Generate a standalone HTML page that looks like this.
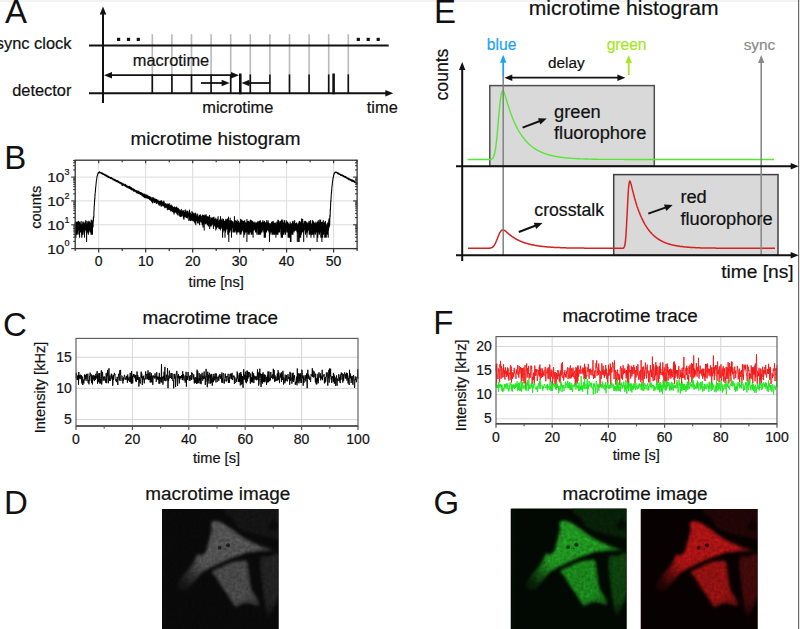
<!DOCTYPE html>
<html><head><meta charset="utf-8"><style>
html,body{margin:0;padding:0;background:#fff;}
body{width:800px;height:629px;overflow:hidden;position:relative;}
svg text{font-family:"Liberation Sans", sans-serif;}
</style></head><body>
<svg width="800" height="629" viewBox="0 0 800 629" style="position:absolute;left:0;top:0">
<defs>
<filter id="cellf" x="0" y="0" width="100%" height="100%" color-interpolation-filters="sRGB">
<feGaussianBlur in="SourceGraphic" stdDeviation="1.7" result="b"/>
<feTurbulence type="fractalNoise" baseFrequency="0.3" numOctaves="2" seed="5" result="n"/>
<feColorMatrix in="n" type="matrix" values="0.33 0.33 0.33 0 0  0.33 0.33 0.33 0 0  0.33 0.33 0.33 0 0  0 0 0 0 1" result="ng"/>
<feComposite in="b" in2="ng" operator="arithmetic" k1="1.0" k2="0.55" k3="0" k4="0"/>
</filter>
<filter id="soft"><feGaussianBlur stdDeviation="0.7"/></filter>
</defs>
<rect x="0" y="0" width="800" height="2" fill="#f2f2f2"/>
<rect x="798" y="0" width="1.2" height="629" fill="#6a6a6a"/>
<text x="4.9" y="23.3" font-size="33" text-anchor="start" fill="#111" stroke="#111" stroke-width="0.0" >A</text>
<line x1="103" y1="103" x2="103" y2="12" stroke="#111" stroke-width="2" />
<path d="M103 6.5L106.3 14.5L99.7 14.5Z" fill="#111"/>
<line x1="152.3" y1="34.2" x2="152.3" y2="93" stroke="#b9b9b9" stroke-width="1.6" />
<line x1="171.9" y1="34.2" x2="171.9" y2="93" stroke="#b9b9b9" stroke-width="1.6" />
<line x1="191.5" y1="34.2" x2="191.5" y2="93" stroke="#b9b9b9" stroke-width="1.6" />
<line x1="211.1" y1="34.2" x2="211.1" y2="93" stroke="#b9b9b9" stroke-width="1.6" />
<line x1="230.7" y1="34.2" x2="230.7" y2="93" stroke="#b9b9b9" stroke-width="1.6" />
<line x1="250.3" y1="34.2" x2="250.3" y2="93" stroke="#b9b9b9" stroke-width="1.6" />
<line x1="269.9" y1="34.2" x2="269.9" y2="93" stroke="#b9b9b9" stroke-width="1.6" />
<line x1="289.5" y1="34.2" x2="289.5" y2="93" stroke="#b9b9b9" stroke-width="1.6" />
<line x1="309.1" y1="34.2" x2="309.1" y2="93" stroke="#b9b9b9" stroke-width="1.6" />
<line x1="328.7" y1="34.2" x2="328.7" y2="93" stroke="#b9b9b9" stroke-width="1.6" />
<line x1="348.3" y1="34.2" x2="348.3" y2="93" stroke="#b9b9b9" stroke-width="1.6" />
<line x1="89" y1="45.6" x2="388.7" y2="45.6" stroke="#111" stroke-width="2" />
<rect x="117" y="37.8" width="3.2" height="3.2" fill="#111"/>
<rect x="126.9" y="37.8" width="3.2" height="3.2" fill="#111"/>
<rect x="136.7" y="37.8" width="3.2" height="3.2" fill="#111"/>
<rect x="356.7" y="37.8" width="3.2" height="3.2" fill="#111"/>
<rect x="366.6" y="37.8" width="3.2" height="3.2" fill="#111"/>
<rect x="376.6" y="37.8" width="3.2" height="3.2" fill="#111"/>
<line x1="89" y1="93.2" x2="387" y2="93.2" stroke="#111" stroke-width="2" />
<path d="M393.3 93.2L385.3 96.4L385.3 90Z" fill="#111"/>
<line x1="152.3" y1="74.4" x2="152.3" y2="93.2" stroke="#111" stroke-width="1.6" />
<line x1="171.9" y1="74.4" x2="171.9" y2="93.2" stroke="#111" stroke-width="1.6" />
<line x1="191.5" y1="74.4" x2="191.5" y2="93.2" stroke="#111" stroke-width="1.6" />
<line x1="211.1" y1="74.4" x2="211.1" y2="93.2" stroke="#111" stroke-width="1.6" />
<line x1="230.7" y1="74.4" x2="230.7" y2="93.2" stroke="#111" stroke-width="1.6" />
<line x1="250.3" y1="74.4" x2="250.3" y2="93.2" stroke="#111" stroke-width="1.6" />
<line x1="269.9" y1="74.4" x2="269.9" y2="93.2" stroke="#111" stroke-width="1.6" />
<line x1="289.5" y1="74.4" x2="289.5" y2="93.2" stroke="#111" stroke-width="1.6" />
<line x1="309.1" y1="74.4" x2="309.1" y2="93.2" stroke="#111" stroke-width="1.6" />
<line x1="328.7" y1="74.4" x2="328.7" y2="93.2" stroke="#111" stroke-width="1.6" />
<line x1="348.3" y1="74.4" x2="348.3" y2="93.2" stroke="#111" stroke-width="1.6" />
<line x1="240.3" y1="73.5" x2="240.3" y2="94.3" stroke="#111" stroke-width="2.6" />
<line x1="333.6" y1="73.5" x2="333.6" y2="94.3" stroke="#111" stroke-width="2.6" />
<line x1="110.4" y1="75.2" x2="232.6" y2="75.2" stroke="#111" stroke-width="1.8" />
<path d="M239 75.2L231 78.4L231 72Z" fill="#111"/>
<path d="M104 75.2L112 72L112 78.4Z" fill="#111"/>
<line x1="201" y1="83" x2="223.2" y2="83" stroke="#111" stroke-width="1.8" />
<path d="M229.6 83L221.6 86.2L221.6 79.8Z" fill="#111"/>
<line x1="270" y1="83" x2="247.9" y2="83" stroke="#111" stroke-width="1.8" />
<path d="M241.5 83L249.5 79.8L249.5 86.2Z" fill="#111"/>
<text x="71.4" y="48.9" font-size="16.4" text-anchor="end" fill="#111" stroke="#111" stroke-width="0.2" >sync clock</text>
<text x="71.4" y="95.6" font-size="16.4" text-anchor="end" fill="#111" stroke="#111" stroke-width="0.2" >detector</text>
<text x="171" y="66" font-size="16.4" text-anchor="middle" fill="#111" stroke="#111" stroke-width="0.2" >macrotime</text>
<text x="237.8" y="112.6" font-size="16.4" text-anchor="middle" fill="#111" stroke="#111" stroke-width="0.2" >microtime</text>
<text x="382.3" y="113.4" font-size="16.4" text-anchor="middle" fill="#111" stroke="#111" stroke-width="0.2" >time</text>
<text x="4.2" y="169.2" font-size="33" text-anchor="start" fill="#111" stroke="#111" stroke-width="0.0" >B</text>
<text x="215.5" y="144.8" font-size="18.9" text-anchor="middle" fill="#111" stroke="#111" stroke-width="0.2" >microtime histogram</text>
<line x1="98.7" y1="160.2" x2="98.7" y2="248.6" stroke="#dcdcdc" stroke-width="1" />
<line x1="145.7" y1="160.2" x2="145.7" y2="248.6" stroke="#dcdcdc" stroke-width="1" />
<line x1="192.7" y1="160.2" x2="192.7" y2="248.6" stroke="#dcdcdc" stroke-width="1" />
<line x1="239.6" y1="160.2" x2="239.6" y2="248.6" stroke="#dcdcdc" stroke-width="1" />
<line x1="286.6" y1="160.2" x2="286.6" y2="248.6" stroke="#dcdcdc" stroke-width="1" />
<line x1="333.6" y1="160.2" x2="333.6" y2="248.6" stroke="#dcdcdc" stroke-width="1" />
<line x1="75.2" y1="224.8" x2="357.1" y2="224.8" stroke="#dcdcdc" stroke-width="1" />
<line x1="75.2" y1="200.9" x2="357.1" y2="200.9" stroke="#dcdcdc" stroke-width="1" />
<line x1="75.2" y1="177.1" x2="357.1" y2="177.1" stroke="#dcdcdc" stroke-width="1" />
<path d="M75.2 230.1 75.3 222.1 75.3 237.2 75.4 228.5 75.5 234.3 75.5 225.9 75.6 228.5 75.7 224.8 75.7 228.5 75.8 222.9 75.9 230.1 75.9 237.2 76.0 223.8 76.1 230.1 76.1 228.5 76.2 228.5 76.3 222.1 76.4 223.8 76.4 224.8 76.5 227.1 76.6 228.5 76.6 234.3 76.7 230.1 76.8 225.9 76.8 227.1 76.9 223.8 77.0 228.5 77.0 228.5 77.1 227.1 77.2 230.1 77.2 231.9 77.3 223.8 77.4 230.1 77.4 222.1 77.5 225.9 77.6 222.1 77.6 228.5 77.7 231.9 77.8 225.9 77.8 234.3 77.9 227.1 78.0 228.5 78.0 225.9 78.1 222.9 78.2 227.1 78.2 222.1 78.3 230.1 78.4 224.8 78.4 230.1 78.5 221.3 78.6 222.9 78.6 224.8 78.7 222.1 78.8 223.8 78.8 227.1 78.9 225.9 79.0 227.1 79.0 224.8 79.1 230.1 79.2 234.3 79.2 234.3 79.3 224.8 79.4 228.5 79.4 223.8 79.5 227.1 79.6 225.9 79.6 237.2 79.7 225.9 79.8 231.9 79.8 222.1 79.9 228.5 80.0 231.9 80.0 230.1 80.1 228.5 80.2 228.5 80.2 228.5 80.3 225.9 80.4 227.1 80.4 225.9 80.5 230.1 80.6 231.9 80.6 225.9 80.7 231.9 80.8 231.9 80.8 230.1 80.9 223.8 81.0 225.9 81.1 231.9 81.1 223.8 81.2 221.3 81.3 228.5 81.3 228.5 81.4 230.1 81.5 228.5 81.5 225.9 81.6 231.9 81.7 237.2 81.7 234.3 81.8 234.3 81.9 231.9 81.9 237.2 82.0 227.1 82.1 228.5 82.1 228.5 82.2 227.1 82.3 224.8 82.3 230.1 82.4 225.9 82.5 228.5 82.5 234.3 82.6 223.8 82.7 225.9 82.7 231.9 82.8 222.1 82.9 231.9 82.9 230.1 83.0 224.8 83.1 231.9 83.1 234.3 83.2 228.5 83.3 227.1 83.3 222.1 83.4 227.1 83.5 230.1 83.5 228.5 83.6 225.9 83.7 227.1 83.7 223.8 83.8 228.5 83.9 227.1 83.9 225.9 84.0 223.8 84.1 227.1 84.1 228.5 84.2 224.8 84.3 231.9 84.3 230.1 84.4 223.8 84.5 223.8 84.5 237.2 84.6 228.5 84.7 228.5 84.7 225.9 84.8 231.9 84.9 223.8 84.9 225.9 85.0 222.1 85.1 227.1 85.1 225.9 85.2 225.9 85.3 223.8 85.3 228.5 85.4 230.1 85.5 225.9 85.5 222.1 85.6 228.5 85.7 228.5 85.7 220.6 85.8 224.8 85.9 225.9 86.0 228.5 86.0 227.1 86.1 225.9 86.2 230.1 86.2 224.8 86.3 227.1 86.4 228.5 86.4 225.9 86.5 227.1 86.6 241.4 86.6 227.1 86.7 225.9 86.8 234.3 86.8 234.3 86.9 225.9 87.0 221.3 87.0 224.8 87.1 230.1 87.2 224.8 87.2 230.1 87.3 222.1 87.4 230.1 87.4 228.5 87.5 227.1 87.6 224.8 87.6 230.1 87.7 231.9 87.8 224.8 87.8 230.1 87.9 230.1 88.0 227.1 88.0 227.1 88.1 228.5 88.2 224.8 88.2 228.5 88.3 223.8 88.4 234.3 88.4 234.3 88.5 222.1 88.6 227.1 88.6 231.9 88.7 225.9 88.8 225.9 88.8 221.3 88.9 230.1 89.0 221.3 89.0 225.9 89.1 225.9 89.2 227.1 89.2 228.5 89.3 223.8 89.4 222.9 89.4 222.9 89.5 223.8 89.6 224.8 89.6 224.8 89.7 230.1 89.8 222.1 89.8 230.1 89.9 228.5 90.0 231.9 90.0 224.8 90.1 224.8 90.2 231.9 90.2 231.9 90.3 228.5 90.4 231.9 90.4 230.1 90.5 230.1 90.6 225.9 90.6 230.1 90.7 223.8 90.8 230.1 90.9 224.8 90.9 222.9 91.0 234.3 91.1 227.1 91.1 225.9 91.2 219.9 91.3 224.8 91.3 223.8 91.4 224.8 91.5 231.9 91.5 234.3 91.6 222.9 91.7 224.8 91.7 230.1 91.8 220.6 91.9 231.9 91.9 227.1 92.0 227.1 92.1 234.3 92.1 225.9 92.2 224.8 92.3 230.1 92.3 225.9 92.4 221.3 92.5 234.3 92.5 222.9 92.6 227.1 92.7 225.9 92.7 223.8 92.8 227.1 92.9 225.9 92.9 224.8 93.0 222.1 93.1 227.1 93.1 222.9 93.2 222.9 93.3 218.1 93.3 217.6 93.4 221.3 93.5 219.9 93.5 218.7 93.6 216.6 93.7 217.6 93.7 216.6 93.8 217.6 93.9 215.3 93.9 211.2 94.0 211.5 94.1 209.7 94.1 207.7 94.2 206.4 94.3 206.2 94.3 205.9 94.4 203.6 94.5 204.9 94.5 202.5 94.6 200.4 94.7 199.1 94.7 198.8 94.8 198.6 94.9 198.9 94.9 196.3 95.0 194.6 95.1 195.6 95.1 193.5 95.2 193.2 95.3 192.2 95.3 190.9 95.4 190.3 95.5 191.2 95.6 188.1 95.6 187.5 95.7 187.5 95.8 187.2 95.8 186.7 95.9 185.6 96.0 185.1 96.0 184.1 96.1 183.6 96.2 183.0 96.2 182.7 96.3 181.1 96.4 181.0 96.4 180.5 96.5 179.8 96.6 180.0 96.6 179.8 96.7 179.3 96.8 178.3 96.8 177.9 96.9 178.3 97.0 176.7 97.0 176.5 97.1 176.3 97.2 176.3 97.2 175.9 97.3 175.6 97.4 175.5 97.4 174.9 97.5 175.5 97.6 174.7 97.6 174.2 97.7 174.4 97.8 173.5 97.8 173.8 97.9 173.5 98.0 173.7 98.0 173.1 98.1 173.2 98.2 173.5 98.2 172.9 98.3 173.3 98.4 173.0 98.4 172.8 98.5 172.3 98.6 172.7 98.6 172.2 98.7 172.5 98.8 172.5 98.8 172.6 98.9 172.5 99.0 172.4 99.0 172.7 99.1 172.2 99.2 172.3 99.2 172.2 99.3 172.8 99.4 171.7 99.4 171.7 99.5 172.3 99.6 171.8 99.6 172.5 99.7 172.3 99.8 172.0 99.8 173.0 99.9 172.3 100.0 172.4 100.0 172.3 100.1 172.6 100.2 172.5 100.2 172.6 100.3 172.5 100.4 172.6 100.5 172.6 100.5 172.7 100.6 172.6 100.7 172.8 100.7 172.8 100.8 172.6 100.9 172.7 100.9 172.9 101.0 172.9 101.1 172.6 101.1 173.2 101.2 172.9 101.3 173.1 101.3 173.4 101.4 173.5 101.5 173.4 101.5 173.3 101.6 173.6 101.7 173.0 101.7 173.0 101.8 173.1 101.9 173.1 101.9 173.6 102.0 173.6 102.1 173.6 102.1 173.1 102.2 173.5 102.3 173.2 102.3 173.6 102.4 173.4 102.5 173.5 102.5 173.3 102.6 173.7 102.7 174.3 102.7 173.6 102.8 173.9 102.9 173.4 102.9 173.5 103.0 174.0 103.1 174.2 103.1 174.3 103.2 174.6 103.3 173.5 103.3 173.9 103.4 174.4 103.5 174.0 103.5 173.8 103.6 174.4 103.7 174.1 103.7 174.4 103.8 174.3 103.9 174.3 103.9 174.2 104.0 174.4 104.1 174.4 104.1 174.8 104.2 174.1 104.3 174.5 104.3 174.3 104.4 174.8 104.5 174.7 104.5 175.2 104.6 174.6 104.7 175.2 104.7 174.7 104.8 174.9 104.9 174.4 104.9 174.6 105.0 175.3 105.1 174.3 105.2 175.0 105.2 175.1 105.3 175.3 105.4 175.6 105.4 175.2 105.5 175.1 105.6 175.4 105.6 175.3 105.7 175.0 105.8 175.4 105.8 175.8 105.9 175.9 106.0 175.3 106.0 175.8 106.1 175.5 106.2 175.3 106.2 175.5 106.3 175.5 106.4 175.1 106.4 176.1 106.5 175.4 106.6 175.6 106.6 176.1 106.7 176.4 106.8 176.1 106.8 176.0 106.9 175.6 107.0 176.7 107.0 175.9 107.1 176.3 107.2 176.1 107.2 176.0 107.3 177.0 107.4 176.3 107.4 176.9 107.5 176.5 107.6 176.0 107.6 175.9 107.7 176.5 107.8 177.0 107.8 176.4 107.9 176.1 108.0 177.2 108.0 176.3 108.1 176.7 108.2 177.1 108.2 176.5 108.3 176.5 108.4 177.1 108.4 177.5 108.5 176.8 108.6 177.1 108.6 176.3 108.7 176.8 108.8 176.8 108.8 177.1 108.9 177.6 109.0 176.7 109.0 177.4 109.1 176.9 109.2 177.2 109.2 177.1 109.3 177.3 109.4 177.0 109.4 177.0 109.5 177.1 109.6 177.6 109.6 177.5 109.7 177.4 109.8 177.2 109.8 177.1 109.9 177.1 110.0 178.0 110.1 178.1 110.1 178.0 110.2 177.5 110.3 178.6 110.3 177.9 110.4 177.9 110.5 177.7 110.5 177.6 110.6 178.0 110.7 177.8 110.7 178.0 110.8 178.3 110.9 177.8 110.9 177.4 111.0 177.5 111.1 177.9 111.1 178.0 111.2 178.8 111.3 178.5 111.3 178.4 111.4 178.1 111.5 178.7 111.5 177.9 111.6 177.6 111.7 178.5 111.7 178.5 111.8 178.6 111.9 178.8 111.9 178.6 112.0 178.6 112.1 178.3 112.1 178.8 112.2 178.9 112.3 178.5 112.3 178.9 112.4 178.8 112.5 178.8 112.5 178.9 112.6 179.2 112.7 178.2 112.7 179.1 112.8 179.0 112.9 179.6 112.9 179.5 113.0 178.8 113.1 179.2 113.1 179.4 113.2 178.8 113.3 179.3 113.3 178.7 113.4 179.4 113.5 179.5 113.5 179.7 113.6 179.2 113.7 179.5 113.7 179.4 113.8 179.7 113.9 180.2 113.9 179.7 114.0 179.4 114.1 179.4 114.1 179.7 114.2 180.0 114.3 179.3 114.3 180.4 114.4 179.8 114.5 180.1 114.5 179.6 114.6 179.4 114.7 180.3 114.7 180.0 114.8 180.0 114.9 180.0 115.0 180.0 115.0 180.8 115.1 180.4 115.2 180.1 115.2 180.4 115.3 180.6 115.4 179.8 115.4 180.5 115.5 180.6 115.6 179.9 115.6 180.8 115.7 180.8 115.8 180.0 115.8 180.1 115.9 181.0 116.0 180.3 116.0 181.1 116.1 181.2 116.2 180.8 116.2 181.7 116.3 181.4 116.4 181.0 116.4 180.5 116.5 181.1 116.6 181.2 116.6 180.6 116.7 180.6 116.8 180.9 116.8 181.4 116.9 180.5 117.0 180.6 117.0 180.8 117.1 180.9 117.2 181.1 117.2 181.8 117.3 181.0 117.4 181.3 117.4 181.3 117.5 181.2 117.6 181.4 117.6 181.7 117.7 181.9 117.8 180.6 117.8 181.5 117.9 181.5 118.0 182.2 118.0 181.7 118.1 181.5 118.2 181.0 118.2 181.4 118.3 182.7 118.4 181.8 118.4 182.0 118.5 182.4 118.6 182.3 118.6 181.6 118.7 181.7 118.8 182.2 118.8 181.7 118.9 181.6 119.0 182.5 119.0 182.3 119.1 181.7 119.2 182.5 119.2 182.2 119.3 182.5 119.4 182.2 119.4 182.8 119.5 182.8 119.6 182.4 119.7 182.2 119.7 183.2 119.8 182.7 119.9 182.9 119.9 182.3 120.0 182.9 120.1 182.2 120.1 183.2 120.2 183.0 120.3 182.9 120.3 183.2 120.4 183.1 120.5 182.5 120.5 182.7 120.6 182.8 120.7 183.7 120.7 182.2 120.8 183.0 120.9 183.7 120.9 182.8 121.0 183.9 121.1 183.2 121.1 182.6 121.2 183.8 121.3 183.8 121.3 183.7 121.4 183.3 121.5 183.0 121.5 183.3 121.6 184.3 121.7 182.9 121.7 183.6 121.8 183.4 121.9 183.9 121.9 183.9 122.0 183.4 122.1 184.0 122.1 185.6 122.2 184.0 122.3 183.3 122.3 184.0 122.4 184.8 122.5 184.0 122.5 183.5 122.6 183.6 122.7 184.1 122.7 184.0 122.8 184.7 122.9 183.8 122.9 185.2 123.0 184.1 123.1 184.0 123.1 184.0 123.2 184.8 123.3 184.6 123.3 184.2 123.4 184.3 123.5 184.6 123.5 184.7 123.6 183.9 123.7 184.4 123.7 183.8 123.8 184.6 123.9 184.9 123.9 185.0 124.0 184.1 124.1 184.6 124.1 185.4 124.2 185.0 124.3 184.6 124.3 184.9 124.4 185.3 124.5 185.0 124.6 185.5 124.6 185.6 124.7 185.1 124.8 185.5 124.8 185.9 124.9 184.9 125.0 185.3 125.0 186.1 125.1 185.7 125.2 185.7 125.2 185.6 125.3 184.9 125.4 185.7 125.4 185.7 125.5 185.1 125.6 184.2 125.6 185.5 125.7 186.2 125.8 184.8 125.8 185.0 125.9 186.1 126.0 185.3 126.0 186.3 126.1 186.5 126.2 185.8 126.2 186.7 126.3 186.2 126.4 186.3 126.4 185.7 126.5 186.4 126.6 186.5 126.6 187.1 126.7 186.4 126.8 185.7 126.8 186.4 126.9 185.8 127.0 186.7 127.0 186.0 127.1 186.9 127.2 186.3 127.2 185.8 127.3 186.6 127.4 186.4 127.4 186.3 127.5 186.4 127.6 187.1 127.6 186.6 127.7 187.5 127.8 187.0 127.8 187.7 127.9 186.4 128.0 187.2 128.0 186.9 128.1 187.1 128.2 187.2 128.2 186.6 128.3 186.4 128.4 187.7 128.4 187.0 128.5 187.1 128.6 186.7 128.6 187.4 128.7 187.7 128.8 186.8 128.8 187.3 128.9 187.3 129.0 186.7 129.0 187.5 129.1 187.2 129.2 186.2 129.2 188.4 129.3 187.0 129.4 187.5 129.5 188.6 129.5 188.0 129.6 188.5 129.7 188.5 129.7 187.7 129.8 187.6 129.9 187.8 129.9 186.6 130.0 188.2 130.1 187.8 130.1 188.1 130.2 188.1 130.3 188.2 130.3 188.5 130.4 188.2 130.5 187.9 130.5 188.0 130.6 187.2 130.7 187.8 130.7 188.5 130.8 187.6 130.9 188.4 130.9 189.4 131.0 189.3 131.1 188.8 131.1 188.6 131.2 188.6 131.3 189.5 131.3 187.4 131.4 187.5 131.5 188.5 131.5 189.7 131.6 188.9 131.7 189.2 131.7 189.2 131.8 189.2 131.9 188.9 131.9 189.1 132.0 189.9 132.1 189.2 132.1 188.7 132.2 189.3 132.3 189.2 132.3 189.2 132.4 188.9 132.5 188.9 132.5 189.3 132.6 189.9 132.7 189.2 132.7 189.8 132.8 189.4 132.9 189.5 132.9 188.2 133.0 190.0 133.1 189.7 133.1 189.6 133.2 188.7 133.3 189.0 133.3 188.9 133.4 190.2 133.5 189.4 133.5 191.1 133.6 190.4 133.7 190.0 133.7 190.5 133.8 190.1 133.9 190.0 133.9 189.5 134.0 190.3 134.1 190.4 134.2 190.4 134.2 190.2 134.3 189.4 134.4 191.2 134.4 190.7 134.5 190.3 134.6 191.1 134.6 190.5 134.7 190.4 134.8 190.8 134.8 190.5 134.9 189.8 135.0 191.1 135.0 190.0 135.1 190.5 135.2 190.4 135.2 191.2 135.3 190.3 135.4 191.5 135.4 191.3 135.5 190.7 135.6 191.6 135.6 190.8 135.7 191.8 135.8 191.2 135.8 191.5 135.9 191.7 136.0 191.8 136.0 191.0 136.1 190.4 136.2 191.1 136.2 190.4 136.3 192.5 136.4 192.0 136.4 192.3 136.5 190.9 136.6 191.2 136.6 191.9 136.7 192.7 136.8 192.6 136.8 191.4 136.9 191.3 137.0 191.3 137.0 192.0 137.1 191.7 137.2 193.2 137.2 193.3 137.3 192.6 137.4 191.4 137.4 190.9 137.5 191.7 137.6 192.1 137.6 192.4 137.7 192.7 137.8 192.6 137.8 191.8 137.9 192.6 138.0 191.8 138.0 191.1 138.1 192.5 138.2 192.8 138.2 190.9 138.3 192.5 138.4 193.5 138.4 191.8 138.5 192.8 138.6 191.8 138.6 193.1 138.7 193.5 138.8 191.8 138.8 192.5 138.9 192.0 139.0 191.2 139.1 193.7 139.1 192.5 139.2 192.9 139.3 193.2 139.3 193.6 139.4 193.3 139.5 193.6 139.5 192.5 139.6 192.8 139.7 193.2 139.7 192.2 139.8 192.9 139.9 193.4 139.9 193.4 140.0 192.7 140.1 192.6 140.1 194.0 140.2 193.4 140.3 193.8 140.3 192.4 140.4 194.4 140.5 192.7 140.5 193.3 140.6 193.2 140.7 192.5 140.7 194.2 140.8 193.9 140.9 192.9 140.9 193.4 141.0 194.5 141.1 192.5 141.1 193.8 141.2 193.6 141.3 194.5 141.3 193.6 141.4 192.7 141.5 194.9 141.5 193.9 141.6 194.0 141.7 194.4 141.7 192.9 141.8 193.9 141.9 194.7 141.9 194.2 142.0 193.4 142.1 194.8 142.1 194.9 142.2 195.2 142.3 194.0 142.3 196.1 142.4 193.8 142.5 194.5 142.5 194.9 142.6 193.9 142.7 194.5 142.7 195.1 142.8 193.4 142.9 195.6 142.9 194.7 143.0 195.1 143.1 193.9 143.1 195.1 143.2 195.6 143.3 194.7 143.3 194.1 143.4 194.7 143.5 196.7 143.5 195.0 143.6 194.9 143.7 194.5 143.8 194.6 143.8 196.0 143.9 195.6 144.0 194.7 144.0 194.9 144.1 195.2 144.2 193.9 144.2 195.6 144.3 196.1 144.4 195.3 144.4 197.0 144.5 195.1 144.6 197.5 144.6 195.9 144.7 195.0 144.8 194.4 144.8 195.9 144.9 196.1 145.0 196.4 145.0 196.3 145.1 195.3 145.2 197.8 145.2 196.5 145.3 196.5 145.4 196.7 145.4 194.9 145.5 195.8 145.6 197.5 145.6 195.0 145.7 195.5 145.8 195.1 145.8 196.1 145.9 195.3 146.0 196.4 146.0 195.9 146.1 196.1 146.2 195.6 146.2 196.4 146.3 196.5 146.4 194.7 146.4 194.7 146.5 197.9 146.6 197.0 146.6 196.7 146.7 196.1 146.8 197.8 146.8 196.5 146.9 195.5 147.0 196.6 147.0 196.8 147.1 197.0 147.2 195.5 147.2 195.1 147.3 196.8 147.4 197.1 147.4 198.0 147.5 197.5 147.6 195.9 147.6 196.7 147.7 197.0 147.8 197.0 147.8 197.6 147.9 197.5 148.0 197.8 148.0 198.4 148.1 197.5 148.2 196.0 148.2 196.4 148.3 197.5 148.4 196.1 148.4 196.8 148.5 196.9 148.6 197.5 148.7 198.5 148.7 196.5 148.8 197.6 148.9 198.7 148.9 197.7 149.0 196.6 149.1 198.1 149.1 197.2 149.2 197.2 149.3 199.0 149.3 198.4 149.4 196.6 149.5 196.5 149.5 199.5 149.6 197.1 149.7 197.0 149.7 197.1 149.8 198.6 149.9 197.4 149.9 197.7 150.0 199.8 150.1 197.0 150.1 197.0 150.2 198.1 150.3 198.5 150.3 199.0 150.4 198.7 150.5 200.2 150.5 197.6 150.6 199.8 150.7 199.4 150.7 197.0 150.8 197.8 150.9 197.5 150.9 199.1 151.0 199.9 151.1 197.7 151.1 198.9 151.2 197.5 151.3 198.3 151.3 198.4 151.4 199.4 151.5 200.2 151.5 200.2 151.6 201.4 151.7 198.1 151.7 199.6 151.8 198.7 151.9 198.9 151.9 198.8 152.0 201.1 152.1 199.1 152.1 200.2 152.2 199.5 152.3 201.8 152.3 200.0 152.4 203.0 152.5 202.5 152.5 199.0 152.6 198.1 152.7 200.1 152.7 197.5 152.8 199.3 152.9 200.1 152.9 201.3 153.0 200.6 153.1 198.0 153.1 200.2 153.2 199.5 153.3 200.6 153.3 200.1 153.4 200.1 153.5 198.5 153.6 197.7 153.6 200.5 153.7 200.5 153.8 201.0 153.8 200.6 153.9 200.1 154.0 202.6 154.0 198.0 154.1 202.1 154.2 200.8 154.2 199.9 154.3 201.3 154.4 200.4 154.4 202.4 154.5 200.1 154.6 200.9 154.6 201.4 154.7 202.5 154.8 200.0 154.8 200.1 154.9 199.1 155.0 200.7 155.0 201.9 155.1 201.0 155.2 199.0 155.2 200.5 155.3 200.5 155.4 202.0 155.4 200.0 155.5 199.5 155.6 201.5 155.6 201.6 155.7 201.1 155.8 201.9 155.8 200.3 155.9 201.6 156.0 199.3 156.0 200.7 156.1 201.5 156.2 201.8 156.2 202.9 156.3 201.6 156.4 201.1 156.4 201.7 156.5 200.7 156.6 201.4 156.6 199.6 156.7 203.6 156.8 201.6 156.8 200.6 156.9 200.3 157.0 201.3 157.0 201.9 157.1 201.1 157.2 200.9 157.2 200.9 157.3 201.5 157.4 200.8 157.4 201.4 157.5 200.4 157.6 201.0 157.6 201.5 157.7 200.6 157.8 202.0 157.8 202.5 157.9 202.6 158.0 199.9 158.0 200.8 158.1 200.6 158.2 203.0 158.3 204.1 158.3 201.5 158.4 200.9 158.5 203.9 158.5 203.2 158.6 202.5 158.7 201.8 158.7 203.1 158.8 202.0 158.9 201.5 158.9 203.1 159.0 201.7 159.1 203.4 159.1 203.4 159.2 205.4 159.3 203.1 159.3 203.8 159.4 201.5 159.5 203.0 159.5 203.6 159.6 203.1 159.7 202.0 159.7 201.6 159.8 203.6 159.9 202.9 159.9 203.9 160.0 203.1 160.1 204.2 160.1 200.8 160.2 202.4 160.3 203.4 160.3 204.3 160.4 203.4 160.5 204.1 160.5 203.0 160.6 203.5 160.7 202.1 160.7 203.9 160.8 201.6 160.9 205.9 160.9 203.8 161.0 204.1 161.1 204.6 161.1 204.3 161.2 203.8 161.3 203.5 161.3 206.1 161.4 200.5 161.5 204.2 161.5 204.1 161.6 204.3 161.7 205.9 161.7 205.4 161.8 205.1 161.9 202.6 161.9 205.6 162.0 204.9 162.1 201.7 162.1 202.7 162.2 203.8 162.3 204.6 162.3 202.4 162.4 203.4 162.5 204.9 162.5 203.6 162.6 203.4 162.7 204.6 162.7 202.1 162.8 203.9 162.9 202.9 162.9 204.1 163.0 203.5 163.1 203.6 163.2 202.3 163.2 206.1 163.3 204.1 163.4 205.6 163.4 205.7 163.5 204.1 163.6 203.9 163.6 205.4 163.7 205.1 163.8 201.1 163.8 203.1 163.9 205.4 164.0 205.4 164.0 205.2 164.1 205.1 164.2 204.6 164.2 201.9 164.3 203.6 164.4 204.6 164.4 205.4 164.5 205.4 164.6 207.3 164.6 207.3 164.7 205.7 164.8 207.7 164.8 203.9 164.9 206.6 165.0 206.2 165.0 205.4 165.1 206.2 165.2 206.2 165.2 204.9 165.3 204.8 165.4 206.4 165.4 204.6 165.5 205.4 165.6 203.5 165.6 203.6 165.7 207.3 165.8 206.6 165.8 206.1 165.9 206.6 166.0 206.4 166.0 206.6 166.1 207.1 166.2 205.2 166.2 205.1 166.3 206.6 166.4 207.1 166.4 206.2 166.5 207.3 166.6 205.2 166.6 204.9 166.7 205.2 166.8 205.6 166.8 205.6 166.9 206.8 167.0 203.9 167.0 207.9 167.1 205.7 167.2 208.3 167.2 205.2 167.3 206.8 167.4 204.6 167.4 209.7 167.5 205.4 167.6 206.2 167.6 208.3 167.7 206.1 167.8 207.5 167.8 208.1 167.9 204.1 168.0 206.9 168.1 205.7 168.1 207.3 168.2 204.6 168.3 207.1 168.3 205.6 168.4 206.9 168.5 207.9 168.5 206.9 168.6 209.4 168.7 208.5 168.7 206.6 168.8 205.9 168.9 208.3 168.9 206.2 169.0 206.9 169.1 209.2 169.1 207.5 169.2 203.5 169.3 207.9 169.3 207.1 169.4 206.9 169.5 206.8 169.5 207.1 169.6 207.1 169.7 206.9 169.7 207.1 169.8 209.7 169.9 207.1 169.9 208.1 170.0 205.4 170.1 205.9 170.1 207.5 170.2 206.4 170.3 209.7 170.3 207.7 170.4 207.5 170.5 206.6 170.5 208.5 170.6 206.8 170.7 207.3 170.7 211.0 170.8 206.2 170.9 207.3 170.9 209.0 171.0 209.2 171.1 209.0 171.1 204.8 171.2 208.5 171.3 207.7 171.3 210.4 171.4 209.9 171.5 207.9 171.5 206.8 171.6 208.3 171.7 206.2 171.7 206.6 171.8 207.7 171.9 208.3 171.9 211.0 172.0 209.4 172.1 207.3 172.1 209.0 172.2 206.1 172.3 207.9 172.3 210.4 172.4 207.1 172.5 209.4 172.5 211.2 172.6 209.4 172.7 208.3 172.8 210.7 172.8 209.2 172.9 206.9 173.0 211.8 173.0 210.2 173.1 209.9 173.2 210.4 173.2 211.0 173.3 211.0 173.4 211.0 173.4 209.2 173.5 207.9 173.6 207.7 173.6 208.1 173.7 208.1 173.8 209.0 173.8 213.1 173.9 210.2 174.0 210.2 174.0 212.4 174.1 214.1 174.2 210.4 174.2 207.3 174.3 207.9 174.4 210.7 174.4 212.7 174.5 206.9 174.6 208.3 174.6 212.4 174.7 211.5 174.8 211.0 174.8 208.8 174.9 208.5 175.0 209.7 175.0 211.5 175.1 211.0 175.2 210.2 175.2 207.7 175.3 212.1 175.4 207.5 175.4 211.5 175.5 208.3 175.6 209.0 175.6 210.7 175.7 209.4 175.8 208.8 175.8 212.1 175.9 208.5 176.0 210.2 176.0 209.7 176.1 212.1 176.2 210.7 176.2 209.2 176.3 212.1 176.4 211.2 176.4 211.5 176.5 208.8 176.6 206.9 176.6 208.8 176.7 209.2 176.8 213.8 176.8 209.7 176.9 209.9 177.0 209.0 177.0 210.2 177.1 209.4 177.2 210.2 177.2 208.3 177.3 212.4 177.4 210.4 177.4 209.4 177.5 213.4 177.6 209.4 177.7 214.5 177.7 209.9 177.8 214.9 177.9 208.1 177.9 212.7 178.0 210.2 178.1 212.4 178.1 211.5 178.2 212.4 178.3 209.9 178.3 210.7 178.4 209.9 178.5 209.2 178.5 212.1 178.6 208.8 178.7 211.8 178.7 210.7 178.8 209.7 178.9 211.5 178.9 211.5 179.0 211.5 179.1 215.3 179.1 214.9 179.2 209.9 179.3 209.7 179.3 210.2 179.4 211.8 179.5 213.1 179.5 212.1 179.6 211.5 179.7 211.0 179.7 211.5 179.8 213.4 179.9 213.4 179.9 216.2 180.0 212.4 180.1 211.5 180.1 211.5 180.2 214.5 180.3 213.8 180.3 210.4 180.4 214.5 180.5 211.5 180.5 212.1 180.6 210.7 180.7 213.8 180.7 214.5 180.8 215.3 180.9 216.6 180.9 212.4 181.0 213.1 181.1 213.4 181.1 214.9 181.2 212.1 181.3 214.9 181.3 209.2 181.4 215.3 181.5 216.2 181.5 211.2 181.6 212.7 181.7 211.5 181.7 211.0 181.8 214.9 181.9 213.4 181.9 212.4 182.0 213.1 182.1 212.4 182.1 211.2 182.2 215.3 182.3 210.7 182.3 215.3 182.4 212.7 182.5 213.1 182.6 214.1 182.6 214.9 182.7 211.5 182.8 212.7 182.8 212.1 182.9 213.1 183.0 212.7 183.0 212.7 183.1 211.0 183.2 214.1 183.2 217.1 183.3 212.4 183.4 217.1 183.4 212.4 183.5 217.6 183.6 214.5 183.6 218.7 183.7 215.3 183.8 216.2 183.8 214.1 183.9 212.7 184.0 213.8 184.0 219.3 184.1 210.2 184.2 213.1 184.2 215.3 184.3 212.7 184.4 214.9 184.4 212.1 184.5 216.6 184.6 216.2 184.6 212.4 184.7 213.4 184.8 216.6 184.8 215.3 184.9 215.3 185.0 215.3 185.0 216.2 185.1 214.5 185.2 215.7 185.2 213.4 185.3 214.9 185.4 212.7 185.4 215.7 185.5 214.5 185.6 214.9 185.6 211.8 185.7 209.7 185.8 216.6 185.8 215.3 185.9 213.4 186.0 217.6 186.0 213.8 186.1 213.8 186.2 215.7 186.2 213.8 186.3 215.3 186.4 216.2 186.4 214.9 186.5 212.4 186.6 215.3 186.6 214.1 186.7 217.6 186.8 216.2 186.8 214.5 186.9 215.3 187.0 215.3 187.0 211.2 187.1 211.8 187.2 213.4 187.3 215.3 187.3 215.3 187.4 215.7 187.5 218.1 187.5 218.1 187.6 215.3 187.7 214.1 187.7 213.8 187.8 215.3 187.9 211.0 187.9 215.7 188.0 213.4 188.1 212.7 188.1 214.5 188.2 215.3 188.3 215.3 188.3 213.4 188.4 213.1 188.5 215.3 188.5 215.3 188.6 215.3 188.7 216.6 188.7 214.1 188.8 220.6 188.9 213.4 188.9 214.1 189.0 214.5 189.1 214.1 189.1 213.1 189.2 215.3 189.3 212.1 189.3 219.9 189.4 214.9 189.5 216.2 189.5 209.9 189.6 214.9 189.7 215.3 189.7 212.4 189.8 214.1 189.9 214.1 189.9 216.2 190.0 216.6 190.1 213.1 190.1 217.6 190.2 218.7 190.3 218.1 190.3 215.3 190.4 220.6 190.5 213.1 190.5 214.5 190.6 217.6 190.7 214.9 190.7 214.5 190.8 216.6 190.9 216.2 190.9 220.6 191.0 217.1 191.1 216.2 191.1 214.5 191.2 215.3 191.3 218.1 191.3 215.7 191.4 214.9 191.5 215.7 191.5 214.5 191.6 215.7 191.7 217.1 191.7 219.9 191.8 215.7 191.9 211.5 191.9 217.6 192.0 217.6 192.1 211.8 192.2 215.3 192.2 216.2 192.3 215.3 192.4 219.9 192.4 216.6 192.5 215.3 192.6 214.9 192.6 218.7 192.7 220.6 192.8 215.3 192.8 218.1 192.9 217.6 193.0 212.7 193.0 216.6 193.1 214.9 193.2 214.1 193.2 217.1 193.3 219.3 193.4 219.3 193.4 217.1 193.5 215.3 193.6 216.6 193.6 217.1 193.7 217.1 193.8 221.3 193.8 220.6 193.9 219.9 194.0 215.7 194.0 218.1 194.1 219.3 194.2 213.4 194.2 216.6 194.3 219.3 194.4 215.3 194.4 215.7 194.5 218.1 194.6 218.1 194.6 216.2 194.7 221.3 194.8 222.9 194.8 217.6 194.9 221.3 195.0 217.1 195.0 216.2 195.1 216.2 195.2 219.9 195.2 219.3 195.3 218.1 195.4 213.1 195.4 219.3 195.5 214.5 195.6 216.2 195.6 222.1 195.7 214.1 195.8 224.8 195.8 222.9 195.9 215.7 196.0 216.2 196.0 218.7 196.1 220.6 196.2 218.7 196.2 216.2 196.3 217.1 196.4 217.1 196.4 218.1 196.5 217.6 196.6 217.1 196.6 220.6 196.7 217.6 196.8 216.6 196.9 219.3 196.9 217.1 197.0 219.9 197.1 213.8 197.1 220.6 197.2 214.9 197.3 215.3 197.3 218.7 197.4 221.3 197.5 218.7 197.5 218.1 197.6 222.9 197.7 218.1 197.7 217.1 197.8 217.6 197.9 214.9 197.9 220.6 198.0 218.1 198.1 217.1 198.1 216.2 198.2 219.3 198.3 219.9 198.3 217.6 198.4 216.6 198.5 218.1 198.5 217.1 198.6 217.6 198.7 218.1 198.7 218.1 198.8 222.9 198.9 222.9 198.9 221.3 199.0 219.9 199.1 221.3 199.1 217.6 199.2 219.9 199.3 217.6 199.3 219.9 199.4 220.6 199.5 215.3 199.5 219.3 199.6 224.8 199.7 219.9 199.7 215.7 199.8 216.2 199.9 217.6 199.9 218.7 200.0 216.6 200.1 220.6 200.1 217.6 200.2 214.5 200.3 221.3 200.3 218.7 200.4 217.6 200.5 219.3 200.5 219.9 200.6 220.6 200.7 219.9 200.7 219.9 200.8 218.1 200.9 219.9 200.9 215.7 201.0 218.7 201.1 222.1 201.1 220.6 201.2 217.1 201.3 220.6 201.3 218.1 201.4 217.1 201.5 218.7 201.5 217.6 201.6 218.7 201.7 217.6 201.8 218.7 201.8 218.1 201.9 216.6 202.0 222.1 202.0 223.8 202.1 220.6 202.2 224.8 202.2 217.6 202.3 218.7 202.4 219.3 202.4 222.1 202.5 214.9 202.6 218.1 202.6 221.3 202.7 217.1 202.8 218.7 202.8 221.3 202.9 219.9 203.0 218.7 203.0 227.1 203.1 216.2 203.2 222.9 203.2 219.9 203.3 219.9 203.4 223.8 203.4 215.3 203.5 222.9 203.6 223.8 203.6 222.1 203.7 222.1 203.8 222.1 203.8 218.1 203.9 220.6 204.0 221.3 204.0 221.3 204.1 223.8 204.2 221.3 204.2 230.1 204.3 217.1 204.4 222.9 204.4 217.6 204.5 215.7 204.6 219.9 204.6 219.9 204.7 220.6 204.8 219.3 204.8 214.9 204.9 219.9 205.0 219.3 205.0 217.6 205.1 219.3 205.2 218.1 205.2 219.9 205.3 215.7 205.4 223.8 205.4 221.3 205.5 219.9 205.6 220.6 205.6 218.1 205.7 222.9 205.8 218.1 205.8 222.1 205.9 223.8 206.0 218.7 206.0 219.9 206.1 214.5 206.2 221.3 206.2 222.1 206.3 222.9 206.4 219.3 206.4 222.9 206.5 222.9 206.6 222.1 206.7 217.1 206.7 216.2 206.8 219.9 206.9 219.3 206.9 219.9 207.0 221.3 207.1 217.1 207.1 219.9 207.2 218.1 207.3 218.1 207.3 224.8 207.4 223.8 207.5 219.3 207.5 218.7 207.6 222.9 207.7 220.6 207.7 220.6 207.8 221.3 207.9 222.9 207.9 219.3 208.0 216.2 208.1 223.8 208.1 218.7 208.2 222.1 208.3 222.1 208.3 225.9 208.4 217.1 208.5 221.3 208.5 225.9 208.6 221.3 208.7 222.9 208.7 219.9 208.8 220.6 208.9 220.6 208.9 217.6 209.0 222.9 209.1 221.3 209.1 221.3 209.2 223.8 209.3 222.1 209.3 223.8 209.4 222.1 209.5 223.8 209.5 220.6 209.6 215.3 209.7 219.9 209.7 228.5 209.8 222.1 209.9 222.1 209.9 219.9 210.0 223.8 210.1 219.9 210.1 221.3 210.2 223.8 210.3 221.3 210.3 219.9 210.4 219.9 210.5 220.6 210.5 221.3 210.6 219.9 210.7 221.3 210.7 225.9 210.8 219.3 210.9 217.6 210.9 224.8 211.0 218.7 211.1 218.7 211.1 222.1 211.2 225.9 211.3 225.9 211.4 221.3 211.4 218.1 211.5 220.6 211.6 224.8 211.6 221.3 211.7 220.6 211.8 222.1 211.8 223.8 211.9 224.8 212.0 221.3 212.0 218.7 212.1 224.8 212.2 220.6 212.2 221.3 212.3 222.9 212.4 221.3 212.4 220.6 212.5 218.1 212.6 222.1 212.6 222.9 212.7 221.3 212.8 221.3 212.8 223.8 212.9 217.6 213.0 222.1 213.0 222.9 213.1 220.6 213.2 219.3 213.2 219.9 213.3 222.1 213.4 218.7 213.4 228.5 213.5 219.3 213.6 218.7 213.6 223.8 213.7 223.8 213.8 223.8 213.8 222.1 213.9 219.3 214.0 222.9 214.0 217.1 214.1 223.8 214.2 222.9 214.2 224.8 214.3 223.8 214.4 222.9 214.4 222.1 214.5 222.9 214.6 224.8 214.6 221.3 214.7 225.9 214.8 219.3 214.8 222.9 214.9 221.3 215.0 223.8 215.0 219.9 215.1 224.8 215.2 222.1 215.2 219.9 215.3 221.3 215.4 220.6 215.4 221.3 215.5 227.1 215.6 220.6 215.6 221.3 215.7 224.8 215.8 230.1 215.8 218.1 215.9 220.6 216.0 221.3 216.0 223.8 216.1 220.6 216.2 222.9 216.3 222.9 216.3 223.8 216.4 220.6 216.5 224.8 216.5 228.5 216.6 222.1 216.7 225.9 216.7 219.9 216.8 222.9 216.9 222.1 216.9 222.1 217.0 220.6 217.1 221.3 217.1 227.1 217.2 225.9 217.3 219.3 217.3 221.3 217.4 222.1 217.5 222.9 217.5 227.1 217.6 220.6 217.7 218.7 217.7 221.3 217.8 222.1 217.9 224.8 217.9 220.6 218.0 222.1 218.1 216.6 218.1 225.9 218.2 222.1 218.3 221.3 218.3 222.1 218.4 222.1 218.5 223.8 218.5 224.8 218.6 227.1 218.7 221.3 218.7 222.1 218.8 224.8 218.9 221.3 218.9 223.8 219.0 228.5 219.1 221.3 219.1 228.5 219.2 221.3 219.3 228.5 219.3 222.1 219.4 225.9 219.5 224.8 219.5 224.8 219.6 221.3 219.7 219.9 219.7 222.1 219.8 225.9 219.9 225.9 219.9 224.8 220.0 228.5 220.1 222.1 220.1 222.1 220.2 227.1 220.3 230.1 220.3 223.8 220.4 222.9 220.5 216.6 220.5 225.9 220.6 227.1 220.7 225.9 220.7 228.5 220.8 227.1 220.9 225.9 220.9 223.8 221.0 219.9 221.1 228.5 221.2 223.8 221.2 224.8 221.3 222.1 221.4 224.8 221.4 220.6 221.5 224.8 221.6 223.8 221.6 219.9 221.7 221.3 221.8 221.3 221.8 220.6 221.9 227.1 222.0 220.6 222.0 219.3 222.1 219.3 222.2 218.7 222.2 222.1 222.3 222.1 222.4 227.1 222.4 227.1 222.5 222.1 222.6 237.2 222.6 223.8 222.7 227.1 222.8 221.3 222.8 225.9 222.9 231.9 223.0 222.9 223.0 225.9 223.1 231.9 223.2 222.9 223.2 222.1 223.3 222.9 223.4 228.5 223.4 230.1 223.5 219.3 223.6 223.8 223.6 223.8 223.7 222.1 223.8 223.8 223.8 221.3 223.9 225.9 224.0 222.1 224.0 221.3 224.1 222.9 224.2 221.3 224.2 230.1 224.3 228.5 224.4 230.1 224.4 223.8 224.5 221.3 224.6 225.9 224.6 227.1 224.7 228.5 224.8 225.9 224.8 222.1 224.9 222.1 225.0 237.2 225.0 223.8 225.1 222.9 225.2 223.8 225.2 230.1 225.3 222.1 225.4 223.8 225.4 227.1 225.5 227.1 225.6 231.9 225.6 223.8 225.7 219.3 225.8 227.1 225.9 222.1 225.9 228.5 226.0 230.1 226.1 230.1 226.1 225.9 226.2 222.1 226.3 221.3 226.3 222.9 226.4 224.8 226.5 223.8 226.5 219.9 226.6 225.9 226.7 228.5 226.7 223.8 226.8 222.1 226.9 224.8 226.9 227.1 227.0 222.1 227.1 224.8 227.1 225.9 227.2 225.9 227.3 218.7 227.3 224.8 227.4 224.8 227.5 228.5 227.5 225.9 227.6 222.9 227.7 225.9 227.7 228.5 227.8 234.3 227.9 221.3 227.9 231.9 228.0 222.9 228.1 228.5 228.1 219.3 228.2 231.9 228.3 227.1 228.3 222.9 228.4 227.1 228.5 217.1 228.5 227.1 228.6 228.5 228.7 219.9 228.7 221.3 228.8 241.4 228.9 222.9 228.9 228.5 229.0 228.5 229.1 221.3 229.1 224.8 229.2 222.1 229.3 222.9 229.3 227.1 229.4 222.1 229.5 222.9 229.5 221.3 229.6 228.5 229.7 231.9 229.7 227.1 229.8 222.1 229.9 225.9 229.9 223.8 230.0 222.9 230.1 219.9 230.1 227.1 230.2 218.1 230.3 230.1 230.3 222.9 230.4 224.8 230.5 223.8 230.5 222.1 230.6 223.8 230.7 223.8 230.8 230.1 230.8 223.8 230.9 225.9 231.0 228.5 231.0 227.1 231.1 227.1 231.2 220.6 231.2 223.8 231.3 224.8 231.4 224.8 231.4 231.9 231.5 237.2 231.6 223.8 231.6 222.9 231.7 227.1 231.8 224.8 231.8 221.3 231.9 222.9 232.0 222.1 232.0 223.8 232.1 225.9 232.2 225.9 232.2 221.3 232.3 227.1 232.4 222.1 232.4 225.9 232.5 223.8 232.6 227.1 232.6 227.1 232.7 227.1 232.8 228.5 232.8 222.9 232.9 222.9 233.0 231.9 233.0 222.1 233.1 222.9 233.2 222.1 233.2 227.1 233.3 228.5 233.4 228.5 233.4 230.1 233.5 223.8 233.6 225.9 233.6 227.1 233.7 225.9 233.8 231.9 233.8 230.1 233.9 227.1 234.0 224.8 234.0 224.8 234.1 224.8 234.2 225.9 234.2 228.5 234.3 223.8 234.4 231.9 234.4 216.6 234.5 228.5 234.6 230.1 234.6 224.8 234.7 222.1 234.8 221.3 234.8 227.1 234.9 223.8 235.0 227.1 235.0 222.1 235.1 230.1 235.2 220.6 235.2 220.6 235.3 230.1 235.4 225.9 235.4 222.9 235.5 222.9 235.6 223.8 235.7 230.1 235.7 222.9 235.8 225.9 235.9 231.9 235.9 221.3 236.0 228.5 236.1 224.8 236.1 228.5 236.2 223.8 236.3 225.9 236.3 228.5 236.4 222.1 236.5 222.9 236.5 224.8 236.6 223.8 236.7 221.3 236.7 224.8 236.8 234.3 236.9 223.8 236.9 225.9 237.0 225.9 237.1 222.9 237.1 225.9 237.2 219.9 237.3 230.1 237.3 222.9 237.4 230.1 237.5 227.1 237.5 230.1 237.6 224.8 237.7 224.8 237.7 231.9 237.8 224.8 237.9 225.9 237.9 228.5 238.0 224.8 238.1 222.1 238.1 228.5 238.2 224.8 238.3 224.8 238.3 228.5 238.4 230.1 238.5 228.5 238.5 221.3 238.6 225.9 238.7 221.3 238.7 223.8 238.8 227.1 238.9 231.9 238.9 228.5 239.0 225.9 239.1 222.9 239.1 225.9 239.2 225.9 239.3 228.5 239.3 224.8 239.4 224.8 239.5 228.5 239.5 228.5 239.6 231.9 239.7 224.8 239.7 227.1 239.8 228.5 239.9 222.9 239.9 227.1 240.0 234.3 240.1 225.9 240.1 224.8 240.2 228.5 240.3 223.8 240.4 228.5 240.4 224.8 240.5 225.9 240.6 219.3 240.6 223.8 240.7 223.8 240.8 220.6 240.8 228.5 240.9 230.1 241.0 234.3 241.0 224.8 241.1 224.8 241.2 224.8 241.2 223.8 241.3 230.1 241.4 228.5 241.4 228.5 241.5 227.1 241.6 222.9 241.6 231.9 241.7 228.5 241.8 228.5 241.8 220.6 241.9 219.9 242.0 227.1 242.0 227.1 242.1 224.8 242.2 225.9 242.2 221.3 242.3 222.9 242.4 230.1 242.4 223.8 242.5 230.1 242.6 230.1 242.6 222.9 242.7 221.3 242.8 230.1 242.8 222.1 242.9 223.8 243.0 225.9 243.0 221.3 243.1 222.9 243.2 224.8 243.2 227.1 243.3 225.9 243.4 224.8 243.4 231.9 243.5 222.9 243.6 223.8 243.6 224.8 243.7 225.9 243.8 222.9 243.8 237.2 243.9 221.3 244.0 222.1 244.0 227.1 244.1 224.8 244.2 224.8 244.2 225.9 244.3 227.1 244.4 227.1 244.4 228.5 244.5 227.1 244.6 227.1 244.6 223.8 244.7 230.1 244.8 234.3 244.8 220.6 244.9 225.9 245.0 227.1 245.0 223.8 245.1 231.9 245.2 230.1 245.3 223.8 245.3 228.5 245.4 225.9 245.5 227.1 245.5 227.1 245.6 222.9 245.7 231.9 245.7 227.1 245.8 225.9 245.9 231.9 245.9 230.1 246.0 222.9 246.1 223.8 246.1 225.9 246.2 224.8 246.3 227.1 246.3 225.9 246.4 224.8 246.5 227.1 246.5 230.1 246.6 230.1 246.7 230.1 246.7 225.9 246.8 225.9 246.9 219.3 246.9 241.4 247.0 222.1 247.1 230.1 247.1 223.8 247.2 228.5 247.3 225.9 247.3 223.8 247.4 227.1 247.5 224.8 247.5 227.1 247.6 230.1 247.7 225.9 247.7 221.3 247.8 228.5 247.9 230.1 247.9 223.8 248.0 231.9 248.1 224.8 248.1 222.9 248.2 234.3 248.3 223.8 248.3 227.1 248.4 223.8 248.5 227.1 248.5 222.9 248.6 227.1 248.7 222.1 248.7 221.3 248.8 228.5 248.9 231.9 248.9 224.8 249.0 222.1 249.1 231.9 249.1 228.5 249.2 225.9 249.3 227.1 249.3 234.3 249.4 222.9 249.5 224.8 249.5 227.1 249.6 222.9 249.7 224.8 249.7 225.9 249.8 228.5 249.9 225.9 250.0 227.1 250.0 230.1 250.1 231.9 250.2 220.6 250.2 220.6 250.3 227.1 250.4 224.8 250.4 219.9 250.5 228.5 250.6 222.1 250.6 223.8 250.7 231.9 250.8 225.9 250.8 223.8 250.9 228.5 251.0 227.1 251.0 228.5 251.1 222.9 251.2 231.9 251.2 234.3 251.3 220.6 251.4 224.8 251.4 227.1 251.5 225.9 251.6 225.9 251.6 234.3 251.7 228.5 251.8 227.1 251.8 230.1 251.9 234.3 252.0 222.9 252.0 222.9 252.1 221.3 252.2 228.5 252.2 227.1 252.3 223.8 252.4 221.3 252.4 225.9 252.5 231.9 252.6 222.1 252.6 227.1 252.7 225.9 252.8 222.1 252.8 224.8 252.9 231.9 253.0 227.1 253.0 228.5 253.1 237.2 253.2 227.1 253.2 222.1 253.3 224.8 253.4 228.5 253.4 227.1 253.5 227.1 253.6 228.5 253.6 230.1 253.7 228.5 253.8 225.9 253.8 222.9 253.9 223.8 254.0 223.8 254.0 224.8 254.1 230.1 254.2 225.9 254.2 227.1 254.3 225.9 254.4 227.1 254.4 228.5 254.5 225.9 254.6 223.8 254.6 227.1 254.7 227.1 254.8 224.8 254.9 222.1 254.9 224.8 255.0 227.1 255.1 227.1 255.1 223.8 255.2 224.8 255.3 230.1 255.3 228.5 255.4 228.5 255.5 230.1 255.5 231.9 255.6 224.8 255.7 223.8 255.7 230.1 255.8 228.5 255.9 228.5 255.9 225.9 256.0 224.8 256.1 222.9 256.1 227.1 256.2 231.9 256.3 222.9 256.3 224.8 256.4 230.1 256.5 227.1 256.5 231.9 256.6 223.8 256.7 228.5 256.7 223.8 256.8 230.1 256.9 225.9 256.9 234.3 257.0 223.8 257.1 228.5 257.1 227.1 257.2 222.9 257.3 228.5 257.3 222.9 257.4 227.1 257.5 225.9 257.5 227.1 257.6 224.8 257.7 225.9 257.7 225.9 257.8 225.9 257.9 225.9 257.9 221.3 258.0 227.1 258.1 224.8 258.1 228.5 258.2 234.3 258.3 228.5 258.3 225.9 258.4 224.8 258.5 231.9 258.5 231.9 258.6 234.3 258.7 222.9 258.7 224.8 258.8 224.8 258.9 225.9 258.9 227.1 259.0 223.8 259.1 227.1 259.1 224.8 259.2 221.3 259.3 228.5 259.3 228.5 259.4 234.3 259.5 234.3 259.5 223.8 259.6 234.3 259.7 228.5 259.8 227.1 259.8 228.5 259.9 228.5 260.0 231.9 260.0 225.9 260.1 225.9 260.2 227.1 260.2 220.6 260.3 227.1 260.4 231.9 260.4 228.5 260.5 222.9 260.6 227.1 260.6 227.1 260.7 234.3 260.8 228.5 260.8 222.1 260.9 224.8 261.0 224.8 261.0 228.5 261.1 223.8 261.2 228.5 261.2 227.1 261.3 225.9 261.4 222.9 261.4 224.8 261.5 231.9 261.6 223.8 261.6 223.8 261.7 230.1 261.8 224.8 261.8 224.8 261.9 227.1 262.0 231.9 262.0 225.9 262.1 230.1 262.2 225.9 262.2 228.5 262.3 222.1 262.4 227.1 262.4 222.9 262.5 228.5 262.6 230.1 262.6 227.1 262.7 222.9 262.8 223.8 262.8 228.5 262.9 220.6 263.0 222.9 263.0 222.9 263.1 228.5 263.2 228.5 263.2 223.8 263.3 227.1 263.4 225.9 263.4 224.8 263.5 224.8 263.6 228.5 263.6 227.1 263.7 231.9 263.8 227.1 263.8 224.8 263.9 222.9 264.0 222.1 264.0 230.1 264.1 223.8 264.2 231.9 264.2 237.2 264.3 223.8 264.4 221.3 264.5 234.3 264.5 227.1 264.6 231.9 264.7 230.1 264.7 222.1 264.8 228.5 264.9 231.9 264.9 237.2 265.0 228.5 265.1 230.1 265.1 225.9 265.2 228.5 265.3 227.1 265.3 225.9 265.4 237.2 265.5 224.8 265.5 230.1 265.6 228.5 265.7 222.9 265.7 227.1 265.8 223.8 265.9 223.8 265.9 228.5 266.0 222.9 266.1 224.8 266.1 228.5 266.2 222.9 266.3 231.9 266.3 228.5 266.4 230.1 266.5 227.1 266.5 230.1 266.6 231.9 266.7 220.6 266.7 230.1 266.8 223.8 266.9 224.8 266.9 227.1 267.0 224.8 267.1 227.1 267.1 228.5 267.2 228.5 267.3 228.5 267.3 224.8 267.4 225.9 267.5 227.1 267.5 222.9 267.6 225.9 267.7 224.8 267.7 230.1 267.8 225.9 267.9 225.9 267.9 223.8 268.0 224.8 268.1 220.6 268.1 223.8 268.2 228.5 268.3 227.1 268.3 228.5 268.4 230.1 268.5 224.8 268.5 227.1 268.6 228.5 268.7 223.8 268.7 222.9 268.8 228.5 268.9 231.9 268.9 224.8 269.0 224.8 269.1 223.8 269.1 223.8 269.2 225.9 269.3 225.9 269.4 228.5 269.4 223.8 269.5 241.4 269.6 224.8 269.6 223.8 269.7 231.9 269.8 225.9 269.8 227.1 269.9 227.1 270.0 230.1 270.0 228.5 270.1 234.3 270.2 227.1 270.2 223.8 270.3 224.8 270.4 230.1 270.4 230.1 270.5 223.8 270.6 224.8 270.6 231.9 270.7 224.8 270.8 231.9 270.8 227.1 270.9 227.1 271.0 227.1 271.0 225.9 271.1 227.1 271.2 231.9 271.2 230.1 271.3 225.9 271.4 223.8 271.4 227.1 271.5 228.5 271.6 222.1 271.6 223.8 271.7 228.5 271.8 231.9 271.8 223.8 271.9 230.1 272.0 234.3 272.0 225.9 272.1 227.1 272.2 222.9 272.2 222.1 272.3 227.1 272.4 223.8 272.4 224.8 272.5 231.9 272.6 234.3 272.6 228.5 272.7 225.9 272.8 225.9 272.8 228.5 272.9 223.8 273.0 225.9 273.0 221.3 273.1 224.8 273.2 221.3 273.2 222.1 273.3 234.3 273.4 234.3 273.4 225.9 273.5 227.1 273.6 231.9 273.6 225.9 273.7 224.8 273.8 228.5 273.8 222.9 273.9 230.1 274.0 227.1 274.0 234.3 274.1 227.1 274.2 225.9 274.3 223.8 274.3 223.8 274.4 225.9 274.5 223.8 274.5 222.9 274.6 234.3 274.7 225.9 274.7 223.8 274.8 224.8 274.9 227.1 274.9 228.5 275.0 230.1 275.1 228.5 275.1 224.8 275.2 227.1 275.3 230.1 275.3 231.9 275.4 225.9 275.5 230.1 275.5 222.9 275.6 225.9 275.7 224.8 275.7 234.3 275.8 227.1 275.9 230.1 275.9 237.2 276.0 224.8 276.1 228.5 276.1 225.9 276.2 231.9 276.3 228.5 276.3 224.8 276.4 225.9 276.5 230.1 276.5 234.3 276.6 227.1 276.7 228.5 276.7 223.8 276.8 222.1 276.9 222.1 276.9 224.8 277.0 222.1 277.1 225.9 277.1 227.1 277.2 223.8 277.3 227.1 277.3 234.3 277.4 223.8 277.5 225.9 277.5 225.9 277.6 227.1 277.7 224.8 277.7 230.1 277.8 223.8 277.9 223.8 277.9 219.9 278.0 234.3 278.1 222.9 278.1 222.9 278.2 225.9 278.3 225.9 278.3 230.1 278.4 227.1 278.5 220.6 278.5 224.8 278.6 223.8 278.7 228.5 278.7 225.9 278.8 230.1 278.9 228.5 279.0 231.9 279.0 228.5 279.1 228.5 279.2 223.8 279.2 224.8 279.3 230.1 279.4 227.1 279.4 227.1 279.5 222.9 279.6 227.1 279.6 231.9 279.7 224.8 279.8 227.1 279.8 222.1 279.9 221.3 280.0 221.3 280.0 222.1 280.1 224.8 280.2 227.1 280.2 224.8 280.3 225.9 280.4 222.9 280.4 228.5 280.5 224.8 280.6 221.3 280.6 227.1 280.7 224.8 280.8 228.5 280.8 227.1 280.9 234.3 281.0 228.5 281.0 227.1 281.1 222.1 281.2 237.2 281.2 222.9 281.3 227.1 281.4 230.1 281.4 231.9 281.5 230.1 281.6 219.9 281.6 227.1 281.7 237.2 281.8 230.1 281.8 227.1 281.9 224.8 282.0 221.3 282.0 222.9 282.1 223.8 282.2 227.1 282.2 228.5 282.3 237.2 282.4 224.8 282.4 224.8 282.5 237.2 282.6 228.5 282.6 227.1 282.7 231.9 282.8 219.9 282.8 223.8 282.9 225.9 283.0 223.8 283.0 230.1 283.1 228.5 283.2 224.8 283.2 230.1 283.3 227.1 283.4 234.3 283.4 234.3 283.5 230.1 283.6 234.3 283.6 225.9 283.7 231.9 283.8 223.8 283.9 225.9 283.9 222.9 284.0 231.9 284.1 228.5 284.1 222.1 284.2 230.1 284.3 225.9 284.3 222.9 284.4 228.5 284.5 228.5 284.5 220.6 284.6 223.8 284.7 231.9 284.7 227.1 284.8 227.1 284.9 231.9 284.9 230.1 285.0 228.5 285.1 227.1 285.1 234.3 285.2 227.1 285.3 227.1 285.3 227.1 285.4 223.8 285.5 228.5 285.5 228.5 285.6 234.3 285.7 225.9 285.7 230.1 285.8 228.5 285.9 222.9 285.9 228.5 286.0 230.1 286.1 230.1 286.1 228.5 286.2 220.6 286.3 227.1 286.3 224.8 286.4 222.1 286.5 222.9 286.5 228.5 286.6 228.5 286.7 227.1 286.7 223.8 286.8 228.5 286.9 231.9 286.9 227.1 287.0 230.1 287.1 231.9 287.1 222.1 287.2 228.5 287.3 225.9 287.3 230.1 287.4 224.8 287.5 228.5 287.5 228.5 287.6 222.9 287.7 223.8 287.7 222.1 287.8 231.9 287.9 231.9 287.9 227.1 288.0 228.5 288.1 227.1 288.1 237.2 288.2 231.9 288.3 223.8 288.3 231.9 288.4 225.9 288.5 225.9 288.5 224.8 288.6 223.8 288.7 230.1 288.8 227.1 288.8 227.1 288.9 230.1 289.0 225.9 289.0 234.3 289.1 237.2 289.2 231.9 289.2 224.8 289.3 227.1 289.4 225.9 289.4 227.1 289.5 231.9 289.6 227.1 289.6 231.9 289.7 230.1 289.8 227.1 289.8 224.8 289.9 227.1 290.0 237.2 290.0 224.8 290.1 222.1 290.2 223.8 290.2 223.8 290.3 230.1 290.4 227.1 290.4 241.4 290.5 227.1 290.6 230.1 290.6 231.9 290.7 230.1 290.8 234.3 290.8 228.5 290.9 227.1 291.0 241.4 291.0 228.5 291.1 227.1 291.2 228.5 291.2 223.8 291.3 223.8 291.4 231.9 291.4 228.5 291.5 227.1 291.6 225.9 291.6 224.8 291.7 224.8 291.8 224.8 291.8 230.1 291.9 223.8 292.0 231.9 292.0 225.9 292.1 234.3 292.2 227.1 292.2 228.5 292.3 228.5 292.4 225.9 292.4 225.9 292.5 225.9 292.6 222.1 292.6 227.1 292.7 221.3 292.8 228.5 292.8 225.9 292.9 227.1 293.0 234.3 293.0 231.9 293.1 228.5 293.2 228.5 293.2 221.3 293.3 225.9 293.4 228.5 293.5 223.8 293.5 227.1 293.6 228.5 293.7 223.8 293.7 228.5 293.8 227.1 293.9 228.5 293.9 224.8 294.0 225.9 294.1 223.8 294.1 230.1 294.2 231.9 294.3 224.8 294.3 227.1 294.4 222.9 294.5 230.1 294.5 225.9 294.6 230.1 294.7 220.6 294.7 225.9 294.8 230.1 294.9 225.9 294.9 225.9 295.0 225.9 295.1 230.1 295.1 225.9 295.2 223.8 295.3 223.8 295.3 225.9 295.4 230.1 295.5 230.1 295.5 223.8 295.6 230.1 295.7 227.1 295.7 230.1 295.8 230.1 295.9 224.8 295.9 223.8 296.0 225.9 296.1 227.1 296.1 225.9 296.2 230.1 296.3 227.1 296.3 227.1 296.4 224.8 296.5 224.8 296.5 225.9 296.6 222.9 296.7 225.9 296.7 228.5 296.8 230.1 296.9 231.9 296.9 222.9 297.0 225.9 297.1 227.1 297.1 231.9 297.2 224.8 297.3 230.1 297.3 241.4 297.4 230.1 297.5 225.9 297.5 227.1 297.6 224.8 297.7 231.9 297.7 227.1 297.8 230.1 297.9 227.1 297.9 224.8 298.0 230.1 298.1 228.5 298.1 225.9 298.2 230.1 298.3 225.9 298.4 224.8 298.4 223.8 298.5 225.9 298.6 227.1 298.6 241.4 298.7 224.8 298.8 227.1 298.8 227.1 298.9 227.1 299.0 224.8 299.0 222.1 299.1 230.1 299.2 230.1 299.2 241.4 299.3 227.1 299.4 221.3 299.4 234.3 299.5 228.5 299.6 223.8 299.6 224.8 299.7 237.2 299.8 234.3 299.8 225.9 299.9 231.9 300.0 223.8 300.0 224.8 300.1 222.1 300.2 223.8 300.2 228.5 300.3 230.1 300.4 237.2 300.4 234.3 300.5 224.8 300.6 234.3 300.6 225.9 300.7 237.2 300.8 225.9 300.8 234.3 300.9 228.5 301.0 227.1 301.0 225.9 301.1 228.5 301.2 231.9 301.2 224.8 301.3 221.3 301.4 234.3 301.4 224.8 301.5 227.1 301.6 230.1 301.6 218.7 301.7 224.8 301.8 222.9 301.8 231.9 301.9 230.1 302.0 224.8 302.0 223.8 302.1 228.5 302.2 231.9 302.2 228.5 302.3 225.9 302.4 223.8 302.4 230.1 302.5 225.9 302.6 228.5 302.6 230.1 302.7 219.3 302.8 223.8 302.8 230.1 302.9 227.1 303.0 224.8 303.1 230.1 303.1 227.1 303.2 225.9 303.3 231.9 303.3 223.8 303.4 228.5 303.5 227.1 303.5 227.1 303.6 225.9 303.7 241.4 303.7 234.3 303.8 227.1 303.9 223.8 303.9 230.1 304.0 224.8 304.1 230.1 304.1 222.9 304.2 227.1 304.3 221.3 304.3 228.5 304.4 224.8 304.5 224.8 304.5 228.5 304.6 225.9 304.7 223.8 304.7 228.5 304.8 225.9 304.9 224.8 304.9 223.8 305.0 228.5 305.1 230.1 305.1 225.9 305.2 224.8 305.3 224.8 305.3 231.9 305.4 221.3 305.5 234.3 305.5 231.9 305.6 224.8 305.7 228.5 305.7 231.9 305.8 225.9 305.9 230.1 305.9 228.5 306.0 223.8 306.1 227.1 306.1 231.9 306.2 225.9 306.3 222.1 306.3 230.1 306.4 231.9 306.5 228.5 306.5 222.9 306.6 225.9 306.7 225.9 306.7 230.1 306.8 227.1 306.9 224.8 306.9 237.2 307.0 227.1 307.1 228.5 307.1 234.3 307.2 227.1 307.3 230.1 307.3 223.8 307.4 224.8 307.5 228.5 307.5 231.9 307.6 224.8 307.7 225.9 307.7 228.5 307.8 222.9 307.9 227.1 308.0 222.9 308.0 228.5 308.1 230.1 308.2 222.9 308.2 228.5 308.3 230.1 308.4 225.9 308.4 225.9 308.5 227.1 308.6 225.9 308.6 228.5 308.7 227.1 308.8 225.9 308.8 224.8 308.9 223.8 309.0 228.5 309.0 221.3 309.1 223.8 309.2 234.3 309.2 227.1 309.3 221.3 309.4 223.8 309.4 225.9 309.5 225.9 309.6 230.1 309.6 230.1 309.7 225.9 309.8 227.1 309.8 227.1 309.9 224.8 310.0 230.1 310.0 234.3 310.1 224.8 310.2 222.9 310.2 230.1 310.3 230.1 310.4 225.9 310.4 231.9 310.5 225.9 310.6 220.6 310.6 223.8 310.7 223.8 310.8 234.3 310.8 224.8 310.9 231.9 311.0 237.2 311.0 224.8 311.1 228.5 311.2 225.9 311.2 227.1 311.3 223.8 311.4 234.3 311.4 228.5 311.5 228.5 311.6 227.1 311.6 234.3 311.7 227.1 311.8 227.1 311.8 227.1 311.9 224.8 312.0 234.3 312.0 224.8 312.1 231.9 312.2 230.1 312.2 231.9 312.3 223.8 312.4 223.8 312.4 220.6 312.5 231.9 312.6 234.3 312.6 225.9 312.7 227.1 312.8 227.1 312.9 227.1 312.9 230.1 313.0 224.8 313.1 224.8 313.1 223.8 313.2 221.3 313.3 222.1 313.3 228.5 313.4 234.3 313.5 222.1 313.5 225.9 313.6 222.9 313.7 234.3 313.7 228.5 313.8 228.5 313.9 227.1 313.9 237.2 314.0 227.1 314.1 228.5 314.1 224.8 314.2 231.9 314.3 225.9 314.3 227.1 314.4 225.9 314.5 227.1 314.5 224.8 314.6 222.9 314.7 228.5 314.7 223.8 314.8 227.1 314.9 225.9 314.9 230.1 315.0 227.1 315.1 225.9 315.1 227.1 315.2 234.3 315.3 227.1 315.3 230.1 315.4 234.3 315.5 231.9 315.5 228.5 315.6 227.1 315.7 230.1 315.7 230.1 315.8 222.9 315.9 227.1 315.9 222.1 316.0 224.8 316.1 228.5 316.1 224.8 316.2 231.9 316.3 223.8 316.3 227.1 316.4 225.9 316.5 228.5 316.5 230.1 316.6 227.1 316.7 224.8 316.7 223.8 316.8 223.8 316.9 231.9 316.9 225.9 317.0 227.1 317.1 241.4 317.1 227.1 317.2 224.8 317.3 224.8 317.3 222.1 317.4 227.1 317.5 230.1 317.6 222.1 317.6 231.9 317.7 228.5 317.8 223.8 317.8 237.2 317.9 231.9 318.0 225.9 318.0 222.1 318.1 225.9 318.2 222.9 318.2 225.9 318.3 220.6 318.4 230.1 318.4 224.8 318.5 223.8 318.6 222.1 318.6 227.1 318.7 224.8 318.8 231.9 318.8 228.5 318.9 230.1 319.0 230.1 319.0 231.9 319.1 224.8 319.2 234.3 319.2 230.1 319.3 222.9 319.4 228.5 319.4 234.3 319.5 227.1 319.6 227.1 319.6 224.8 319.7 223.8 319.8 219.9 319.8 224.8 319.9 227.1 320.0 227.1 320.0 222.9 320.1 230.1 320.2 231.9 320.2 231.9 320.3 225.9 320.4 225.9 320.4 231.9 320.5 224.8 320.6 219.9 320.6 225.9 320.7 230.1 320.8 222.1 320.8 237.2 320.9 228.5 321.0 224.8 321.0 225.9 321.1 223.8 321.2 224.8 321.2 227.1 321.3 224.8 321.4 234.3 321.4 222.9 321.5 234.3 321.6 228.5 321.6 231.9 321.7 230.1 321.8 224.8 321.8 222.9 321.9 241.4 322.0 224.8 322.0 228.5 322.1 222.1 322.2 224.8 322.2 222.9 322.3 222.9 322.4 230.1 322.5 231.9 322.5 227.1 322.6 225.9 322.7 237.2 322.7 223.8 322.8 224.8 322.9 225.9 322.9 222.1 323.0 228.5 323.1 231.9 323.1 223.8 323.2 228.5 323.3 227.1 323.3 220.6 323.4 228.5 323.5 234.3 323.5 224.8 323.6 225.9 323.7 228.5 323.7 225.9 323.8 225.9 323.9 225.9 323.9 223.8 324.0 228.5 324.1 223.8 324.1 228.5 324.2 225.9 324.3 223.8 324.3 228.5 324.4 222.9 324.5 224.8 324.5 223.8 324.6 234.3 324.7 230.1 324.7 237.2 324.8 224.8 324.9 231.9 324.9 222.1 325.0 228.5 325.1 228.5 325.1 222.9 325.2 237.2 325.3 225.9 325.3 224.8 325.4 221.3 325.5 231.9 325.5 230.1 325.6 225.9 325.7 224.8 325.7 222.9 325.8 230.1 325.9 234.3 325.9 230.1 326.0 230.1 326.1 228.5 326.1 231.9 326.2 225.9 326.3 237.2 326.3 227.1 326.4 224.8 326.5 224.8 326.5 225.9 326.6 225.9 326.7 231.9 326.7 225.9 326.8 231.9 326.9 230.1 326.9 228.5 327.0 227.1 327.1 225.9 327.1 225.9 327.2 234.3 327.3 227.1 327.4 230.1 327.4 230.1 327.5 228.5 327.6 222.9 327.6 230.1 327.7 223.8 327.8 230.1 327.8 230.1 327.9 231.9 328.0 231.9 328.0 228.5 328.1 231.9 328.2 224.8 328.2 237.2 328.3 223.8 328.4 230.1 328.4 225.9 328.5 230.1 328.6 228.5 328.6 225.9 328.7 220.6 328.8 224.8 328.8 224.8 328.9 222.9 329.0 223.8 329.0 218.7 329.1 222.1 329.2 227.1 329.2 221.3 329.3 223.8 329.4 225.9 329.4 223.8 329.5 225.9 329.6 224.8 329.6 222.9 329.7 224.8 329.8 215.7 329.8 219.3 329.9 215.3 330.0 214.5 330.0 217.1 330.1 216.6 330.2 213.8 330.2 212.7 330.3 209.0 330.4 208.5 330.4 210.4 330.5 207.3 330.6 206.9 330.6 205.4 330.7 203.4 330.8 201.4 330.8 201.0 330.9 200.0 331.0 201.5 331.0 199.1 331.1 197.4 331.2 196.6 331.2 195.0 331.3 194.4 331.4 193.5 331.4 192.6 331.5 193.5 331.6 190.9 331.6 190.1 331.7 190.8 331.8 189.3 331.8 188.8 331.9 187.2 332.0 186.5 332.1 186.1 332.1 185.1 332.2 184.5 332.3 184.5 332.3 183.9 332.4 182.6 332.5 181.7 332.5 181.3 332.6 181.5 332.7 180.4 332.7 180.4 332.8 180.2 332.9 179.5 332.9 178.1 333.0 178.7 333.1 178.4 333.1 177.8 333.2 177.6 333.3 176.9 333.3 177.3 333.4 177.2 333.5 176.0 333.5 175.6 333.6 175.2 333.7 175.5 333.7 175.1 333.8 174.8 333.9 174.7 333.9 174.4 334.0 174.1 334.1 173.5 334.1 173.9 334.2 173.5 334.3 173.8 334.3 172.9 334.4 173.2 334.5 173.0 334.5 173.6 334.6 172.8 334.7 172.8 334.7 172.7 334.8 172.4 334.9 172.7 334.9 172.6 335.0 172.5 335.1 172.1 335.1 172.5 335.2 172.1 335.3 172.3 335.3 172.4 335.4 172.6 335.5 172.3 335.5 172.2 335.6 172.4 335.7 172.1 335.7 172.5 335.8 172.1 335.9 172.4 335.9 171.9 336.0 172.1 336.1 172.5 336.1 172.4 336.2 172.2 336.3 172.8 336.3 172.3 336.4 172.8 336.5 172.7 336.5 172.7 336.6 172.2 336.7 172.2 336.7 172.8 336.8 172.5 336.9 172.4 337.0 172.6 337.0 172.5 337.1 172.6 337.2 172.8 337.2 172.9 337.3 173.0 337.4 173.0 337.4 173.3 337.5 173.1 337.6 172.7 337.6 172.7 337.7 173.0 337.8 173.3 337.8 173.7 337.9 172.9 338.0 173.0 338.0 173.5 338.1 172.9 338.2 173.3 338.2 173.2 338.3 173.9 338.4 173.7 338.4 173.5 338.5 173.0 338.6 173.3 338.6 173.4 338.7 173.4 338.8 174.1 338.8 173.8 338.9 173.5 339.0 174.0 339.0 173.7 339.1 173.4 339.2 173.8 339.2 173.7 339.3 173.7 339.4 174.3 339.4 174.5 339.5 173.8 339.6 173.9 339.6 173.8 339.7 174.2 339.8 174.2 339.8 174.3 339.9 174.0 340.0 174.2 340.0 174.1 340.1 174.8 340.2 174.4 340.2 174.6 340.3 174.2 340.4 174.2 340.4 174.5 340.5 174.5 340.6 174.5 340.6 175.2 340.7 175.4 340.8 175.1 340.8 174.7 340.9 174.5 341.0 175.0 341.0 174.6 341.1 174.9 341.2 175.3 341.2 175.5 341.3 175.3 341.4 174.8 341.4 175.1 341.5 174.9 341.6 175.5 341.7 175.3 341.7 175.2 341.8 175.0 341.9 175.0 341.9 175.1 342.0 175.5 342.1 175.4 342.1 175.1 342.2 175.2 342.3 175.0 342.3 175.4 342.4 175.8 342.5 175.2 342.5 175.7 342.6 175.2 342.7 175.9 342.7 175.5 342.8 176.2 342.9 175.3 342.9 176.0 343.0 175.8 343.1 175.8 343.1 175.9 343.2 176.2 343.3 175.6 343.3 176.5 343.4 176.0 343.5 176.3 343.5 176.5 343.6 176.4 343.7 175.9 343.7 176.0 343.8 176.0 343.9 176.8 343.9 175.9 344.0 176.7 344.1 176.0 344.1 176.3 344.2 176.7 344.3 176.8 344.3 176.5 344.4 176.5 344.5 176.9 344.5 177.0 344.6 177.1 344.7 177.2 344.7 176.8 344.8 176.7 344.9 176.5 344.9 176.8 345.0 176.9 345.1 176.5 345.1 177.6 345.2 177.0 345.3 176.8 345.3 176.8 345.4 176.5 345.5 177.2 345.5 177.1 345.6 176.8 345.7 177.1 345.7 177.0 345.8 176.9 345.9 177.3 345.9 177.6 346.0 177.6 346.1 176.8 346.1 177.2 346.2 177.2 346.3 177.9 346.3 177.6 346.4 177.8 346.5 177.3 346.6 178.3 346.6 178.0 346.7 177.7 346.8 177.8 346.8 177.8 346.9 177.7 347.0 178.0 347.0 177.7 347.1 178.0 347.2 178.6 347.2 178.7 347.3 178.2 347.4 178.3 347.4 178.2 347.5 178.7 347.6 178.0 347.6 178.5 347.7 178.8 347.8 178.3 347.8 178.3 347.9 178.6 348.0 178.0 348.0 178.8 348.1 178.3 348.2 178.7 348.2 178.4 348.3 179.1 348.4 178.8 348.4 178.7 348.5 179.3 348.6 179.0 348.6 178.7 348.7 178.9 348.8 178.6 348.8 179.6 348.9 178.5 349.0 179.4 349.0 179.3 349.1 178.9 349.2 179.7 349.2 179.2 349.3 179.4 349.4 179.2 349.4 179.5 349.5 179.4 349.6 179.0 349.6 179.0 349.7 179.8 349.8 179.2 349.8 179.2 349.9 179.7 350.0 179.5 350.0 179.2 350.1 180.2 350.2 179.7 350.2 179.7 350.3 179.4 350.4 179.2 350.4 179.3 350.5 180.0 350.6 179.7 350.6 179.8 350.7 179.7 350.8 180.1 350.8 180.3 350.9 180.3 351.0 180.2 351.0 180.2 351.1 180.6 351.2 180.3 351.2 179.6 351.3 179.5 351.4 179.9 351.5 180.3 351.5 180.5 351.6 180.3 351.7 180.2 351.7 181.2 351.8 180.7 351.9 180.2 351.9 180.7 352.0 180.7 352.1 180.7 352.1 180.4 352.2 180.4 352.3 180.8 352.3 180.8 352.4 181.2 352.5 179.7 352.5 180.4 352.6 181.4 352.7 180.7 352.7 180.5 352.8 180.8 352.9 181.4 352.9 181.6 353.0 181.2 353.1 180.8 353.1 181.1 353.2 181.0 353.3 181.6 353.3 181.2 353.4 180.9 353.5 181.2 353.5 181.3 353.6 180.6 353.7 181.0 353.7 181.4 353.8 181.1 353.9 181.4 353.9 181.8 354.0 181.8 354.1 181.6 354.1 181.7 354.2 181.8 354.3 181.7 354.3 181.6 354.4 182.0 354.5 181.6 354.5 181.7 354.6 181.1 354.7 182.4 354.7 182.2 354.8 182.0 354.9 181.9 354.9 182.0 355.0 182.2 355.1 182.7 355.1 182.3 355.2 181.9 355.3 182.4 355.3 182.9 355.4 182.6 355.5 182.7 355.5 182.7 355.6 182.1 355.7 182.6 355.7 182.5 355.8 182.4 355.9 182.4 355.9 182.1 356.0 183.0 356.1 182.4 356.2 182.7 356.2 182.6 356.3 182.4 356.4 182.3 356.4 183.1 356.5 183.3 356.6 183.2 356.6 183.2 356.7 182.5 356.8 182.8 356.8 183.3 356.9 184.2 357.0 183.6 357.0 183.0 357.1 183.6" fill="none" stroke="#000" stroke-width="1.05" stroke-linejoin="round"/>
<rect x="75.2" y="160.2" width="281.9" height="88.4" fill="none" stroke="#333" stroke-width="1.3"/>
<line x1="75.2" y1="248.6" x2="75.2" y2="251.1" stroke="#333" stroke-width="1.2" />
<line x1="75.2" y1="160.2" x2="75.2" y2="162.2" stroke="#333" stroke-width="1.2" />
<line x1="98.7" y1="248.6" x2="98.7" y2="252.6" stroke="#333" stroke-width="1.2" />
<line x1="98.7" y1="160.2" x2="98.7" y2="163.2" stroke="#333" stroke-width="1.2" />
<line x1="122.2" y1="248.6" x2="122.2" y2="251.1" stroke="#333" stroke-width="1.2" />
<line x1="122.2" y1="160.2" x2="122.2" y2="162.2" stroke="#333" stroke-width="1.2" />
<line x1="145.7" y1="248.6" x2="145.7" y2="252.6" stroke="#333" stroke-width="1.2" />
<line x1="145.7" y1="160.2" x2="145.7" y2="163.2" stroke="#333" stroke-width="1.2" />
<line x1="169.2" y1="248.6" x2="169.2" y2="251.1" stroke="#333" stroke-width="1.2" />
<line x1="169.2" y1="160.2" x2="169.2" y2="162.2" stroke="#333" stroke-width="1.2" />
<line x1="192.7" y1="248.6" x2="192.7" y2="252.6" stroke="#333" stroke-width="1.2" />
<line x1="192.7" y1="160.2" x2="192.7" y2="163.2" stroke="#333" stroke-width="1.2" />
<line x1="216.2" y1="248.6" x2="216.2" y2="251.1" stroke="#333" stroke-width="1.2" />
<line x1="216.2" y1="160.2" x2="216.2" y2="162.2" stroke="#333" stroke-width="1.2" />
<line x1="239.6" y1="248.6" x2="239.6" y2="252.6" stroke="#333" stroke-width="1.2" />
<line x1="239.6" y1="160.2" x2="239.6" y2="163.2" stroke="#333" stroke-width="1.2" />
<line x1="263.1" y1="248.6" x2="263.1" y2="251.1" stroke="#333" stroke-width="1.2" />
<line x1="263.1" y1="160.2" x2="263.1" y2="162.2" stroke="#333" stroke-width="1.2" />
<line x1="286.6" y1="248.6" x2="286.6" y2="252.6" stroke="#333" stroke-width="1.2" />
<line x1="286.6" y1="160.2" x2="286.6" y2="163.2" stroke="#333" stroke-width="1.2" />
<line x1="310.1" y1="248.6" x2="310.1" y2="251.1" stroke="#333" stroke-width="1.2" />
<line x1="310.1" y1="160.2" x2="310.1" y2="162.2" stroke="#333" stroke-width="1.2" />
<line x1="333.6" y1="248.6" x2="333.6" y2="252.6" stroke="#333" stroke-width="1.2" />
<line x1="333.6" y1="160.2" x2="333.6" y2="163.2" stroke="#333" stroke-width="1.2" />
<line x1="357.1" y1="248.6" x2="357.1" y2="251.1" stroke="#333" stroke-width="1.2" />
<line x1="357.1" y1="160.2" x2="357.1" y2="162.2" stroke="#333" stroke-width="1.2" />
<line x1="75.2" y1="248.6" x2="71.2" y2="248.6" stroke="#333" stroke-width="1.1" />
<line x1="357.1" y1="248.6" x2="353.1" y2="248.6" stroke="#333" stroke-width="1.1" />
<line x1="75.2" y1="241.4" x2="73.2" y2="241.4" stroke="#333" stroke-width="1.1" />
<line x1="357.1" y1="241.4" x2="355.1" y2="241.4" stroke="#333" stroke-width="1.1" />
<line x1="75.2" y1="237.2" x2="73.2" y2="237.2" stroke="#333" stroke-width="1.1" />
<line x1="357.1" y1="237.2" x2="355.1" y2="237.2" stroke="#333" stroke-width="1.1" />
<line x1="75.2" y1="234.3" x2="73.2" y2="234.3" stroke="#333" stroke-width="1.1" />
<line x1="357.1" y1="234.3" x2="355.1" y2="234.3" stroke="#333" stroke-width="1.1" />
<line x1="75.2" y1="231.9" x2="73.2" y2="231.9" stroke="#333" stroke-width="1.1" />
<line x1="357.1" y1="231.9" x2="355.1" y2="231.9" stroke="#333" stroke-width="1.1" />
<line x1="75.2" y1="230.1" x2="73.2" y2="230.1" stroke="#333" stroke-width="1.1" />
<line x1="357.1" y1="230.1" x2="355.1" y2="230.1" stroke="#333" stroke-width="1.1" />
<line x1="75.2" y1="228.5" x2="73.2" y2="228.5" stroke="#333" stroke-width="1.1" />
<line x1="357.1" y1="228.5" x2="355.1" y2="228.5" stroke="#333" stroke-width="1.1" />
<line x1="75.2" y1="227.1" x2="73.2" y2="227.1" stroke="#333" stroke-width="1.1" />
<line x1="357.1" y1="227.1" x2="355.1" y2="227.1" stroke="#333" stroke-width="1.1" />
<line x1="75.2" y1="225.9" x2="73.2" y2="225.9" stroke="#333" stroke-width="1.1" />
<line x1="357.1" y1="225.9" x2="355.1" y2="225.9" stroke="#333" stroke-width="1.1" />
<line x1="75.2" y1="224.8" x2="71.2" y2="224.8" stroke="#333" stroke-width="1.1" />
<line x1="357.1" y1="224.8" x2="353.1" y2="224.8" stroke="#333" stroke-width="1.1" />
<line x1="75.2" y1="217.6" x2="73.2" y2="217.6" stroke="#333" stroke-width="1.1" />
<line x1="357.1" y1="217.6" x2="355.1" y2="217.6" stroke="#333" stroke-width="1.1" />
<line x1="75.2" y1="213.4" x2="73.2" y2="213.4" stroke="#333" stroke-width="1.1" />
<line x1="357.1" y1="213.4" x2="355.1" y2="213.4" stroke="#333" stroke-width="1.1" />
<line x1="75.2" y1="210.4" x2="73.2" y2="210.4" stroke="#333" stroke-width="1.1" />
<line x1="357.1" y1="210.4" x2="355.1" y2="210.4" stroke="#333" stroke-width="1.1" />
<line x1="75.2" y1="208.1" x2="73.2" y2="208.1" stroke="#333" stroke-width="1.1" />
<line x1="357.1" y1="208.1" x2="355.1" y2="208.1" stroke="#333" stroke-width="1.1" />
<line x1="75.2" y1="206.2" x2="73.2" y2="206.2" stroke="#333" stroke-width="1.1" />
<line x1="357.1" y1="206.2" x2="355.1" y2="206.2" stroke="#333" stroke-width="1.1" />
<line x1="75.2" y1="204.6" x2="73.2" y2="204.6" stroke="#333" stroke-width="1.1" />
<line x1="357.1" y1="204.6" x2="355.1" y2="204.6" stroke="#333" stroke-width="1.1" />
<line x1="75.2" y1="203.2" x2="73.2" y2="203.2" stroke="#333" stroke-width="1.1" />
<line x1="357.1" y1="203.2" x2="355.1" y2="203.2" stroke="#333" stroke-width="1.1" />
<line x1="75.2" y1="202" x2="73.2" y2="202" stroke="#333" stroke-width="1.1" />
<line x1="357.1" y1="202" x2="355.1" y2="202" stroke="#333" stroke-width="1.1" />
<line x1="75.2" y1="200.9" x2="71.2" y2="200.9" stroke="#333" stroke-width="1.1" />
<line x1="357.1" y1="200.9" x2="353.1" y2="200.9" stroke="#333" stroke-width="1.1" />
<line x1="75.2" y1="193.8" x2="73.2" y2="193.8" stroke="#333" stroke-width="1.1" />
<line x1="357.1" y1="193.8" x2="355.1" y2="193.8" stroke="#333" stroke-width="1.1" />
<line x1="75.2" y1="189.6" x2="73.2" y2="189.6" stroke="#333" stroke-width="1.1" />
<line x1="357.1" y1="189.6" x2="355.1" y2="189.6" stroke="#333" stroke-width="1.1" />
<line x1="75.2" y1="186.6" x2="73.2" y2="186.6" stroke="#333" stroke-width="1.1" />
<line x1="357.1" y1="186.6" x2="355.1" y2="186.6" stroke="#333" stroke-width="1.1" />
<line x1="75.2" y1="184.3" x2="73.2" y2="184.3" stroke="#333" stroke-width="1.1" />
<line x1="357.1" y1="184.3" x2="355.1" y2="184.3" stroke="#333" stroke-width="1.1" />
<line x1="75.2" y1="182.4" x2="73.2" y2="182.4" stroke="#333" stroke-width="1.1" />
<line x1="357.1" y1="182.4" x2="355.1" y2="182.4" stroke="#333" stroke-width="1.1" />
<line x1="75.2" y1="180.8" x2="73.2" y2="180.8" stroke="#333" stroke-width="1.1" />
<line x1="357.1" y1="180.8" x2="355.1" y2="180.8" stroke="#333" stroke-width="1.1" />
<line x1="75.2" y1="179.4" x2="73.2" y2="179.4" stroke="#333" stroke-width="1.1" />
<line x1="357.1" y1="179.4" x2="355.1" y2="179.4" stroke="#333" stroke-width="1.1" />
<line x1="75.2" y1="178.2" x2="73.2" y2="178.2" stroke="#333" stroke-width="1.1" />
<line x1="357.1" y1="178.2" x2="355.1" y2="178.2" stroke="#333" stroke-width="1.1" />
<line x1="75.2" y1="177.1" x2="71.2" y2="177.1" stroke="#333" stroke-width="1.1" />
<line x1="357.1" y1="177.1" x2="353.1" y2="177.1" stroke="#333" stroke-width="1.1" />
<line x1="75.2" y1="169.9" x2="73.2" y2="169.9" stroke="#333" stroke-width="1.1" />
<line x1="357.1" y1="169.9" x2="355.1" y2="169.9" stroke="#333" stroke-width="1.1" />
<line x1="75.2" y1="165.7" x2="73.2" y2="165.7" stroke="#333" stroke-width="1.1" />
<line x1="357.1" y1="165.7" x2="355.1" y2="165.7" stroke="#333" stroke-width="1.1" />
<line x1="75.2" y1="162.8" x2="73.2" y2="162.8" stroke="#333" stroke-width="1.1" />
<line x1="357.1" y1="162.8" x2="355.1" y2="162.8" stroke="#333" stroke-width="1.1" />
<line x1="75.2" y1="160.5" x2="73.2" y2="160.5" stroke="#333" stroke-width="1.1" />
<line x1="357.1" y1="160.5" x2="355.1" y2="160.5" stroke="#333" stroke-width="1.1" />
<text x="47.2" y="253.6" font-size="13.5" text-anchor="start" fill="#111" stroke="#111" stroke-width="0.2" textLength="17.2" lengthAdjust="spacingAndGlyphs">10</text>
<text x="64.6" y="246.3" font-size="9" text-anchor="start" fill="#111" stroke="#111" stroke-width="0.2" >0</text>
<text x="47.2" y="229.8" font-size="13.5" text-anchor="start" fill="#111" stroke="#111" stroke-width="0.2" textLength="17.2" lengthAdjust="spacingAndGlyphs">10</text>
<text x="64.6" y="222.5" font-size="9" text-anchor="start" fill="#111" stroke="#111" stroke-width="0.2" >1</text>
<text x="47.2" y="205.9" font-size="13.5" text-anchor="start" fill="#111" stroke="#111" stroke-width="0.2" textLength="17.2" lengthAdjust="spacingAndGlyphs">10</text>
<text x="64.6" y="198.6" font-size="9" text-anchor="start" fill="#111" stroke="#111" stroke-width="0.2" >2</text>
<text x="47.2" y="182.1" font-size="13.5" text-anchor="start" fill="#111" stroke="#111" stroke-width="0.2" textLength="17.2" lengthAdjust="spacingAndGlyphs">10</text>
<text x="64.6" y="174.8" font-size="9" text-anchor="start" fill="#111" stroke="#111" stroke-width="0.2" >3</text>
<text x="98.7" y="266.3" font-size="14" text-anchor="middle" fill="#111" stroke="#111" stroke-width="0.2" >0</text>
<text x="145.7" y="266.3" font-size="14" text-anchor="middle" fill="#111" stroke="#111" stroke-width="0.2" >10</text>
<text x="192.7" y="266.3" font-size="14" text-anchor="middle" fill="#111" stroke="#111" stroke-width="0.2" >20</text>
<text x="239.6" y="266.3" font-size="14" text-anchor="middle" fill="#111" stroke="#111" stroke-width="0.2" >30</text>
<text x="286.6" y="266.3" font-size="14" text-anchor="middle" fill="#111" stroke="#111" stroke-width="0.2" >40</text>
<text x="333.6" y="266.3" font-size="14" text-anchor="middle" fill="#111" stroke="#111" stroke-width="0.2" >50</text>
<text x="216.2" y="287" font-size="14.6" text-anchor="middle" fill="#111" stroke="#111" stroke-width="0.2" >time [ns]</text>
<text x="40.6" y="207.3" font-size="14.6" text-anchor="middle" fill="#111" stroke="#111" stroke-width="0.2" transform="rotate(-90 40.6 207.3)">counts</text>
<text x="3.1" y="336.3" font-size="33" text-anchor="start" fill="#111" stroke="#111" stroke-width="0.0" >C</text>
<text x="210.3" y="324" font-size="18.9" text-anchor="middle" fill="#111" stroke="#111" stroke-width="0.2" >macrotime trace</text>
<line x1="132.4" y1="338.4" x2="132.4" y2="426" stroke="#d6d6d6" stroke-width="1" />
<line x1="188.8" y1="338.4" x2="188.8" y2="426" stroke="#d6d6d6" stroke-width="1" />
<line x1="245.2" y1="338.4" x2="245.2" y2="426" stroke="#d6d6d6" stroke-width="1" />
<line x1="301.6" y1="338.4" x2="301.6" y2="426" stroke="#d6d6d6" stroke-width="1" />
<line x1="76" y1="419.6" x2="358" y2="419.6" stroke="#d6d6d6" stroke-width="1" />
<line x1="76" y1="388.4" x2="358" y2="388.4" stroke="#d6d6d6" stroke-width="1" />
<line x1="76" y1="357.3" x2="358" y2="357.3" stroke="#d6d6d6" stroke-width="1" />
<path d="M76.0 377.7 76.3 372.7 76.6 373.3 76.8 379.7 77.1 378.9 77.4 379.8 77.7 375.7 78.0 378.0 78.3 375.0 78.5 384.7 78.8 372.0 79.1 378.2 79.4 375.3 79.7 378.3 80.0 379.2 80.2 376.1 80.5 374.7 80.8 378.6 81.1 378.4 81.4 375.3 81.6 381.1 81.9 383.5 82.2 376.4 82.5 380.3 82.8 385.0 83.1 380.9 83.3 379.6 83.6 382.3 83.9 383.4 84.2 377.7 84.5 374.5 84.8 378.7 85.0 380.6 85.3 376.4 85.6 375.1 85.9 379.0 86.2 375.8 86.4 373.9 86.7 378.6 87.0 380.9 87.3 376.5 87.6 376.9 87.9 373.7 88.1 382.6 88.4 380.3 88.7 381.0 89.0 384.3 89.3 377.4 89.5 375.9 89.8 380.6 90.1 372.6 90.4 374.8 90.7 375.5 91.0 376.3 91.2 374.3 91.5 382.8 91.8 375.5 92.1 375.6 92.4 384.4 92.7 376.5 92.9 378.8 93.2 374.9 93.5 379.5 93.8 377.9 94.1 376.5 94.3 381.1 94.6 375.6 94.9 378.2 95.2 376.0 95.5 379.8 95.8 373.8 96.0 375.6 96.3 378.5 96.6 375.5 96.9 373.1 97.2 371.1 97.5 383.7 97.7 374.5 98.0 376.1 98.3 378.2 98.6 381.6 98.9 373.1 99.1 382.5 99.4 375.7 99.7 373.0 100.0 383.8 100.3 379.0 100.6 382.7 100.8 376.9 101.1 372.2 101.4 370.3 101.7 384.5 102.0 380.0 102.3 375.2 102.5 371.9 102.8 376.3 103.1 380.6 103.4 376.7 103.7 377.9 103.9 378.6 104.2 380.6 104.5 376.4 104.8 376.7 105.1 378.2 105.4 378.7 105.6 382.6 105.9 379.6 106.2 373.3 106.5 378.5 106.8 383.2 107.1 372.8 107.3 375.8 107.6 369.9 107.9 377.6 108.2 379.6 108.5 383.2 108.7 372.9 109.0 368.2 109.3 380.9 109.6 380.2 109.9 375.6 110.2 380.9 110.4 378.8 110.7 379.1 111.0 377.1 111.3 373.7 111.6 377.7 111.8 374.4 112.1 379.4 112.4 376.6 112.7 385.8 113.0 383.2 113.3 374.9 113.5 380.0 113.8 375.7 114.1 375.8 114.4 372.9 114.7 374.8 115.0 374.0 115.2 378.2 115.5 380.4 115.8 380.6 116.1 379.7 116.4 382.1 116.6 379.9 116.9 378.2 117.2 376.9 117.5 379.1 117.8 385.0 118.1 378.1 118.3 377.0 118.6 373.8 118.9 375.7 119.2 380.2 119.5 380.5 119.8 370.3 120.0 375.0 120.3 371.0 120.6 369.9 120.9 380.9 121.2 376.4 121.4 376.1 121.7 375.7 122.0 375.8 122.3 377.1 122.6 377.2 122.9 383.4 123.1 378.4 123.4 380.6 123.7 377.4 124.0 379.6 124.3 375.5 124.6 374.8 124.8 376.7 125.1 376.6 125.4 377.5 125.7 379.5 126.0 378.4 126.2 379.7 126.5 376.4 126.8 377.8 127.1 375.7 127.4 382.8 127.7 374.5 127.9 380.7 128.2 380.6 128.5 378.6 128.8 379.9 129.1 376.7 129.4 380.0 129.6 381.8 129.9 381.0 130.2 372.9 130.5 377.7 130.8 382.2 131.0 377.8 131.3 383.6 131.6 371.1 131.9 383.5 132.2 376.0 132.5 375.8 132.7 383.2 133.0 376.7 133.3 374.1 133.6 376.1 133.9 376.9 134.2 374.3 134.4 377.2 134.7 376.6 135.0 378.3 135.3 375.5 135.6 381.3 135.8 374.9 136.1 379.7 136.4 381.9 136.7 376.5 137.0 371.5 137.3 374.2 137.5 379.8 137.8 375.2 138.1 379.5 138.4 378.3 138.7 377.5 138.9 386.5 139.2 377.1 139.5 381.7 139.8 380.4 140.1 383.3 140.4 383.5 140.6 381.4 140.9 374.7 141.2 371.6 141.5 377.9 141.8 373.7 142.1 378.8 142.3 385.0 142.6 377.3 142.9 376.2 143.2 379.4 143.5 376.7 143.7 375.7 144.0 381.1 144.3 383.3 144.6 378.7 144.9 378.6 145.2 379.1 145.4 374.1 145.7 371.4 146.0 379.4 146.3 375.2 146.6 374.3 146.9 375.2 147.1 373.9 147.4 379.3 147.7 375.1 148.0 370.3 148.3 374.8 148.5 380.1 148.8 375.6 149.1 373.1 149.4 376.4 149.7 379.9 150.0 372.1 150.2 382.5 150.5 375.9 150.8 377.9 151.1 382.3 151.4 373.3 151.7 376.5 151.9 382.2 152.2 375.6 152.5 379.4 152.8 384.9 153.1 380.4 153.3 376.8 153.6 375.5 153.9 377.2 154.2 377.7 154.5 376.1 154.8 378.6 155.0 373.4 155.3 377.3 155.6 376.7 155.9 375.8 156.2 381.8 156.5 380.5 156.7 372.1 157.0 376.6 157.3 378.9 157.6 376.6 157.9 379.6 158.1 376.8 158.4 380.3 158.7 376.8 159.0 383.7 159.3 372.9 159.6 379.7 159.8 383.7 160.1 378.7 160.4 379.2 160.7 377.3 161.0 382.1 161.2 376.3 161.5 364.3 161.8 382.6 162.1 376.6 162.4 379.0 162.7 377.1 162.9 384.6 163.2 382.1 163.5 376.1 163.8 378.0 164.1 371.7 164.4 380.5 164.6 377.2 164.9 366.9 165.2 380.7 165.5 381.2 165.8 378.0 166.0 378.0 166.3 374.7 166.6 377.3 166.9 380.7 167.2 377.0 167.5 368.0 167.7 373.1 168.0 388.2 168.3 378.4 168.6 381.1 168.9 375.5 169.2 378.5 169.4 370.6 169.7 374.3 170.0 374.5 170.3 377.1 170.6 378.0 170.8 376.6 171.1 373.0 171.4 375.8 171.7 379.1 172.0 373.1 172.3 377.1 172.5 378.1 172.8 380.8 173.1 379.9 173.4 380.2 173.7 388.3 174.0 374.0 174.2 375.7 174.5 378.6 174.8 373.9 175.1 376.2 175.4 376.4 175.6 387.1 175.9 378.7 176.2 375.8 176.5 371.8 176.8 370.9 177.1 372.5 177.3 382.2 177.6 386.0 177.9 375.7 178.2 377.7 178.5 374.2 178.8 378.3 179.0 377.0 179.3 383.4 179.6 376.2 179.9 379.5 180.2 376.5 180.4 376.1 180.7 378.3 181.0 376.6 181.3 377.9 181.6 375.0 181.9 376.0 182.1 379.9 182.4 380.0 182.7 371.3 183.0 378.2 183.3 374.1 183.5 376.4 183.8 379.9 184.1 380.6 184.4 377.4 184.7 376.9 185.0 375.5 185.2 382.6 185.5 380.1 185.8 378.2 186.1 371.8 186.4 386.7 186.7 376.2 186.9 379.8 187.2 376.2 187.5 379.7 187.8 376.5 188.1 372.0 188.3 376.5 188.6 376.2 188.9 376.4 189.2 380.6 189.5 375.8 189.8 378.6 190.0 380.9 190.3 378.0 190.6 378.7 190.9 375.0 191.2 378.0 191.5 379.8 191.7 372.4 192.0 374.1 192.3 373.1 192.6 375.6 192.9 378.2 193.1 379.4 193.4 378.9 193.7 374.3 194.0 377.4 194.3 383.4 194.6 378.0 194.8 383.1 195.1 377.2 195.4 382.3 195.7 382.6 196.0 377.4 196.3 378.1 196.5 384.0 196.8 375.0 197.1 369.7 197.4 383.4 197.7 371.0 197.9 380.4 198.2 379.7 198.5 378.5 198.8 383.2 199.1 373.0 199.4 376.0 199.6 380.6 199.9 378.9 200.2 383.5 200.5 379.1 200.8 374.3 201.1 384.2 201.3 379.5 201.6 377.3 201.9 373.9 202.2 372.8 202.5 379.5 202.7 380.6 203.0 376.1 203.3 379.2 203.6 379.0 203.9 373.8 204.2 371.5 204.4 376.8 204.7 378.5 205.0 375.7 205.3 384.9 205.6 377.9 205.8 381.8 206.1 368.9 206.4 375.1 206.7 377.3 207.0 378.6 207.3 387.2 207.5 375.2 207.8 371.7 208.1 380.6 208.4 375.3 208.7 375.1 209.0 383.6 209.2 374.3 209.5 372.8 209.8 377.0 210.1 378.1 210.4 374.9 210.6 383.6 210.9 377.5 211.2 373.9 211.5 382.5 211.8 374.1 212.1 379.4 212.3 385.6 212.6 378.2 212.9 381.5 213.2 376.6 213.5 382.2 213.8 373.9 214.0 380.6 214.3 376.5 214.6 380.0 214.9 379.0 215.2 373.4 215.4 377.0 215.7 379.3 216.0 382.5 216.3 373.5 216.6 375.1 216.9 379.0 217.1 376.9 217.4 381.7 217.7 381.6 218.0 380.9 218.3 376.5 218.6 376.7 218.8 380.6 219.1 375.1 219.4 374.9 219.7 377.2 220.0 373.9 220.2 378.9 220.5 378.3 220.8 376.1 221.1 378.0 221.4 374.9 221.7 382.5 221.9 372.5 222.2 380.7 222.5 378.4 222.8 383.0 223.1 375.6 223.4 373.1 223.6 373.8 223.9 374.7 224.2 383.6 224.5 380.8 224.8 379.6 225.0 381.3 225.3 373.6 225.6 377.1 225.9 377.9 226.2 376.0 226.5 381.4 226.7 381.2 227.0 381.1 227.3 376.0 227.6 376.6 227.9 375.7 228.2 373.8 228.4 382.9 228.7 379.9 229.0 377.3 229.3 382.9 229.6 379.8 229.8 374.0 230.1 373.7 230.4 373.8 230.7 377.7 231.0 378.6 231.3 373.8 231.5 379.2 231.8 376.6 232.1 372.9 232.4 379.2 232.7 380.1 232.9 377.9 233.2 375.6 233.5 376.0 233.8 377.2 234.1 375.7 234.4 383.8 234.6 381.0 234.9 377.2 235.2 381.3 235.5 382.8 235.8 382.3 236.1 381.3 236.3 378.5 236.6 381.7 236.9 377.0 237.2 371.5 237.5 378.4 237.7 373.1 238.0 376.8 238.3 382.0 238.6 378.8 238.9 381.5 239.2 375.0 239.4 382.1 239.7 372.9 240.0 375.7 240.3 385.4 240.6 374.9 240.9 372.0 241.1 380.8 241.4 374.1 241.7 384.6 242.0 376.9 242.3 384.0 242.5 376.0 242.8 384.5 243.1 387.7 243.4 376.3 243.7 369.3 244.0 380.1 244.2 374.7 244.5 377.4 244.8 379.0 245.1 375.5 245.4 371.7 245.7 382.4 245.9 375.7 246.2 376.5 246.5 383.2 246.8 371.8 247.1 370.5 247.3 381.4 247.6 371.3 247.9 377.6 248.2 378.4 248.5 372.2 248.8 377.0 249.0 376.6 249.3 372.2 249.6 373.0 249.9 374.5 250.2 383.1 250.5 383.7 250.7 373.6 251.0 381.3 251.3 377.3 251.6 381.8 251.9 378.5 252.1 382.6 252.4 371.7 252.7 381.6 253.0 378.3 253.3 378.5 253.6 373.3 253.8 383.1 254.1 378.0 254.4 378.6 254.7 375.8 255.0 376.1 255.2 379.6 255.5 376.9 255.8 379.2 256.1 376.1 256.4 378.2 256.7 380.3 256.9 377.9 257.2 376.5 257.5 369.4 257.8 379.7 258.1 376.7 258.4 372.4 258.6 385.6 258.9 384.3 259.2 382.3 259.5 378.3 259.8 368.7 260.0 376.4 260.3 373.3 260.6 378.7 260.9 387.0 261.2 386.5 261.5 374.0 261.7 377.1 262.0 382.7 262.3 373.7 262.6 383.6 262.9 373.6 263.2 372.4 263.4 380.7 263.7 382.0 264.0 374.7 264.3 381.9 264.6 374.6 264.8 382.3 265.1 374.8 265.4 377.5 265.7 379.4 266.0 381.2 266.3 376.9 266.5 384.9 266.8 378.9 267.1 379.3 267.4 375.3 267.7 382.5 268.0 371.4 268.2 379.0 268.5 382.1 268.8 372.6 269.1 371.6 269.4 378.5 269.6 381.2 269.9 377.8 270.2 380.4 270.5 379.0 270.8 372.0 271.1 376.4 271.3 377.3 271.6 376.5 271.9 378.0 272.2 374.7 272.5 374.5 272.8 379.2 273.0 377.4 273.3 368.8 273.6 376.3 273.9 378.5 274.2 370.2 274.4 377.8 274.7 381.9 275.0 375.3 275.3 381.2 275.6 379.7 275.9 376.6 276.1 378.3 276.4 380.7 276.7 379.9 277.0 380.0 277.3 373.5 277.5 380.5 277.8 380.0 278.1 370.2 278.4 379.9 278.7 372.3 279.0 372.9 279.2 378.4 279.5 383.1 279.8 376.1 280.1 375.3 280.4 374.2 280.7 377.6 280.9 373.3 281.2 372.6 281.5 381.8 281.8 372.5 282.1 377.2 282.3 379.9 282.6 379.0 282.9 370.8 283.2 374.2 283.5 384.5 283.8 377.5 284.0 378.4 284.3 378.5 284.6 379.7 284.9 383.3 285.2 374.6 285.5 381.3 285.7 379.2 286.0 380.1 286.3 380.5 286.6 375.1 286.9 376.4 287.1 380.3 287.4 381.4 287.7 379.6 288.0 374.2 288.3 377.4 288.6 377.0 288.8 379.1 289.1 378.8 289.4 377.0 289.7 384.7 290.0 371.8 290.3 380.8 290.5 380.0 290.8 372.8 291.1 377.0 291.4 377.7 291.7 380.0 291.9 383.7 292.2 377.1 292.5 373.4 292.8 381.2 293.1 372.7 293.4 382.0 293.6 380.6 293.9 375.9 294.2 377.8 294.5 375.2 294.8 380.6 295.1 381.7 295.3 384.8 295.6 382.3 295.9 381.9 296.2 383.2 296.5 376.7 296.7 380.3 297.0 385.3 297.3 368.5 297.6 380.9 297.9 382.5 298.2 373.2 298.4 373.5 298.7 382.1 299.0 383.3 299.3 381.6 299.6 373.6 299.8 379.0 300.1 380.9 300.4 377.9 300.7 373.3 301.0 383.0 301.3 379.3 301.5 383.0 301.8 369.7 302.1 371.0 302.4 374.3 302.7 378.3 303.0 375.4 303.2 385.7 303.5 376.8 303.8 382.8 304.1 382.8 304.4 380.5 304.6 379.1 304.9 375.7 305.2 375.2 305.5 376.8 305.8 381.4 306.1 375.3 306.3 378.3 306.6 373.4 306.9 381.3 307.2 388.2 307.5 379.6 307.8 369.8 308.0 376.1 308.3 378.6 308.6 374.5 308.9 375.9 309.2 376.1 309.4 379.7 309.7 377.5 310.0 377.1 310.3 380.2 310.6 382.0 310.9 377.3 311.1 374.2 311.4 375.4 311.7 376.0 312.0 375.9 312.3 368.2 312.6 376.9 312.8 373.9 313.1 370.5 313.4 377.6 313.7 376.8 314.0 373.9 314.2 371.5 314.5 376.7 314.8 376.5 315.1 377.5 315.4 382.3 315.7 373.7 315.9 378.8 316.2 384.3 316.5 378.4 316.8 384.3 317.1 381.6 317.4 377.8 317.6 381.3 317.9 373.8 318.2 383.3 318.5 376.8 318.8 375.7 319.0 372.3 319.3 374.4 319.6 376.9 319.9 377.5 320.2 378.0 320.5 373.5 320.7 380.3 321.0 375.8 321.3 378.1 321.6 376.9 321.9 378.8 322.2 369.8 322.4 380.2 322.7 376.8 323.0 376.8 323.3 375.5 323.6 376.1 323.8 376.2 324.1 374.1 324.4 383.4 324.7 377.7 325.0 382.4 325.3 376.9 325.5 382.2 325.8 381.4 326.1 378.0 326.4 372.6 326.7 375.6 326.9 376.7 327.2 372.5 327.5 381.3 327.8 385.6 328.1 379.4 328.4 378.8 328.6 373.2 328.9 369.8 329.2 382.7 329.5 368.5 329.8 371.9 330.1 374.6 330.3 376.4 330.6 368.7 330.9 377.5 331.2 379.5 331.5 377.3 331.7 382.9 332.0 376.0 332.3 378.2 332.6 376.5 332.9 376.4 333.2 381.7 333.4 372.9 333.7 381.6 334.0 374.5 334.3 383.7 334.6 376.4 334.9 380.8 335.1 377.6 335.4 380.2 335.7 385.9 336.0 381.9 336.3 377.5 336.5 375.4 336.8 383.3 337.1 385.7 337.4 381.0 337.7 378.6 338.0 380.1 338.2 380.8 338.5 374.6 338.8 374.2 339.1 375.0 339.4 381.3 339.7 377.5 339.9 378.5 340.2 383.1 340.5 374.5 340.8 377.4 341.1 379.6 341.3 372.5 341.6 374.9 341.9 374.6 342.2 373.3 342.5 375.1 342.8 382.5 343.0 379.2 343.3 374.0 343.6 380.6 343.9 377.6 344.2 376.3 344.5 372.4 344.7 372.9 345.0 374.4 345.3 378.5 345.6 374.4 345.9 375.8 346.1 378.4 346.4 372.7 346.7 375.9 347.0 380.6 347.3 373.0 347.6 378.7 347.8 375.6 348.1 383.5 348.4 377.9 348.7 381.3 349.0 381.4 349.2 384.9 349.5 369.8 349.8 378.3 350.1 376.9 350.4 373.6 350.7 378.2 350.9 375.9 351.2 382.9 351.5 377.1 351.8 379.3 352.1 375.9 352.4 377.1 352.6 383.0 352.9 384.7 353.2 381.6 353.5 375.0 353.8 376.2 354.0 376.3 354.3 385.3 354.6 387.9 354.9 380.1 355.2 379.0 355.5 380.1 355.7 376.5 356.0 378.4 356.3 382.2 356.6 381.1 356.9 377.3 357.2 377.5 357.4 378.1 357.7 369.3 358.0 378.8" fill="none" stroke="#000" stroke-width="0.9"/>
<rect x="76.0" y="338.4" width="282" height="87.6" fill="none" stroke="#555" stroke-width="1.1"/>
<line x1="76" y1="426" x2="358" y2="426" stroke="#444" stroke-width="1.5" />
<line x1="76" y1="426" x2="76" y2="430" stroke="#555" stroke-width="1.2" />
<line x1="104.2" y1="426" x2="104.2" y2="428.5" stroke="#555" stroke-width="1.2" />
<line x1="132.4" y1="426" x2="132.4" y2="430" stroke="#555" stroke-width="1.2" />
<line x1="160.6" y1="426" x2="160.6" y2="428.5" stroke="#555" stroke-width="1.2" />
<line x1="188.8" y1="426" x2="188.8" y2="430" stroke="#555" stroke-width="1.2" />
<line x1="217" y1="426" x2="217" y2="428.5" stroke="#555" stroke-width="1.2" />
<line x1="245.2" y1="426" x2="245.2" y2="430" stroke="#555" stroke-width="1.2" />
<line x1="273.4" y1="426" x2="273.4" y2="428.5" stroke="#555" stroke-width="1.2" />
<line x1="301.6" y1="426" x2="301.6" y2="430" stroke="#555" stroke-width="1.2" />
<line x1="329.8" y1="426" x2="329.8" y2="428.5" stroke="#555" stroke-width="1.2" />
<line x1="358" y1="426" x2="358" y2="430" stroke="#555" stroke-width="1.2" />
<text x="71.8" y="361.5" font-size="14" text-anchor="end" fill="#111" stroke="#111" stroke-width="0.2" >15</text>
<text x="71.8" y="392.6" font-size="14" text-anchor="end" fill="#111" stroke="#111" stroke-width="0.2" >10</text>
<text x="71.8" y="424.2" font-size="14" text-anchor="end" fill="#111" stroke="#111" stroke-width="0.2" >5</text>
<text x="76" y="444.1" font-size="14" text-anchor="middle" fill="#111" stroke="#111" stroke-width="0.2" >0</text>
<text x="132.4" y="444.1" font-size="14" text-anchor="middle" fill="#111" stroke="#111" stroke-width="0.2" >20</text>
<text x="188.8" y="444.1" font-size="14" text-anchor="middle" fill="#111" stroke="#111" stroke-width="0.2" >40</text>
<text x="245.2" y="444.1" font-size="14" text-anchor="middle" fill="#111" stroke="#111" stroke-width="0.2" >60</text>
<text x="301.6" y="444.1" font-size="14" text-anchor="middle" fill="#111" stroke="#111" stroke-width="0.2" >80</text>
<text x="358" y="444.1" font-size="14" text-anchor="middle" fill="#111" stroke="#111" stroke-width="0.2" >100</text>
<text x="216.5" y="462.5" font-size="14.6" text-anchor="middle" fill="#111" stroke="#111" stroke-width="0.2" >time [s]</text>
<text x="44.7" y="387.5" font-size="14.6" text-anchor="middle" fill="#111" stroke="#111" stroke-width="0.2" transform="rotate(-90 44.7 387.5)">Intensity [kHz]</text>
<text x="3.9" y="514.1" font-size="33" text-anchor="start" fill="#111" stroke="#111" stroke-width="0.0" >D</text>
<text x="217.8" y="500" font-size="18.9" text-anchor="middle" fill="#111" stroke="#111" stroke-width="0.2" >macrotime image</text>
<svg x="162" y="509" width="116.5" height="120" viewBox="0 0 116 119.5">
<defs><radialGradient id="gud" gradientUnits="userSpaceOnUse" cx="64" cy="38" r="56"><stop offset="0" stop-color="#4e4e4e"/><stop offset="0.5" stop-color="#4e4e4e"/><stop offset="1" stop-color="#4e4e4e" stop-opacity="0.15"/></radialGradient><radialGradient id="gld" gradientUnits="userSpaceOnUse" cx="70" cy="66" r="40"><stop offset="0" stop-color="#444444"/><stop offset="0.6" stop-color="#444444"/><stop offset="1" stop-color="#444444" stop-opacity="0.55"/></radialGradient><linearGradient id="grd" gradientUnits="userSpaceOnUse" x1="0" y1="55" x2="0" y2="112"><stop offset="0" stop-color="#202020"/><stop offset="0.6" stop-color="#202020"/><stop offset="1" stop-color="#202020" stop-opacity="0.2"/></linearGradient></defs>
<rect width="120" height="130" fill="#090909"/>
<g filter="url(#cellf)">
<rect width="120" height="130" fill="#090909"/>
<path d="M64.1 -1.0C72.4 -3.0 106.5 -6.2 116.0 -1.0C125.5 4.2 118.4 22.7 117.0 28.0C115.6 33.3 112.5 28.8 108.3 28.3C104.1 27.8 99.3 27.0 93.6 25.3C87.9 23.6 81.1 21.9 76.9 19.1C72.7 16.3 72.3 13.6 70.0 10.0C67.7 6.4 55.8 1.0 64.1 -1.0Z" fill="#131313"/>
<circle cx="111" cy="16.5" r="5" fill="#090909" opacity="0.8"/>
<path d="M98.6 49.0C100.0 44.8 103.9 48.0 107.0 47.5C110.1 47.0 114.4 40.5 116.0 46.4C117.6 52.2 116.5 71.5 116.0 80.0C115.5 88.5 115.4 88.2 113.3 93.8C111.2 99.4 105.9 110.2 104.1 111.3C102.3 112.4 103.6 104.2 103.2 100.0C102.8 95.8 102.4 93.3 101.7 88.0C101.0 82.7 100.0 77.6 99.4 70.6C98.8 63.6 97.2 53.2 98.6 49.0Z" fill="url(#grd)"/>
<path d="M50.0 62.5C51.0 60.7 56.0 59.5 59.4 57.8C62.8 56.1 65.4 54.4 69.0 53.3C72.6 52.2 76.5 51.6 79.3 51.5C82.1 51.4 83.2 50.1 84.5 52.5C85.8 54.9 85.8 60.0 86.6 65.0C87.4 70.0 87.5 75.7 89.0 80.0C90.5 84.3 93.7 86.0 95.0 89.0C96.3 92.0 96.9 95.5 96.0 96.5C95.1 97.5 92.2 95.0 90.0 94.5C87.8 94.0 86.5 93.2 84.0 93.5C81.5 93.8 78.0 95.3 76.0 96.0C74.0 96.7 74.6 98.9 73.0 97.5C71.4 96.1 69.5 91.8 67.0 88.0C64.5 84.2 61.3 80.1 59.0 76.5C56.7 72.9 55.6 70.5 54.0 68.0C52.4 65.5 49.0 64.3 50.0 62.5Z" fill="url(#gld)"/>
<path d="M51.0 12.3C52.1 11.8 53.5 12.0 55.0 12.3C56.5 12.6 56.7 12.2 59.4 13.7C62.1 15.2 65.9 17.6 69.9 20.4C73.9 23.2 77.5 26.4 81.8 29.0C86.1 31.6 88.8 32.9 93.6 34.9C98.4 36.9 104.7 39.0 108.3 40.3C111.9 41.6 115.2 41.6 113.5 42.0C111.8 42.4 103.9 42.0 98.6 42.3C93.3 42.6 87.3 43.1 83.8 43.8C80.3 44.5 82.0 45.0 79.3 46.0C76.6 47.0 73.3 47.8 69.0 49.5C64.7 51.2 59.1 53.9 55.5 55.5C51.9 57.1 51.0 57.5 49.0 58.5C47.0 59.5 46.4 59.6 44.3 61.0C42.2 62.4 39.7 63.8 37.3 66.0C34.9 68.2 33.2 70.4 31.0 73.0C28.8 75.6 27.3 79.2 25.0 80.5C22.7 81.8 19.7 81.5 18.0 80.5C16.3 79.5 15.0 77.6 15.5 75.0C16.0 72.4 18.9 68.8 21.0 66.0C23.1 63.2 25.0 61.8 26.9 59.4C28.8 57.0 30.2 55.4 31.7 52.8C33.2 50.2 34.3 46.1 35.5 45.0C36.7 43.9 37.0 46.8 38.4 46.5C39.8 46.2 42.0 44.9 43.2 43.3C44.4 41.7 44.3 40.4 45.1 37.6C45.9 34.8 47.1 31.2 47.9 28.0C48.7 24.8 49.3 22.3 49.5 20.0C49.7 17.7 48.5 16.4 48.8 15.0C49.1 13.6 49.9 12.8 51.0 12.3Z" fill="url(#gud)"/>
<circle cx="95" cy="108" r="11" fill="#090909"/>
<rect x="1" y="0" width="1" height="130" fill="#202020" opacity="0.5"/>
<path d="M113 42.6 C103 42.6 90 43.2 84 44.2 C75 46.5 62 52 50 58 C45 60 41 63 38 65" fill="none" stroke="#090909" stroke-width="1.4" opacity="0.7"/>
</g>
<g filter="url(#soft)"><circle cx="57.5" cy="38.5" r="1.9" fill="#090909" opacity="0.65"/><circle cx="65.8" cy="36.1" r="2.1" fill="#090909" opacity="0.65"/><circle cx="63.2" cy="40" r="1" fill="#090909" opacity="0.4"/></g>
</svg>
<text x="433.9" y="23" font-size="33" text-anchor="start" fill="#111" stroke="#111" stroke-width="0.0" >E</text>
<text x="623.7" y="15.2" font-size="21.1" text-anchor="middle" fill="#111" stroke="#111" stroke-width="0.2" >microtime histogram</text>
<text x="448.1" y="74.5" font-size="17.6" text-anchor="middle" fill="#111" stroke="#111" stroke-width="0.2" transform="rotate(-90 448.1 74.5)">counts</text>
<rect x="489.8" y="85.6" width="164.5" height="80.6" fill="#d9d9d9" stroke="#505050" stroke-width="1.5"/>
<rect x="613.7" y="174.6" width="164.3" height="80.7" fill="#d9d9d9" stroke="#404040" stroke-width="1.5"/>
<path d="M467.5 159.5 467.8 159.5 468.0 159.5 468.3 159.5 468.5 159.5 468.8 159.5 469.0 159.5 469.3 159.5 469.5 159.5 469.8 159.5 470.1 159.5 470.3 159.5 470.6 159.5 470.8 159.5 471.1 159.5 471.3 159.5 471.6 159.5 471.8 159.5 472.1 159.5 472.4 159.5 472.6 159.5 472.9 159.5 473.1 159.5 473.4 159.5 473.6 159.5 473.9 159.5 474.1 159.5 474.4 159.5 474.7 159.5 474.9 159.5 475.2 159.5 475.4 159.5 475.7 159.5 475.9 159.5 476.2 159.5 476.4 159.5 476.7 159.5 477.0 159.5 477.2 159.5 477.5 159.5 477.7 159.5 478.0 159.5 478.2 159.5 478.5 159.5 478.7 159.5 479.0 159.5 479.3 159.5 479.5 159.5 479.8 159.5 480.0 159.5 480.3 159.5 480.5 159.5 480.8 159.5 481.0 159.5 481.3 159.5 481.6 159.5 481.8 159.5 482.1 159.5 482.3 159.5 482.6 159.5 482.8 159.5 483.1 159.5 483.3 159.5 483.6 159.5 483.9 159.5 484.1 159.5 484.4 159.5 484.6 159.5 484.9 159.5 485.1 159.5 485.4 159.5 485.6 159.5 485.9 159.5 486.2 159.5 486.4 159.5 486.7 159.5 486.9 159.5 487.2 159.5 487.4 159.5 487.7 159.5 488.0 159.5 488.2 159.5 488.5 159.5 488.7 159.5 489.0 159.5 489.2 159.5 489.5 159.5 489.7 159.5 490.0 159.4 490.3 159.4 490.5 159.4 490.8 159.4 491.0 159.3 491.3 159.2 491.5 159.1 491.8 159.0 492.0 158.9 492.3 158.7 492.6 158.5 492.8 158.2 493.1 157.8 493.3 157.4 493.6 156.9 493.8 156.3 494.1 155.6 494.3 154.7 494.6 153.7 494.9 152.6 495.1 151.3 495.4 149.8 495.6 148.1 495.9 146.3 496.1 144.3 496.4 142.1 496.6 139.8 496.9 137.2 497.2 134.6 497.4 131.8 497.7 128.9 497.9 126.0 498.2 123.0 498.4 120.0 498.7 117.0 498.9 114.1 499.2 111.2 499.5 108.5 499.7 105.9 500.0 103.5 500.2 101.3 500.5 99.2 500.7 97.4 501.0 95.9 501.2 94.5 501.5 93.4 501.8 92.5 502.0 91.8 502.3 91.3 502.5 91.0 502.8 90.9 503.0 91.0 503.3 91.1 503.5 91.5 503.8 91.9 504.1 92.4 504.3 93.0 504.6 93.7 504.8 94.5 505.1 95.2 505.3 96.0 505.6 96.9 505.8 97.7 506.1 98.6 506.4 99.4 506.6 100.3 506.9 101.2 507.1 102.0 507.4 102.9 507.6 103.7 507.9 104.6 508.1 105.4 508.4 106.2 508.7 107.0 508.9 107.8 509.2 108.6 509.4 109.4 509.7 110.2 509.9 110.9 510.2 111.7 510.4 112.4 510.7 113.1 511.0 113.8 511.2 114.5 511.5 115.2 511.7 115.9 512.0 116.5 512.2 117.2 512.5 117.8 512.7 118.5 513.0 119.1 513.3 119.7 513.5 120.3 513.8 120.9 514.0 121.5 514.3 122.1 514.5 122.7 514.8 123.2 515.0 123.8 515.3 124.3 515.6 124.9 515.8 125.4 516.1 125.9 516.3 126.4 516.6 126.9 516.8 127.4 517.1 127.9 517.3 128.4 517.6 128.9 517.9 129.3 518.1 129.8 518.4 130.2 518.6 130.7 518.9 131.1 519.1 131.6 519.4 132.0 519.6 132.4 519.9 132.8 520.2 133.2 520.4 133.6 520.7 134.0 520.9 134.4 521.2 134.8 521.4 135.2 521.7 135.5 521.9 135.9 522.2 136.3 522.5 136.6 522.7 137.0 523.0 137.3 523.2 137.7 523.5 138.0 523.7 138.3 524.0 138.6 524.2 139.0 524.5 139.3 524.8 139.6 525.0 139.9 525.3 140.2 525.5 140.5 525.8 140.8 526.0 141.1 526.3 141.3 526.6 141.6 526.8 141.9 527.1 142.2 527.3 142.4 527.6 142.7 527.8 142.9 528.1 143.2 528.3 143.4 528.6 143.7 528.9 143.9 529.1 144.2 529.4 144.4 529.6 144.6 529.9 144.9 530.1 145.1 530.4 145.3 530.6 145.5 530.9 145.7 531.2 145.9 531.4 146.1 531.7 146.3 531.9 146.5 532.2 146.7 532.4 146.9 532.7 147.1 532.9 147.3 533.2 147.5 533.5 147.7 533.7 147.9 534.0 148.0 534.2 148.2 534.5 148.4 534.7 148.6 535.0 148.7 535.2 148.9 535.5 149.1 535.8 149.2 536.0 149.4 536.3 149.5 536.5 149.7 536.8 149.8 537.0 150.0 537.3 150.1 537.5 150.3 537.8 150.4 538.1 150.5 538.3 150.7 538.6 150.8 538.8 150.9 539.1 151.1 539.3 151.2 539.6 151.3 539.8 151.5 540.1 151.6 540.4 151.7 540.6 151.8 540.9 151.9 541.1 152.1 541.4 152.2 541.6 152.3 541.9 152.4 542.1 152.5 542.4 152.6 542.7 152.7 542.9 152.8 543.2 152.9 543.4 153.0 543.7 153.1 543.9 153.2 544.2 153.3 544.4 153.4 544.7 153.5 545.0 153.6 545.2 153.7 545.5 153.8 545.7 153.9 546.0 153.9 546.2 154.0 546.5 154.1 546.7 154.2 547.0 154.3 547.3 154.3 547.5 154.4 547.8 154.5 548.0 154.6 548.3 154.7 548.5 154.7 548.8 154.8 549.0 154.9 549.3 154.9 549.6 155.0 549.8 155.1 550.1 155.2 550.3 155.2 550.6 155.3 550.8 155.3 551.1 155.4 551.3 155.5 551.6 155.5 551.9 155.6 552.1 155.7 552.4 155.7 552.6 155.8 552.9 155.8 553.1 155.9 553.4 155.9 553.6 156.0 553.9 156.0 554.2 156.1 554.4 156.2 554.7 156.2 554.9 156.3 555.2 156.3 555.4 156.4 555.7 156.4 555.9 156.4 556.2 156.5 556.5 156.5 556.7 156.6 557.0 156.6 557.2 156.7 557.5 156.7 557.7 156.8 558.0 156.8 558.2 156.8 558.5 156.9 558.8 156.9 559.0 157.0 559.3 157.0 559.5 157.0 559.8 157.1 560.0 157.1 560.3 157.1 560.5 157.2 560.8 157.2 561.1 157.3 561.3 157.3 561.6 157.3 561.8 157.4 562.1 157.4 562.3 157.4 562.6 157.5 562.8 157.5 563.1 157.5 563.4 157.5 563.6 157.6 563.9 157.6 564.1 157.6 564.4 157.7 564.6 157.7 564.9 157.7 565.2 157.7 565.4 157.8 565.7 157.8 565.9 157.8 566.2 157.8 566.4 157.9 566.7 157.9 566.9 157.9 567.2 157.9 567.5 158.0 567.7 158.0 568.0 158.0 568.2 158.0 568.5 158.1 568.7 158.1 569.0 158.1 569.2 158.1 569.5 158.1 569.8 158.2 570.0 158.2 570.3 158.2 570.5 158.2 570.8 158.2 571.0 158.3 571.3 158.3 571.5 158.3 571.8 158.3 572.1 158.3 572.3 158.4 572.6 158.4 572.8 158.4 573.1 158.4 573.3 158.4 573.6 158.4 573.8 158.5 574.1 158.5 574.4 158.5 574.6 158.5 574.9 158.5 575.1 158.5 575.4 158.6 575.6 158.6 575.9 158.6 576.1 158.6 576.4 158.6 576.7 158.6 576.9 158.6 577.2 158.6 577.4 158.7 577.7 158.7 577.9 158.7 578.2 158.7 578.4 158.7 578.7 158.7 579.0 158.7 579.2 158.7 579.5 158.8 579.7 158.8 580.0 158.8 580.2 158.8 580.5 158.8 580.7 158.8 581.0 158.8 581.3 158.8 581.5 158.8 581.8 158.9 582.0 158.9 582.3 158.9 582.5 158.9 582.8 158.9 583.0 158.9 583.3 158.9 583.6 158.9 583.8 158.9 584.1 158.9 584.3 158.9 584.6 159.0 584.8 159.0 585.1 159.0 585.3 159.0 585.6 159.0 585.9 159.0 586.1 159.0 586.4 159.0 586.6 159.0 586.9 159.0 587.1 159.0 587.4 159.0 587.6 159.0 587.9 159.1 588.2 159.1 588.4 159.1 588.7 159.1 588.9 159.1 589.2 159.1 589.4 159.1 589.7 159.1 589.9 159.1 590.2 159.1 590.5 159.1 590.7 159.1 591.0 159.1 591.2 159.1 591.5 159.1 591.7 159.1 592.0 159.2 592.2 159.2 592.5 159.2 592.8 159.2 593.0 159.2 593.3 159.2 593.5 159.2 593.8 159.2 594.0 159.2 594.3 159.2 594.5 159.2 594.8 159.2 595.1 159.2 595.3 159.2 595.6 159.2 595.8 159.2 596.1 159.2 596.3 159.2 596.6 159.2 596.8 159.2 597.1 159.2 597.4 159.2 597.6 159.3 597.9 159.3 598.1 159.3 598.4 159.3 598.6 159.3 598.9 159.3 599.1 159.3 599.4 159.3 599.7 159.3 599.9 159.3 600.2 159.3 600.4 159.3 600.7 159.3 600.9 159.3 601.2 159.3 601.4 159.3 601.7 159.3 602.0 159.3 602.2 159.3 602.5 159.3 602.7 159.3 603.0 159.3 603.2 159.3 603.5 159.3 603.8 159.3 604.0 159.3 604.3 159.3 604.5 159.3 604.8 159.3 605.0 159.3 605.3 159.3 605.5 159.3 605.8 159.3 606.1 159.3 606.3 159.4 606.6 159.4 606.8 159.4 607.1 159.4 607.3 159.4 607.6 159.4 607.8 159.4 608.1 159.4 608.4 159.4 608.6 159.4 608.9 159.4 609.1 159.4 609.4 159.4 609.6 159.4 609.9 159.4 610.1 159.4 610.4 159.4 610.7 159.4 610.9 159.4 611.2 159.4 611.4 159.4 611.7 159.4 611.9 159.4 612.2 159.4 612.4 159.4 612.7 159.4 613.0 159.4 613.2 159.4 613.5 159.4 613.7 159.4 614.0 159.4 614.2 159.4 614.5 159.4 614.7 159.4 615.0 159.4 615.3 159.4 615.5 159.4 615.8 159.4 616.0 159.4 616.3 159.4 616.5 159.4 616.8 159.4 617.0 159.4 617.3 159.4 617.6 159.4 617.8 159.4 618.1 159.4 618.3 159.4 618.6 159.4 618.8 159.4 619.1 159.4 619.3 159.4 619.6 159.4 619.9 159.4 620.1 159.4 620.4 159.4 620.6 159.4 620.9 159.4 621.1 159.4 621.4 159.4 621.6 159.4 621.9 159.4 622.2 159.4 622.4 159.4 622.7 159.4 622.9 159.4 623.2 159.4 623.4 159.4 623.7 159.4 623.9 159.4 624.2 159.4 624.5 159.5 624.7 159.5 625.0 159.5 625.2 159.5 625.5 159.5 625.7 159.5 626.0 159.5 626.2 159.5 626.5 159.5 626.8 159.5 627.0 159.5 627.3 159.5 627.5 159.5 627.8 159.5 628.0 159.5 628.3 159.5 628.5 159.5 628.8 159.5 629.1 159.5 629.3 159.5 629.6 159.5 629.8 159.5 630.1 159.5 630.3 159.5 630.6 159.5 630.8 159.5 631.1 159.5 631.4 159.5 631.6 159.5 631.9 159.5 632.1 159.5 632.4 159.5 632.6 159.5 632.9 159.5 633.1 159.5 633.4 159.5 633.7 159.5 633.9 159.5 634.2 159.5 634.4 159.5 634.7 159.5 634.9 159.5 635.2 159.5 635.4 159.5 635.7 159.5 636.0 159.5 636.2 159.5 636.5 159.5 636.7 159.5 637.0 159.5 637.2 159.5 637.5 159.5 637.7 159.5 638.0 159.5 638.3 159.5 638.5 159.5 638.8 159.5 639.0 159.5 639.3 159.5 639.5 159.5 639.8 159.5 640.1 159.5 640.3 159.5 640.6 159.5 640.8 159.5 641.1 159.5 641.3 159.5 641.6 159.5 641.8 159.5 642.1 159.5 642.4 159.5 642.6 159.5 642.9 159.5 643.1 159.5 643.4 159.5 643.6 159.5 643.9 159.5 644.1 159.5 644.4 159.5 644.7 159.5 644.9 159.5 645.2 159.5 645.4 159.5 645.7 159.5 645.9 159.5 646.2 159.5 646.4 159.5 646.7 159.5 647.0 159.5 647.2 159.5 647.5 159.5 647.7 159.5 648.0 159.5 648.2 159.5 648.5 159.5 648.7 159.5 649.0 159.5 649.3 159.5 649.5 159.5 649.8 159.5 650.0 159.5 650.3 159.5 650.5 159.5 650.8 159.5 651.0 159.5 651.3 159.5 651.6 159.5 651.8 159.5 652.1 159.5 652.3 159.5 652.6 159.5 652.8 159.5 653.1 159.5 653.3 159.5 653.6 159.5 653.9 159.5 654.1 159.5 654.4 159.5 654.6 159.5 654.9 159.5 655.1 159.5 655.4 159.5 655.6 159.5 655.9 159.5 656.2 159.5 656.4 159.5 656.7 159.5 656.9 159.5 657.2 159.5 657.4 159.5 657.7 159.5 657.9 159.5 658.2 159.5 658.5 159.5 658.7 159.5 659.0 159.5 659.2 159.5 659.5 159.5 659.7 159.5 660.0 159.5 660.2 159.5 660.5 159.5 660.8 159.5 661.0 159.5 661.3 159.5 661.5 159.5 661.8 159.5 662.0 159.5 662.3 159.5 662.5 159.5 662.8 159.5 663.1 159.5 663.3 159.5 663.6 159.5 663.8 159.5 664.1 159.5 664.3 159.5 664.6 159.5 664.8 159.5 665.1 159.5 665.4 159.5 665.6 159.5 665.9 159.5 666.1 159.5 666.4 159.5 666.6 159.5 666.9 159.5 667.1 159.5 667.4 159.5 667.7 159.5 667.9 159.5 668.2 159.5 668.4 159.5 668.7 159.5 668.9 159.5 669.2 159.5 669.4 159.5 669.7 159.5 670.0 159.5 670.2 159.5 670.5 159.5 670.7 159.5 671.0 159.5 671.2 159.5 671.5 159.5 671.7 159.5 672.0 159.5 672.3 159.5 672.5 159.5 672.8 159.5 673.0 159.5 673.3 159.5 673.5 159.5 673.8 159.5 674.0 159.5 674.3 159.5 674.6 159.5 674.8 159.5 675.1 159.5 675.3 159.5 675.6 159.5 675.8 159.5 676.1 159.5 676.3 159.5 676.6 159.5 676.9 159.5 677.1 159.5 677.4 159.5 677.6 159.5 677.9 159.5 678.1 159.5 678.4 159.5 678.7 159.5 678.9 159.5 679.2 159.5 679.4 159.5 679.7 159.5 679.9 159.5 680.2 159.5 680.4 159.5 680.7 159.5 681.0 159.5 681.2 159.5 681.5 159.5 681.7 159.5 682.0 159.5 682.2 159.5 682.5 159.5 682.7 159.5 683.0 159.5 683.3 159.5 683.5 159.5 683.8 159.5 684.0 159.5 684.3 159.5 684.5 159.5 684.8 159.5 685.0 159.5 685.3 159.5 685.6 159.5 685.8 159.5 686.1 159.5 686.3 159.5 686.6 159.5 686.8 159.5 687.1 159.5 687.3 159.5 687.6 159.5 687.9 159.5 688.1 159.5 688.4 159.5 688.6 159.5 688.9 159.5 689.1 159.5 689.4 159.5 689.6 159.5 689.9 159.5 690.2 159.5 690.4 159.5 690.7 159.5 690.9 159.5 691.2 159.5 691.4 159.5 691.7 159.5 691.9 159.5 692.2 159.5 692.5 159.5 692.7 159.5 693.0 159.5 693.2 159.5 693.5 159.5 693.7 159.5 694.0 159.5 694.2 159.5 694.5 159.5 694.8 159.5 695.0 159.5 695.3 159.5 695.5 159.5 695.8 159.5 696.0 159.5 696.3 159.5 696.5 159.5 696.8 159.5 697.1 159.5 697.3 159.5 697.6 159.5 697.8 159.5 698.1 159.5 698.3 159.5 698.6 159.5 698.8 159.5 699.1 159.5 699.4 159.5 699.6 159.5 699.9 159.5 700.1 159.5 700.4 159.5 700.6 159.5 700.9 159.5 701.1 159.5 701.4 159.5 701.7 159.5 701.9 159.5 702.2 159.5 702.4 159.5 702.7 159.5 702.9 159.5 703.2 159.5 703.4 159.5 703.7 159.5 704.0 159.5 704.2 159.5 704.5 159.5 704.7 159.5 705.0 159.5 705.2 159.5 705.5 159.5 705.7 159.5 706.0 159.5 706.3 159.5 706.5 159.5 706.8 159.5 707.0 159.5 707.3 159.5 707.5 159.5 707.8 159.5 708.0 159.5 708.3 159.5 708.6 159.5 708.8 159.5 709.1 159.5 709.3 159.5 709.6 159.5 709.8 159.5 710.1 159.5 710.3 159.5 710.6 159.5 710.9 159.5 711.1 159.5 711.4 159.5 711.6 159.5 711.9 159.5 712.1 159.5 712.4 159.5 712.6 159.5 712.9 159.5 713.2 159.5 713.4 159.5 713.7 159.5 713.9 159.5 714.2 159.5 714.4 159.5 714.7 159.5 714.9 159.5 715.2 159.5 715.5 159.5 715.7 159.5 716.0 159.5 716.2 159.5 716.5 159.5 716.7 159.5 717.0 159.5 717.3 159.5 717.5 159.5 717.8 159.5 718.0 159.5 718.3 159.5 718.5 159.5 718.8 159.5 719.0 159.5 719.3 159.5 719.6 159.5 719.8 159.5 720.1 159.5 720.3 159.5 720.6 159.5 720.8 159.5 721.1 159.5 721.3 159.5 721.6 159.5 721.9 159.5 722.1 159.5 722.4 159.5 722.6 159.5 722.9 159.5 723.1 159.5 723.4 159.5 723.6 159.5 723.9 159.5 724.2 159.5 724.4 159.5 724.7 159.5 724.9 159.5 725.2 159.5 725.4 159.5 725.7 159.5 725.9 159.5 726.2 159.5 726.5 159.5 726.7 159.5 727.0 159.5 727.2 159.5 727.5 159.5 727.7 159.5 728.0 159.5 728.2 159.5 728.5 159.5 728.8 159.5 729.0 159.5 729.3 159.5 729.5 159.5 729.8 159.5 730.0 159.5 730.3 159.5 730.5 159.5 730.8 159.5 731.1 159.5 731.3 159.5 731.6 159.5 731.8 159.5 732.1 159.5 732.3 159.5 732.6 159.5 732.8 159.5 733.1 159.5 733.4 159.5 733.6 159.5 733.9 159.5 734.1 159.5 734.4 159.5 734.6 159.5 734.9 159.5 735.1 159.5 735.4 159.5 735.7 159.5 735.9 159.5 736.2 159.5 736.4 159.5 736.7 159.5 736.9 159.5 737.2 159.5 737.4 159.5 737.7 159.5 738.0 159.5 738.2 159.5 738.5 159.5 738.7 159.5 739.0 159.5 739.2 159.5 739.5 159.5 739.7 159.5 740.0 159.5 740.3 159.5 740.5 159.5 740.8 159.5 741.0 159.5 741.3 159.5 741.5 159.5 741.8 159.5 742.0 159.5 742.3 159.5 742.6 159.5 742.8 159.5 743.1 159.5 743.3 159.5 743.6 159.5 743.8 159.5 744.1 159.5 744.3 159.5 744.6 159.5 744.9 159.5 745.1 159.5 745.4 159.5 745.6 159.5 745.9 159.5 746.1 159.5 746.4 159.5 746.6 159.5 746.9 159.5 747.2 159.5 747.4 159.5 747.7 159.5 747.9 159.5 748.2 159.5 748.4 159.5 748.7 159.5 748.9 159.5 749.2 159.5 749.5 159.5 749.7 159.5 750.0 159.5 750.2 159.5 750.5 159.5 750.7 159.5 751.0 159.5 751.2 159.5 751.5 159.5 751.8 159.5 752.0 159.5 752.3 159.5 752.5 159.5 752.8 159.5 753.0 159.5 753.3 159.5 753.5 159.5 753.8 159.5 754.1 159.5 754.3 159.5 754.6 159.5 754.8 159.5 755.1 159.5 755.3 159.5 755.6 159.5 755.9 159.5 756.1 159.5 756.4 159.5 756.6 159.5 756.9 159.5 757.1 159.5 757.4 159.5 757.6 159.5 757.9 159.5 758.2 159.5 758.4 159.5 758.7 159.5 758.9 159.5 759.2 159.5 759.4 159.5 759.7 159.5 759.9 159.5 760.2 159.5 760.5 159.5 760.7 159.5 761.0 159.5 761.2 159.5 761.5 159.5 761.7 159.5 762.0 159.5 762.2 159.5 762.5 159.5 762.8 159.5 763.0 159.5 763.3 159.5 763.5 159.5 763.8 159.5 764.0 159.5 764.3 159.5 764.5 159.5 764.8 159.5 765.1 159.5 765.3 159.5 765.6 159.5 765.8 159.5 766.1 159.5 766.3 159.5 766.6 159.5 766.8 159.5 767.1 159.5 767.4 159.5 767.6 159.5 767.9 159.5 768.1 159.5 768.4 159.5 768.6 159.5 768.9 159.5 769.1 159.5 769.4 159.5 769.7 159.5 769.9 159.5 770.2 159.5 770.4 159.5 770.7 159.5 770.9 159.5 771.2 159.5 771.4 159.5 771.7 159.5 772.0 159.5 772.2 159.5 772.5 159.5 772.7 159.5 773.0 159.5 773.2 159.5 773.5 159.5 773.7 159.5 774.0 159.5" fill="none" stroke="#55e632" stroke-width="1.35"/>
<path d="M468.0 248.3 468.3 248.3 468.5 248.3 468.8 248.3 469.0 248.3 469.3 248.3 469.5 248.3 469.8 248.3 470.0 248.3 470.3 248.3 470.6 248.3 470.8 248.3 471.1 248.3 471.3 248.3 471.6 248.3 471.8 248.3 472.1 248.3 472.4 248.3 472.6 248.3 472.9 248.3 473.1 248.3 473.4 248.3 473.6 248.3 473.9 248.3 474.1 248.3 474.4 248.3 474.7 248.3 474.9 248.3 475.2 248.3 475.4 248.3 475.7 248.3 475.9 248.3 476.2 248.3 476.4 248.3 476.7 248.3 477.0 248.3 477.2 248.3 477.5 248.3 477.7 248.3 478.0 248.3 478.2 248.3 478.5 248.3 478.8 248.3 479.0 248.3 479.3 248.3 479.5 248.3 479.8 248.3 480.0 248.3 480.3 248.3 480.5 248.3 480.8 248.3 481.1 248.3 481.3 248.3 481.6 248.3 481.8 248.3 482.1 248.3 482.3 248.3 482.6 248.3 482.9 248.3 483.1 248.3 483.4 248.3 483.6 248.3 483.9 248.3 484.1 248.3 484.4 248.3 484.6 248.3 484.9 248.3 485.2 248.3 485.4 248.3 485.7 248.3 485.9 248.3 486.2 248.3 486.4 248.3 486.7 248.3 486.9 248.3 487.2 248.3 487.5 248.3 487.7 248.3 488.0 248.3 488.2 248.3 488.5 248.3 488.7 248.2 489.0 248.2 489.3 248.2 489.5 248.2 489.8 248.2 490.0 248.1 490.3 248.1 490.5 248.0 490.8 248.0 491.0 247.9 491.3 247.8 491.6 247.7 491.8 247.6 492.1 247.4 492.3 247.3 492.6 247.1 492.8 246.9 493.1 246.7 493.3 246.4 493.6 246.1 493.9 245.8 494.1 245.5 494.4 245.1 494.6 244.7 494.9 244.2 495.1 243.8 495.4 243.2 495.7 242.7 495.9 242.1 496.2 241.5 496.4 240.9 496.7 240.3 496.9 239.6 497.2 239.0 497.4 238.3 497.7 237.6 498.0 237.0 498.2 236.3 498.5 235.7 498.7 235.1 499.0 234.5 499.2 233.9 499.5 233.3 499.7 232.8 500.0 232.3 500.3 231.9 500.5 231.5 500.8 231.2 501.0 230.9 501.3 230.6 501.5 230.4 501.8 230.2 502.1 230.1 502.3 230.0 502.6 229.9 502.8 229.9 503.1 229.9 503.3 229.9 503.6 230.0 503.8 230.1 504.1 230.2 504.4 230.3 504.6 230.5 504.9 230.6 505.1 230.8 505.4 231.0 505.6 231.2 505.9 231.4 506.2 231.6 506.4 231.9 506.7 232.1 506.9 232.3 507.2 232.5 507.4 232.8 507.7 233.0 507.9 233.2 508.2 233.4 508.5 233.7 508.7 233.9 509.0 234.1 509.2 234.3 509.5 234.5 509.7 234.7 510.0 234.9 510.2 235.2 510.5 235.4 510.8 235.6 511.0 235.7 511.3 235.9 511.5 236.1 511.8 236.3 512.0 236.5 512.3 236.7 512.6 236.9 512.8 237.0 513.1 237.2 513.3 237.4 513.6 237.5 513.8 237.7 514.1 237.9 514.3 238.0 514.6 238.2 514.9 238.4 515.1 238.5 515.4 238.7 515.6 238.8 515.9 238.9 516.1 239.1 516.4 239.2 516.6 239.4 516.9 239.5 517.2 239.6 517.4 239.8 517.7 239.9 517.9 240.0 518.2 240.2 518.4 240.3 518.7 240.4 519.0 240.5 519.2 240.7 519.5 240.8 519.7 240.9 520.0 241.0 520.2 241.1 520.5 241.2 520.7 241.3 521.0 241.4 521.3 241.5 521.5 241.7 521.8 241.8 522.0 241.9 522.3 242.0 522.5 242.1 522.8 242.1 523.1 242.2 523.3 242.3 523.6 242.4 523.8 242.5 524.1 242.6 524.3 242.7 524.6 242.8 524.8 242.9 525.1 242.9 525.4 243.0 525.6 243.1 525.9 243.2 526.1 243.3 526.4 243.3 526.6 243.4 526.9 243.5 527.1 243.6 527.4 243.6 527.7 243.7 527.9 243.8 528.2 243.9 528.4 243.9 528.7 244.0 528.9 244.1 529.2 244.1 529.5 244.2 529.7 244.3 530.0 244.3 530.2 244.4 530.5 244.4 530.7 244.5 531.0 244.6 531.2 244.6 531.5 244.7 531.8 244.7 532.0 244.8 532.3 244.8 532.5 244.9 532.8 244.9 533.0 245.0 533.3 245.0 533.5 245.1 533.8 245.1 534.1 245.2 534.3 245.2 534.6 245.3 534.8 245.3 535.1 245.4 535.3 245.4 535.6 245.5 535.9 245.5 536.1 245.6 536.4 245.6 536.6 245.6 536.9 245.7 537.1 245.7 537.4 245.8 537.6 245.8 537.9 245.8 538.2 245.9 538.4 245.9 538.7 245.9 538.9 246.0 539.2 246.0 539.4 246.1 539.7 246.1 539.9 246.1 540.2 246.2 540.5 246.2 540.7 246.2 541.0 246.3 541.2 246.3 541.5 246.3 541.7 246.3 542.0 246.4 542.3 246.4 542.5 246.4 542.8 246.5 543.0 246.5 543.3 246.5 543.5 246.5 543.8 246.6 544.0 246.6 544.3 246.6 544.6 246.7 544.8 246.7 545.1 246.7 545.3 246.7 545.6 246.8 545.8 246.8 546.1 246.8 546.4 246.8 546.6 246.8 546.9 246.9 547.1 246.9 547.4 246.9 547.6 246.9 547.9 247.0 548.1 247.0 548.4 247.0 548.7 247.0 548.9 247.0 549.2 247.1 549.4 247.1 549.7 247.1 549.9 247.1 550.2 247.1 550.4 247.1 550.7 247.2 551.0 247.2 551.2 247.2 551.5 247.2 551.7 247.2 552.0 247.2 552.2 247.3 552.5 247.3 552.8 247.3 553.0 247.3 553.3 247.3 553.5 247.3 553.8 247.4 554.0 247.4 554.3 247.4 554.5 247.4 554.8 247.4 555.1 247.4 555.3 247.4 555.6 247.5 555.8 247.5 556.1 247.5 556.3 247.5 556.6 247.5 556.8 247.5 557.1 247.5 557.4 247.5 557.6 247.6 557.9 247.6 558.1 247.6 558.4 247.6 558.6 247.6 558.9 247.6 559.2 247.6 559.4 247.6 559.7 247.6 559.9 247.6 560.2 247.7 560.4 247.7 560.7 247.7 560.9 247.7 561.2 247.7 561.5 247.7 561.7 247.7 562.0 247.7 562.2 247.7 562.5 247.7 562.7 247.8 563.0 247.8 563.2 247.8 563.5 247.8 563.8 247.8 564.0 247.8 564.3 247.8 564.5 247.8 564.8 247.8 565.0 247.8 565.3 247.8 565.6 247.8 565.8 247.8 566.1 247.9 566.3 247.9 566.6 247.9 566.8 247.9 567.1 247.9 567.3 247.9 567.6 247.9 567.9 247.9 568.1 247.9 568.4 247.9 568.6 247.9 568.9 247.9 569.1 247.9 569.4 247.9 569.7 247.9 569.9 247.9 570.2 248.0 570.4 248.0 570.7 248.0 570.9 248.0 571.2 248.0 571.4 248.0 571.7 248.0 572.0 248.0 572.2 248.0 572.5 248.0 572.7 248.0 573.0 248.0 573.2 248.0 573.5 248.0 573.7 248.0 574.0 248.0 574.3 248.0 574.5 248.0 574.8 248.0 575.0 248.0 575.3 248.0 575.5 248.0 575.8 248.1 576.1 248.1 576.3 248.1 576.6 248.1 576.8 248.1 577.1 248.1 577.3 248.1 577.6 248.1 577.8 248.1 578.1 248.1 578.4 248.1 578.6 248.1 578.9 248.1 579.1 248.1 579.4 248.1 579.6 248.1 579.9 248.1 580.1 248.1 580.4 248.1 580.7 248.1 580.9 248.1 581.2 248.1 581.4 248.1 581.7 248.1 581.9 248.1 582.2 248.1 582.5 248.1 582.7 248.1 583.0 248.1 583.2 248.1 583.5 248.1 583.7 248.1 584.0 248.1 584.2 248.2 584.5 248.2 584.8 248.2 585.0 248.2 585.3 248.2 585.5 248.2 585.8 248.2 586.0 248.2 586.3 248.2 586.5 248.2 586.8 248.2 587.1 248.2 587.3 248.2 587.6 248.2 587.8 248.2 588.1 248.2 588.3 248.2 588.6 248.2 588.9 248.2 589.1 248.2 589.4 248.2 589.6 248.2 589.9 248.2 590.1 248.2 590.4 248.2 590.6 248.2 590.9 248.2 591.2 248.2 591.4 248.2 591.7 248.2 591.9 248.2 592.2 248.2 592.4 248.2 592.7 248.2 593.0 248.2 593.2 248.2 593.5 248.2 593.7 248.2 594.0 248.2 594.2 248.2 594.5 248.2 594.7 248.2 595.0 248.2 595.3 248.2 595.5 248.2 595.8 248.2 596.0 248.2 596.3 248.2 596.5 248.2 596.8 248.2 597.0 248.2 597.3 248.2 597.6 248.2 597.8 248.2 598.1 248.2 598.3 248.2 598.6 248.2 598.8 248.2 599.1 248.2 599.4 248.2 599.6 248.2 599.9 248.2 600.1 248.2 600.4 248.2 600.6 248.2 600.9 248.2 601.1 248.2 601.4 248.2 601.7 248.2 601.9 248.2 602.2 248.2 602.4 248.3 602.7 248.3 602.9 248.3 603.2 248.3 603.4 248.3 603.7 248.3 604.0 248.3 604.2 248.3 604.5 248.3 604.7 248.3 605.0 248.3 605.2 248.3 605.5 248.3 605.8 248.3 606.0 248.3 606.3 248.3 606.5 248.3 606.8 248.3 607.0 248.3 607.3 248.3 607.5 248.3 607.8 248.3 608.1 248.3 608.3 248.3 608.6 248.3 608.8 248.3 609.1 248.3 609.3 248.3 609.6 248.3 609.8 248.3 610.1 248.3 610.4 248.3 610.6 248.3 610.9 248.3 611.1 248.3 611.4 248.3 611.6 248.3 611.9 248.3 612.2 248.3 612.4 248.3 612.7 248.3 612.9 248.3 613.2 248.3 613.4 248.3 613.7 248.3 613.9 248.3 614.2 248.3 614.5 248.3 614.7 248.3 615.0 248.3 615.2 248.3 615.5 248.3 615.7 248.3 616.0 248.3 616.3 248.3 616.5 248.3 616.8 248.3 617.0 248.3 617.3 248.3 617.5 248.3 617.8 248.3 618.0 248.3 618.3 248.3 618.6 248.3 618.8 248.3 619.1 248.3 619.3 248.3 619.6 248.3 619.8 248.3 620.1 248.3 620.3 248.3 620.6 248.3 620.9 248.3 621.1 248.3 621.4 248.3 621.6 248.3 621.9 248.3 622.1 248.3 622.4 248.3 622.7 248.2 622.9 248.2 623.2 248.2 623.4 248.1 623.7 247.9 623.9 247.6 624.2 247.2 624.4 246.6 624.7 245.7 625.0 244.5 625.2 242.9 625.5 240.8 625.7 238.1 626.0 234.8 626.2 230.9 626.5 226.5 626.7 221.7 627.0 216.5 627.3 211.2 627.5 205.9 627.8 200.8 628.0 196.1 628.3 192.0 628.5 188.5 628.8 185.8 629.1 183.7 629.3 182.3 629.6 181.5 629.8 181.1 630.1 181.3 630.3 181.7 630.6 182.4 630.8 183.2 631.1 184.2 631.4 185.2 631.6 186.2 631.9 187.3 632.1 188.4 632.4 189.5 632.6 190.5 632.9 191.6 633.2 192.6 633.4 193.6 633.7 194.6 633.9 195.6 634.2 196.5 634.4 197.5 634.7 198.4 634.9 199.3 635.2 200.2 635.5 201.1 635.7 201.9 636.0 202.8 636.2 203.6 636.5 204.4 636.7 205.2 637.0 206.0 637.2 206.8 637.5 207.5 637.8 208.3 638.0 209.0 638.3 209.7 638.5 210.4 638.8 211.1 639.0 211.8 639.3 212.4 639.6 213.1 639.8 213.7 640.1 214.3 640.3 215.0 640.6 215.6 640.8 216.2 641.1 216.7 641.3 217.3 641.6 217.9 641.9 218.4 642.1 219.0 642.4 219.5 642.6 220.0 642.9 220.5 643.1 221.0 643.4 221.5 643.6 222.0 643.9 222.5 644.2 223.0 644.4 223.4 644.7 223.9 644.9 224.3 645.2 224.8 645.4 225.2 645.7 225.6 646.0 226.0 646.2 226.4 646.5 226.8 646.7 227.2 647.0 227.6 647.2 228.0 647.5 228.3 647.7 228.7 648.0 229.1 648.3 229.4 648.5 229.8 648.8 230.1 649.0 230.4 649.3 230.7 649.5 231.1 649.8 231.4 650.0 231.7 650.3 232.0 650.6 232.3 650.8 232.6 651.1 232.9 651.3 233.1 651.6 233.4 651.8 233.7 652.1 234.0 652.4 234.2 652.6 234.5 652.9 234.7 653.1 235.0 653.4 235.2 653.6 235.4 653.9 235.7 654.1 235.9 654.4 236.1 654.7 236.4 654.9 236.6 655.2 236.8 655.4 237.0 655.7 237.2 655.9 237.4 656.2 237.6 656.5 237.8 656.7 238.0 657.0 238.2 657.2 238.4 657.5 238.5 657.7 238.7 658.0 238.9 658.2 239.1 658.5 239.2 658.8 239.4 659.0 239.6 659.3 239.7 659.5 239.9 659.8 240.0 660.0 240.2 660.3 240.3 660.5 240.5 660.8 240.6 661.1 240.7 661.3 240.9 661.6 241.0 661.8 241.1 662.1 241.3 662.3 241.4 662.6 241.5 662.9 241.7 663.1 241.8 663.4 241.9 663.6 242.0 663.9 242.1 664.1 242.2 664.4 242.3 664.6 242.5 664.9 242.6 665.2 242.7 665.4 242.8 665.7 242.9 665.9 243.0 666.2 243.1 666.4 243.2 666.7 243.3 666.9 243.3 667.2 243.4 667.5 243.5 667.7 243.6 668.0 243.7 668.2 243.8 668.5 243.9 668.7 243.9 669.0 244.0 669.3 244.1 669.5 244.2 669.8 244.2 670.0 244.3 670.3 244.4 670.5 244.5 670.8 244.5 671.0 244.6 671.3 244.7 671.6 244.7 671.8 244.8 672.1 244.9 672.3 244.9 672.6 245.0 672.8 245.0 673.1 245.1 673.3 245.2 673.6 245.2 673.9 245.3 674.1 245.3 674.4 245.4 674.6 245.4 674.9 245.5 675.1 245.5 675.4 245.6 675.7 245.6 675.9 245.7 676.2 245.7 676.4 245.8 676.7 245.8 676.9 245.9 677.2 245.9 677.4 246.0 677.7 246.0 678.0 246.0 678.2 246.1 678.5 246.1 678.7 246.2 679.0 246.2 679.2 246.2 679.5 246.3 679.8 246.3 680.0 246.4 680.3 246.4 680.5 246.4 680.8 246.5 681.0 246.5 681.3 246.5 681.5 246.6 681.8 246.6 682.1 246.6 682.3 246.6 682.6 246.7 682.8 246.7 683.1 246.7 683.3 246.8 683.6 246.8 683.8 246.8 684.1 246.8 684.4 246.9 684.6 246.9 684.9 246.9 685.1 247.0 685.4 247.0 685.6 247.0 685.9 247.0 686.2 247.0 686.4 247.1 686.7 247.1 686.9 247.1 687.2 247.1 687.4 247.2 687.7 247.2 687.9 247.2 688.2 247.2 688.5 247.2 688.7 247.3 689.0 247.3 689.2 247.3 689.5 247.3 689.7 247.3 690.0 247.3 690.2 247.4 690.5 247.4 690.8 247.4 691.0 247.4 691.3 247.4 691.5 247.4 691.8 247.5 692.0 247.5 692.3 247.5 692.6 247.5 692.8 247.5 693.1 247.5 693.3 247.5 693.6 247.6 693.8 247.6 694.1 247.6 694.3 247.6 694.6 247.6 694.9 247.6 695.1 247.6 695.4 247.7 695.6 247.7 695.9 247.7 696.1 247.7 696.4 247.7 696.6 247.7 696.9 247.7 697.2 247.7 697.4 247.7 697.7 247.8 697.9 247.8 698.2 247.8 698.4 247.8 698.7 247.8 699.0 247.8 699.2 247.8 699.5 247.8 699.7 247.8 700.0 247.8 700.2 247.8 700.5 247.9 700.7 247.9 701.0 247.9 701.3 247.9 701.5 247.9 701.8 247.9 702.0 247.9 702.3 247.9 702.5 247.9 702.8 247.9 703.1 247.9 703.3 247.9 703.6 247.9 703.8 247.9 704.1 248.0 704.3 248.0 704.6 248.0 704.8 248.0 705.1 248.0 705.4 248.0 705.6 248.0 705.9 248.0 706.1 248.0 706.4 248.0 706.6 248.0 706.9 248.0 707.1 248.0 707.4 248.0 707.7 248.0 707.9 248.0 708.2 248.0 708.4 248.0 708.7 248.1 708.9 248.1 709.2 248.1 709.5 248.1 709.7 248.1 710.0 248.1 710.2 248.1 710.5 248.1 710.7 248.1 711.0 248.1 711.2 248.1 711.5 248.1 711.8 248.1 712.0 248.1 712.3 248.1 712.5 248.1 712.8 248.1 713.0 248.1 713.3 248.1 713.5 248.1 713.8 248.1 714.1 248.1 714.3 248.1 714.6 248.1 714.8 248.1 715.1 248.1 715.3 248.1 715.6 248.1 715.9 248.2 716.1 248.2 716.4 248.2 716.6 248.2 716.9 248.2 717.1 248.2 717.4 248.2 717.6 248.2 717.9 248.2 718.2 248.2 718.4 248.2 718.7 248.2 718.9 248.2 719.2 248.2 719.4 248.2 719.7 248.2 719.9 248.2 720.2 248.2 720.5 248.2 720.7 248.2 721.0 248.2 721.2 248.2 721.5 248.2 721.7 248.2 722.0 248.2 722.3 248.2 722.5 248.2 722.8 248.2 723.0 248.2 723.3 248.2 723.5 248.2 723.8 248.2 724.0 248.2 724.3 248.2 724.6 248.2 724.8 248.2 725.1 248.2 725.3 248.2 725.6 248.2 725.8 248.2 726.1 248.2 726.4 248.2 726.6 248.2 726.9 248.2 727.1 248.2 727.4 248.2 727.6 248.2 727.9 248.2 728.1 248.2 728.4 248.2 728.7 248.2 728.9 248.2 729.2 248.2 729.4 248.2 729.7 248.2 729.9 248.2 730.2 248.2 730.4 248.2 730.7 248.2 731.0 248.2 731.2 248.3 731.5 248.3 731.7 248.3 732.0 248.3 732.2 248.3 732.5 248.3 732.8 248.3 733.0 248.3 733.3 248.3 733.5 248.3 733.8 248.3 734.0 248.3 734.3 248.3 734.5 248.3 734.8 248.3 735.1 248.3 735.3 248.3 735.6 248.3 735.8 248.3 736.1 248.3 736.3 248.3 736.6 248.3 736.8 248.3 737.1 248.3 737.4 248.3 737.6 248.3 737.9 248.3 738.1 248.3 738.4 248.3 738.6 248.3 738.9 248.3 739.2 248.3 739.4 248.3 739.7 248.3 739.9 248.3 740.2 248.3 740.4 248.3 740.7 248.3 740.9 248.3 741.2 248.3 741.5 248.3 741.7 248.3 742.0 248.3 742.2 248.3 742.5 248.3 742.7 248.3 743.0 248.3 743.3 248.3 743.5 248.3 743.8 248.3 744.0 248.3 744.3 248.3 744.5 248.3 744.8 248.3 745.0 248.3 745.3 248.3 745.6 248.3 745.8 248.3 746.1 248.3 746.3 248.3 746.6 248.3 746.8 248.3 747.1 248.3 747.3 248.3 747.6 248.3 747.9 248.3 748.1 248.3 748.4 248.3 748.6 248.3 748.9 248.3 749.1 248.3 749.4 248.3 749.7 248.3 749.9 248.3 750.2 248.3 750.4 248.3 750.7 248.3 750.9 248.3 751.2 248.3 751.4 248.3 751.7 248.3 752.0 248.3 752.2 248.3 752.5 248.3 752.7 248.3 753.0 248.3 753.2 248.3 753.5 248.3 753.7 248.3 754.0 248.3 754.3 248.3 754.5 248.3 754.8 248.3 755.0 248.3 755.3 248.3 755.5 248.3 755.8 248.3 756.1 248.3 756.3 248.3 756.6 248.3 756.8 248.3 757.1 248.3 757.3 248.3 757.6 248.3 757.8 248.3 758.1 248.3 758.4 248.3 758.6 248.3 758.9 248.3 759.1 248.3 759.4 248.3 759.6 248.3 759.9 248.3 760.1 248.3 760.4 248.3 760.7 248.3 760.9 248.3 761.2 248.3 761.4 248.3 761.7 248.3 761.9 248.3 762.2 248.3 762.5 248.3 762.7 248.3 763.0 248.3 763.2 248.3 763.5 248.3 763.7 248.3 764.0 248.3 764.2 248.3 764.5 248.3 764.8 248.3 765.0 248.3 765.3 248.3 765.5 248.3 765.8 248.3 766.0 248.3 766.3 248.3 766.6 248.3 766.8 248.3 767.1 248.3 767.3 248.3 767.6 248.3 767.8 248.3 768.1 248.3 768.3 248.3 768.6 248.3 768.9 248.3 769.1 248.3 769.4 248.3 769.6 248.3 769.9 248.3 770.1 248.3 770.4 248.3 770.6 248.3 770.9 248.3 771.2 248.3 771.4 248.3 771.7 248.3 771.9 248.3 772.2 248.3 772.4 248.3 772.7 248.3 773.0 248.3 773.2 248.3 773.5 248.3 773.7 248.3 774.0 248.3 774.2 248.3 774.5 248.3 774.7 248.3 775.0 248.3" fill="none" stroke="#d42222" stroke-width="1.5"/>
<line x1="503.2" y1="75.8" x2="503.2" y2="256" stroke="#808080" stroke-width="1.5" />
<line x1="761.2" y1="62" x2="761.2" y2="255.3" stroke="#8a8a8a" stroke-width="1.6" />
<path d="M761.2 55L764.4 63L758 63Z" fill="#8a8a8a"/>
<line x1="503.2" y1="76" x2="503.2" y2="62" stroke="#1aa3f5" stroke-width="1.8" />
<path d="M503.2 54.8L506.4 62.8L500 62.8Z" fill="#1aa3f5"/>
<line x1="628.7" y1="75" x2="628.7" y2="62" stroke="#a6e61e" stroke-width="1.8" />
<path d="M628.7 55L631.9 63L625.5 63Z" fill="#a6e61e"/>
<line x1="510.7" y1="77.7" x2="619" y2="77.7" stroke="#111" stroke-width="1.8" />
<path d="M625.4 77.7L617.4 80.9L617.4 74.5Z" fill="#111"/>
<path d="M504.3 77.7L512.3 74.5L512.3 80.9Z" fill="#111"/>
<line x1="462.2" y1="261" x2="462.2" y2="69" stroke="#111" stroke-width="2" />
<path d="M462.2 62L465.4 70L459 70Z" fill="#111"/>
<line x1="456" y1="166.2" x2="792" y2="166.2" stroke="#111" stroke-width="2" />
<path d="M798.7 166.2L790.7 169.4L790.7 163Z" fill="#111"/>
<line x1="456" y1="255.3" x2="792" y2="255.3" stroke="#111" stroke-width="2" />
<path d="M798.7 255.3L790.7 258.5L790.7 252.1Z" fill="#111"/>
<line x1="522.6" y1="127.6" x2="540.7" y2="120.8" stroke="#111" stroke-width="2" />
<path d="M546.7 118.6L540.4 124.6L538 118.2Z" fill="#111"/>
<line x1="518.8" y1="232" x2="536.5" y2="225.3" stroke="#111" stroke-width="2" />
<path d="M542.5 223L536.2 229L533.8 222.7Z" fill="#111"/>
<line x1="648.3" y1="213.6" x2="666.7" y2="207.1" stroke="#111" stroke-width="2" />
<path d="M672.7 205L666.3 210.9L664 204.5Z" fill="#111"/>
<text x="501.6" y="50" font-size="15.6" text-anchor="middle" fill="#1aa3f5" stroke="#1aa3f5" stroke-width="0.2" >blue</text>
<text x="566.3" y="67.6" font-size="15.3" text-anchor="middle" fill="#111" stroke="#111" stroke-width="0.2" >delay</text>
<text x="626.6" y="50.3" font-size="15.6" text-anchor="middle" fill="#a6e61e" stroke="#a6e61e" stroke-width="0.2" >green</text>
<text x="759.5" y="50.3" font-size="15.4" text-anchor="middle" fill="#8a8a8a" stroke="#8a8a8a" stroke-width="0.2" >sync</text>
<text x="554" y="117.7" font-size="18.25" text-anchor="start" fill="#111" stroke="#111" stroke-width="0.2" >green</text>
<text x="554" y="138.5" font-size="18.25" text-anchor="start" fill="#111" stroke="#111" stroke-width="0.2" >fluorophore</text>
<text x="534.3" y="215.5" font-size="17.7" text-anchor="start" fill="#111" stroke="#111" stroke-width="0.2" >crosstalk</text>
<text x="680.4" y="203" font-size="18.25" text-anchor="start" fill="#111" stroke="#111" stroke-width="0.2" >red</text>
<text x="680.4" y="224.5" font-size="18.25" text-anchor="start" fill="#111" stroke="#111" stroke-width="0.2" >fluorophore</text>
<text x="757.4" y="277.5" font-size="19.2" text-anchor="middle" fill="#111" stroke="#111" stroke-width="0.2" >time [ns]</text>
<text x="433.2" y="333.8" font-size="33" text-anchor="start" fill="#111" stroke="#111" stroke-width="0.0" >F</text>
<text x="630.1" y="321.6" font-size="18.9" text-anchor="middle" fill="#111" stroke="#111" stroke-width="0.2" >macrotime trace</text>
<line x1="552.2" y1="336.6" x2="552.2" y2="423.8" stroke="#d6d6d6" stroke-width="1" />
<line x1="608.4" y1="336.6" x2="608.4" y2="423.8" stroke="#d6d6d6" stroke-width="1" />
<line x1="664.6" y1="336.6" x2="664.6" y2="423.8" stroke="#d6d6d6" stroke-width="1" />
<line x1="720.8" y1="336.6" x2="720.8" y2="423.8" stroke="#d6d6d6" stroke-width="1" />
<line x1="496" y1="418.8" x2="777" y2="418.8" stroke="#d6d6d6" stroke-width="1" />
<line x1="496" y1="394.7" x2="777" y2="394.7" stroke="#d6d6d6" stroke-width="1" />
<line x1="496" y1="370.6" x2="777" y2="370.6" stroke="#d6d6d6" stroke-width="1" />
<line x1="496" y1="346.5" x2="777" y2="346.5" stroke="#d6d6d6" stroke-width="1" />
<path d="M496.0 371.0 496.3 364.6 496.6 382.9 496.8 363.7 497.1 373.3 497.4 377.4 497.7 377.5 498.0 379.0 498.3 374.2 498.5 368.4 498.8 369.8 499.1 369.5 499.4 382.4 499.7 381.7 499.9 364.4 500.2 367.6 500.5 360.9 500.8 366.3 501.1 378.7 501.3 365.9 501.6 369.5 501.9 371.8 502.2 377.6 502.5 373.0 502.8 373.8 503.0 368.1 503.3 372.3 503.6 364.2 503.9 377.3 504.2 370.4 504.4 370.2 504.7 377.8 505.0 379.6 505.3 367.4 505.6 370.1 505.8 373.9 506.1 370.8 506.4 376.8 506.7 371.7 507.0 376.4 507.3 372.0 507.5 367.5 507.8 374.9 508.1 368.3 508.4 378.7 508.7 374.6 508.9 380.6 509.2 373.6 509.5 372.6 509.8 374.1 510.1 374.5 510.3 365.6 510.6 365.1 510.9 379.7 511.2 366.5 511.5 382.6 511.8 377.1 512.0 374.0 512.3 372.4 512.6 378.8 512.9 377.0 513.2 372.6 513.4 376.9 513.7 376.6 514.0 369.3 514.3 367.8 514.6 373.3 514.8 372.9 515.1 373.1 515.4 375.5 515.7 375.8 516.0 378.8 516.3 369.4 516.5 373.5 516.8 373.8 517.1 371.9 517.4 370.1 517.7 365.1 517.9 374.5 518.2 375.2 518.5 371.9 518.8 377.7 519.1 366.0 519.3 367.9 519.6 369.2 519.9 373.7 520.2 368.9 520.5 367.2 520.8 370.2 521.0 374.6 521.3 382.4 521.6 367.8 521.9 375.0 522.2 377.7 522.4 368.1 522.7 371.1 523.0 380.9 523.3 373.6 523.6 374.5 523.8 367.5 524.1 383.5 524.4 375.1 524.7 373.8 525.0 365.1 525.3 379.0 525.5 389.3 525.8 380.7 526.1 371.6 526.4 368.5 526.7 363.4 526.9 370.8 527.2 377.5 527.5 368.1 527.8 373.1 528.1 374.1 528.3 372.9 528.6 365.9 528.9 378.0 529.2 378.7 529.5 373.4 529.8 373.4 530.0 377.5 530.3 377.9 530.6 370.9 530.9 365.6 531.2 369.1 531.4 369.2 531.7 366.1 532.0 384.0 532.3 381.4 532.6 376.9 532.8 379.6 533.1 378.5 533.4 372.6 533.7 380.1 534.0 375.5 534.3 384.3 534.5 378.4 534.8 365.6 535.1 376.0 535.4 371.2 535.7 369.1 535.9 375.7 536.2 369.8 536.5 371.8 536.8 369.1 537.1 376.5 537.3 381.0 537.6 378.7 537.9 376.1 538.2 370.0 538.5 374.1 538.8 375.2 539.0 374.0 539.3 366.9 539.6 376.2 539.9 364.6 540.2 379.8 540.4 376.3 540.7 368.3 541.0 370.1 541.3 377.8 541.6 373.6 541.8 376.9 542.1 368.3 542.4 370.0 542.7 377.0 543.0 370.8 543.3 375.0 543.5 373.4 543.8 372.7 544.1 376.1 544.4 370.7 544.7 370.5 544.9 370.6 545.2 366.9 545.5 374.5 545.8 381.2 546.1 375.7 546.3 371.9 546.6 372.9 546.9 369.8 547.2 368.5 547.5 373.7 547.8 373.6 548.0 378.5 548.3 367.3 548.6 374.5 548.9 379.0 549.2 379.2 549.4 375.3 549.7 364.4 550.0 368.7 550.3 382.4 550.6 373.7 550.8 371.5 551.1 369.5 551.4 371.1 551.7 376.6 552.0 370.7 552.3 376.1 552.5 385.4 552.8 376.9 553.1 376.8 553.4 367.7 553.7 367.2 553.9 378.8 554.2 372.0 554.5 372.5 554.8 381.0 555.1 384.4 555.4 373.5 555.6 372.3 555.9 376.3 556.2 388.0 556.5 373.2 556.8 376.2 557.0 377.9 557.3 374.8 557.6 379.3 557.9 369.9 558.2 373.0 558.4 376.1 558.7 371.4 559.0 373.2 559.3 381.4 559.6 373.8 559.9 375.5 560.1 382.7 560.4 376.6 560.7 370.6 561.0 376.4 561.3 365.2 561.5 363.6 561.8 374.7 562.1 369.9 562.4 362.0 562.7 374.8 562.9 378.0 563.2 375.4 563.5 380.6 563.8 380.5 564.1 371.9 564.4 375.3 564.6 371.6 564.9 370.3 565.2 377.2 565.5 374.1 565.8 374.5 566.0 376.7 566.3 377.6 566.6 371.3 566.9 373.8 567.2 371.2 567.4 367.5 567.7 367.4 568.0 379.2 568.3 377.8 568.6 374.4 568.9 372.3 569.1 367.8 569.4 378.3 569.7 375.4 570.0 371.6 570.3 366.2 570.5 365.4 570.8 378.6 571.1 374.2 571.4 377.5 571.7 368.3 571.9 370.5 572.2 375.0 572.5 376.4 572.8 371.4 573.1 367.6 573.4 377.3 573.6 374.8 573.9 372.4 574.2 372.9 574.5 371.1 574.8 378.6 575.0 376.3 575.3 384.7 575.6 372.7 575.9 367.1 576.2 384.4 576.4 376.5 576.7 368.0 577.0 373.8 577.3 383.5 577.6 366.5 577.9 380.9 578.1 365.4 578.4 376.3 578.7 376.9 579.0 372.9 579.3 373.1 579.5 369.7 579.8 370.2 580.1 373.8 580.4 365.7 580.7 369.1 580.9 371.5 581.2 372.3 581.5 373.5 581.8 373.4 582.1 369.3 582.4 370.4 582.6 372.8 582.9 367.4 583.2 374.5 583.5 370.6 583.8 368.2 584.0 379.2 584.3 374.5 584.6 363.8 584.9 378.3 585.2 366.6 585.4 378.9 585.7 370.8 586.0 378.9 586.3 376.4 586.6 375.1 586.9 376.1 587.1 367.4 587.4 368.4 587.7 368.2 588.0 371.9 588.3 363.9 588.5 367.3 588.8 371.2 589.1 378.8 589.4 369.2 589.7 369.4 589.9 372.5 590.2 369.1 590.5 368.7 590.8 374.7 591.1 369.9 591.4 371.1 591.6 371.3 591.9 374.9 592.2 375.6 592.5 372.4 592.8 365.1 593.0 360.1 593.3 375.1 593.6 378.9 593.9 374.9 594.2 377.6 594.4 375.3 594.7 370.8 595.0 378.1 595.3 369.6 595.6 368.6 595.9 364.6 596.1 362.9 596.4 367.5 596.7 360.4 597.0 375.8 597.3 371.5 597.5 372.1 597.8 370.6 598.1 367.3 598.4 374.8 598.7 363.5 598.9 365.9 599.2 371.1 599.5 370.4 599.8 378.4 600.1 386.7 600.4 373.5 600.6 371.2 600.9 371.7 601.2 379.1 601.5 375.5 601.8 363.3 602.0 368.9 602.3 369.5 602.6 374.7 602.9 368.9 603.2 365.8 603.4 368.8 603.7 375.2 604.0 371.4 604.3 377.8 604.6 374.6 604.9 369.7 605.1 375.9 605.4 374.2 605.7 365.0 606.0 373.9 606.3 368.7 606.5 374.6 606.8 379.2 607.1 372.9 607.4 374.9 607.7 384.0 607.9 379.6 608.2 375.2 608.5 364.8 608.8 376.1 609.1 373.1 609.4 369.5 609.6 371.3 609.9 374.8 610.2 363.6 610.5 365.6 610.8 386.3 611.0 367.6 611.3 369.9 611.6 367.5 611.9 372.4 612.2 368.4 612.5 362.3 612.7 363.5 613.0 363.1 613.3 367.1 613.6 367.8 613.9 367.7 614.1 379.1 614.4 360.4 614.7 371.6 615.0 371.1 615.3 372.3 615.5 370.3 615.8 384.6 616.1 371.7 616.4 379.9 616.7 378.3 617.0 383.2 617.2 382.4 617.5 369.7 617.8 375.6 618.1 373.5 618.4 373.9 618.6 379.3 618.9 376.8 619.2 379.9 619.5 374.7 619.8 385.2 620.0 375.1 620.3 368.0 620.6 366.3 620.9 366.7 621.2 370.2 621.5 378.5 621.7 368.0 622.0 370.1 622.3 371.5 622.6 379.7 622.9 370.8 623.1 365.2 623.4 368.9 623.7 374.3 624.0 370.0 624.3 373.0 624.5 372.0 624.8 368.3 625.1 371.1 625.4 372.6 625.7 370.9 626.0 377.5 626.2 378.5 626.5 370.3 626.8 376.3 627.1 369.9 627.4 383.1 627.6 366.4 627.9 373.6 628.2 363.8 628.5 386.6 628.8 382.3 629.0 365.3 629.3 372.1 629.6 371.3 629.9 372.3 630.2 372.1 630.5 370.0 630.7 378.5 631.0 373.9 631.3 365.8 631.6 372.0 631.9 376.4 632.1 372.5 632.4 367.2 632.7 374.1 633.0 374.0 633.3 370.3 633.5 368.3 633.8 364.8 634.1 373.7 634.4 371.1 634.7 367.2 635.0 383.4 635.2 372.2 635.5 370.4 635.8 373.4 636.1 377.6 636.4 369.7 636.6 366.1 636.9 373.4 637.2 375.6 637.5 374.1 637.8 364.3 638.0 366.1 638.3 372.7 638.6 378.9 638.9 379.9 639.2 374.7 639.5 374.6 639.7 371.4 640.0 379.1 640.3 373.6 640.6 369.9 640.9 382.2 641.1 360.2 641.4 369.7 641.7 370.0 642.0 380.1 642.3 378.5 642.5 367.2 642.8 367.9 643.1 386.3 643.4 366.5 643.7 368.8 644.0 369.4 644.2 379.0 644.5 371.4 644.8 376.2 645.1 369.7 645.4 362.6 645.6 369.3 645.9 367.2 646.2 374.5 646.5 378.4 646.8 372.7 647.0 367.0 647.3 364.7 647.6 373.1 647.9 371.4 648.2 375.0 648.5 382.3 648.7 372.3 649.0 370.8 649.3 375.1 649.6 373.7 649.9 382.7 650.1 372.4 650.4 365.1 650.7 372.9 651.0 369.5 651.3 370.3 651.5 376.9 651.8 371.6 652.1 377.3 652.4 356.6 652.7 371.6 653.0 378.8 653.2 381.2 653.5 364.5 653.8 369.4 654.1 370.6 654.4 380.3 654.6 375.9 654.9 379.5 655.2 366.7 655.5 375.7 655.8 362.1 656.0 369.9 656.3 374.5 656.6 365.3 656.9 384.4 657.2 377.4 657.5 375.0 657.7 366.8 658.0 366.8 658.3 370.8 658.6 382.6 658.9 375.7 659.1 378.9 659.4 365.9 659.7 375.2 660.0 369.5 660.3 362.5 660.5 373.2 660.8 368.9 661.1 374.9 661.4 372.5 661.7 372.5 662.0 372.7 662.2 372.4 662.5 374.9 662.8 362.4 663.1 376.4 663.4 371.4 663.6 374.4 663.9 385.3 664.2 367.4 664.5 371.5 664.8 380.4 665.1 376.8 665.3 381.7 665.6 371.2 665.9 364.1 666.2 366.1 666.5 380.0 666.7 382.4 667.0 369.9 667.3 363.5 667.6 372.5 667.9 367.0 668.1 380.6 668.4 373.5 668.7 370.4 669.0 375.1 669.3 374.1 669.6 369.1 669.8 376.3 670.1 378.4 670.4 368.7 670.7 371.5 671.0 378.4 671.2 370.5 671.5 376.0 671.8 369.3 672.1 372.9 672.4 374.5 672.6 377.2 672.9 371.8 673.2 373.1 673.5 362.4 673.8 373.1 674.1 380.4 674.3 361.4 674.6 384.2 674.9 363.7 675.2 377.7 675.5 365.2 675.7 373.9 676.0 369.9 676.3 372.7 676.6 373.5 676.9 370.0 677.1 376.5 677.4 370.3 677.7 378.9 678.0 377.0 678.3 375.7 678.6 373.5 678.8 366.2 679.1 377.6 679.4 377.7 679.7 379.2 680.0 375.2 680.2 369.8 680.5 377.1 680.8 374.6 681.1 376.2 681.4 372.5 681.6 384.1 681.9 369.7 682.2 367.8 682.5 377.6 682.8 373.4 683.1 378.0 683.3 367.4 683.6 369.5 683.9 356.9 684.2 374.1 684.5 377.8 684.7 375.6 685.0 379.9 685.3 371.8 685.6 371.2 685.9 367.8 686.1 370.7 686.4 375.2 686.7 365.8 687.0 369.7 687.3 368.3 687.6 379.4 687.8 377.5 688.1 376.5 688.4 375.1 688.7 385.0 689.0 366.2 689.2 374.0 689.5 368.2 689.8 368.6 690.1 364.6 690.4 369.7 690.6 370.7 690.9 376.9 691.2 372.1 691.5 363.1 691.8 382.5 692.1 376.7 692.3 371.2 692.6 363.8 692.9 378.8 693.2 375.2 693.5 371.8 693.7 355.5 694.0 377.5 694.3 373.5 694.6 368.5 694.9 376.5 695.1 370.5 695.4 370.3 695.7 374.6 696.0 370.6 696.3 363.0 696.6 371.9 696.8 374.9 697.1 376.7 697.4 371.3 697.7 366.8 698.0 371.7 698.2 370.8 698.5 357.8 698.8 376.7 699.1 378.5 699.4 371.0 699.6 373.7 699.9 369.3 700.2 365.6 700.5 370.5 700.8 373.6 701.1 369.6 701.3 369.8 701.6 373.0 701.9 375.7 702.2 368.8 702.5 373.6 702.7 378.8 703.0 368.7 703.3 375.4 703.6 375.5 703.9 368.9 704.1 376.9 704.4 373.5 704.7 378.0 705.0 381.0 705.3 370.9 705.6 363.9 705.8 377.4 706.1 366.1 706.4 366.7 706.7 364.2 707.0 378.5 707.2 376.2 707.5 363.5 707.8 372.8 708.1 372.6 708.4 368.6 708.6 369.2 708.9 375.6 709.2 373.7 709.5 369.0 709.8 371.0 710.1 376.5 710.3 365.4 710.6 367.8 710.9 374.2 711.2 375.5 711.5 367.4 711.7 385.8 712.0 371.9 712.3 375.7 712.6 376.2 712.9 367.6 713.1 370.7 713.4 355.5 713.7 373.6 714.0 370.4 714.3 380.1 714.6 366.8 714.8 375.7 715.1 371.1 715.4 365.2 715.7 365.8 716.0 369.6 716.2 365.3 716.5 374.8 716.8 377.5 717.1 380.7 717.4 369.2 717.6 361.5 717.9 374.1 718.2 372.3 718.5 374.1 718.8 369.6 719.1 382.4 719.3 367.6 719.6 366.4 719.9 376.1 720.2 377.9 720.5 377.2 720.7 369.3 721.0 364.4 721.3 377.9 721.6 380.9 721.9 371.8 722.2 370.9 722.4 368.5 722.7 376.2 723.0 368.3 723.3 366.3 723.6 381.5 723.8 374.1 724.1 369.0 724.4 368.2 724.7 375.5 725.0 383.2 725.2 376.8 725.5 380.4 725.8 375.4 726.1 366.8 726.4 376.0 726.7 372.1 726.9 379.2 727.2 367.4 727.5 376.0 727.8 378.4 728.1 362.2 728.3 370.7 728.6 368.8 728.9 383.6 729.2 364.7 729.5 363.1 729.7 373.4 730.0 374.3 730.3 375.8 730.6 366.7 730.9 381.3 731.2 370.8 731.4 361.6 731.7 371.9 732.0 361.7 732.3 372.5 732.6 374.3 732.8 367.6 733.1 373.0 733.4 372.1 733.7 374.9 734.0 379.3 734.2 374.3 734.5 368.7 734.8 366.7 735.1 373.0 735.4 370.9 735.7 377.8 735.9 373.6 736.2 373.5 736.5 373.4 736.8 372.3 737.1 370.7 737.3 365.9 737.6 368.4 737.9 369.8 738.2 379.4 738.5 377.1 738.7 372.4 739.0 372.0 739.3 368.6 739.6 382.3 739.9 371.6 740.2 371.9 740.4 374.5 740.7 377.0 741.0 371.3 741.3 373.5 741.6 370.0 741.8 383.7 742.1 377.6 742.4 364.2 742.7 371.3 743.0 376.8 743.2 374.3 743.5 379.7 743.8 364.7 744.1 364.7 744.4 367.7 744.7 365.9 744.9 369.9 745.2 365.3 745.5 369.0 745.8 364.7 746.1 372.6 746.3 373.0 746.6 375.6 746.9 375.1 747.2 381.2 747.5 365.2 747.7 364.7 748.0 368.4 748.3 367.0 748.6 371.2 748.9 369.8 749.2 379.9 749.4 372.9 749.7 382.4 750.0 376.2 750.3 374.0 750.6 374.2 750.8 378.3 751.1 365.4 751.4 367.0 751.7 375.4 752.0 379.2 752.2 375.2 752.5 367.3 752.8 383.0 753.1 368.1 753.4 373.2 753.7 374.7 753.9 366.9 754.2 372.4 754.5 374.4 754.8 365.7 755.1 381.2 755.3 363.6 755.6 377.1 755.9 377.1 756.2 363.8 756.5 354.2 756.7 365.7 757.0 377.1 757.3 384.4 757.6 371.1 757.9 372.5 758.2 375.7 758.4 373.2 758.7 376.2 759.0 367.8 759.3 372.9 759.6 373.6 759.8 384.5 760.1 371.1 760.4 380.5 760.7 368.5 761.0 372.7 761.2 383.6 761.5 374.4 761.8 379.1 762.1 369.5 762.4 370.1 762.7 366.7 762.9 376.8 763.2 369.8 763.5 380.1 763.8 370.8 764.1 373.8 764.3 371.3 764.6 372.6 764.9 367.0 765.2 374.5 765.5 373.6 765.7 364.9 766.0 373.0 766.3 375.5 766.6 377.5 766.9 372.5 767.2 372.8 767.4 369.1 767.7 373.5 768.0 368.8 768.3 374.0 768.6 363.8 768.8 372.9 769.1 368.9 769.4 370.5 769.7 379.8 770.0 366.9 770.2 374.9 770.5 367.5 770.8 383.6 771.1 382.8 771.4 383.6 771.7 382.5 771.9 374.8 772.2 372.9 772.5 378.1 772.8 374.6 773.1 376.4 773.3 368.7 773.6 368.8 773.9 371.1 774.2 369.2 774.5 363.3 774.7 369.2 775.0 381.1 775.3 373.9 775.6 374.4 775.9 368.2 776.2 370.1 776.4 368.0 776.7 381.2 777.0 365.1" fill="none" stroke="#f21818" stroke-width="0.9"/>
<path d="M496.0 386.4 496.3 382.6 496.6 383.0 496.8 388.0 497.1 387.4 497.4 388.0 497.7 384.9 498.0 386.7 498.3 384.3 498.5 391.8 498.8 382.0 499.1 386.8 499.4 384.5 499.7 386.9 499.9 387.6 500.2 385.2 500.5 384.1 500.8 387.1 501.1 386.9 501.3 384.5 501.6 389.0 501.9 390.9 502.2 385.4 502.5 388.4 502.8 392.1 503.0 388.9 503.3 387.9 503.6 390.0 503.9 390.8 504.2 386.4 504.4 383.9 504.7 387.2 505.0 388.7 505.3 385.4 505.6 384.4 505.8 387.4 506.1 384.9 506.4 383.5 506.7 387.1 507.0 388.9 507.3 385.5 507.5 385.8 507.8 383.3 508.1 390.2 508.4 388.4 508.7 388.9 508.9 391.5 509.2 386.1 509.5 385.0 509.8 388.6 510.1 382.5 510.3 384.1 510.6 384.7 510.9 385.3 511.2 383.7 511.5 390.4 511.8 384.7 512.0 384.8 512.3 391.6 512.6 385.5 512.9 387.2 513.2 384.2 513.4 387.8 513.7 386.6 514.0 385.5 514.3 389.0 514.6 384.8 514.8 386.8 515.1 385.1 515.4 388.0 515.7 383.4 516.0 384.8 516.3 387.0 516.5 384.7 516.8 382.9 517.1 381.3 517.4 391.1 517.7 384.0 517.9 385.2 518.2 386.8 518.5 389.4 518.8 382.9 519.1 390.2 519.3 384.9 519.6 382.7 519.9 391.1 520.2 387.4 520.5 390.3 520.8 385.8 521.0 382.1 521.3 380.7 521.6 391.6 521.9 388.2 522.2 384.5 522.4 381.9 522.7 385.3 523.0 388.7 523.3 385.6 523.6 386.6 523.8 387.1 524.1 388.6 524.4 385.4 524.7 385.6 525.0 386.8 525.3 387.1 525.5 390.2 525.8 387.9 526.1 383.0 526.4 387.1 526.7 390.7 526.9 382.6 527.2 385.0 527.5 380.4 527.8 386.3 528.1 387.8 528.3 390.7 528.6 382.7 528.9 379.1 529.2 388.9 529.5 388.4 529.8 384.8 530.0 388.9 530.3 387.3 530.6 387.5 530.9 386.0 531.2 383.3 531.4 386.4 531.7 383.8 532.0 387.7 532.3 385.6 532.6 392.7 532.8 390.7 533.1 384.2 533.4 388.2 533.7 384.8 534.0 384.9 534.3 382.7 534.5 384.2 534.8 383.6 535.1 386.8 535.4 388.5 535.7 388.6 535.9 387.9 536.2 389.8 536.5 388.1 536.8 386.8 537.1 385.8 537.3 387.5 537.6 392.1 537.9 386.7 538.2 385.9 538.5 383.4 538.8 384.8 539.0 388.4 539.3 388.6 539.6 380.7 539.9 384.3 540.2 381.2 540.4 380.3 540.7 388.9 541.0 385.4 541.3 385.2 541.6 384.9 541.8 384.9 542.1 385.9 542.4 386.0 542.7 390.9 543.0 387.0 543.3 388.7 543.5 386.1 543.8 387.9 544.1 384.7 544.4 384.1 544.7 385.6 544.9 385.6 545.2 386.2 545.5 387.8 545.8 387.0 546.1 387.9 546.3 385.4 546.6 386.5 546.9 384.8 547.2 390.3 547.5 383.9 547.8 388.7 548.0 388.6 548.3 387.1 548.6 388.1 548.9 385.7 549.2 388.2 549.4 389.6 549.7 389.0 550.0 382.7 550.3 386.4 550.6 389.9 550.8 386.5 551.1 391.0 551.4 381.3 551.7 390.9 552.0 385.1 552.3 384.9 552.5 390.7 552.8 385.6 553.1 383.6 553.4 385.2 553.7 385.8 553.9 383.8 554.2 386.0 554.5 385.5 554.8 386.9 555.1 384.7 555.4 389.2 555.6 384.2 555.9 388.0 556.2 389.7 556.5 385.4 556.8 381.6 557.0 383.7 557.3 388.0 557.6 384.5 557.9 387.8 558.2 386.9 558.4 386.2 558.7 393.2 559.0 386.0 559.3 389.5 559.6 388.5 559.9 390.8 560.1 390.9 560.4 389.2 560.7 384.1 561.0 381.7 561.3 386.6 561.5 383.3 561.8 387.3 562.1 392.0 562.4 386.1 562.7 385.2 562.9 387.7 563.2 385.6 563.5 384.9 563.8 389.0 564.1 390.8 564.4 387.1 564.6 387.1 564.9 387.5 565.2 383.7 565.5 381.5 565.8 387.7 566.0 384.5 566.3 383.8 566.6 384.4 566.9 383.5 567.2 387.6 567.4 384.4 567.7 380.7 568.0 384.2 568.3 388.3 568.6 384.7 568.9 382.9 569.1 385.4 569.4 388.1 569.7 382.0 570.0 390.1 570.3 385.1 570.5 386.6 570.8 390.0 571.1 383.0 571.4 385.5 571.7 389.9 571.9 384.8 572.2 387.8 572.5 392.0 572.8 388.5 573.1 385.7 573.4 384.7 573.6 386.0 573.9 386.4 574.2 385.1 574.5 387.1 574.8 383.1 575.0 386.1 575.3 385.7 575.6 384.9 575.9 389.6 576.2 388.6 576.4 382.1 576.7 385.5 577.0 387.3 577.3 385.5 577.6 387.9 577.9 385.7 578.1 388.4 578.4 385.7 578.7 391.1 579.0 382.7 579.3 388.0 579.5 391.1 579.8 387.2 580.1 387.6 580.4 386.1 580.7 389.8 580.9 385.4 581.2 376.0 581.5 390.2 581.8 385.5 582.1 387.4 582.4 385.9 582.6 391.7 582.9 389.8 583.2 385.2 583.5 386.6 583.8 381.8 584.0 388.5 584.3 386.0 584.6 378.1 584.9 388.7 585.2 389.1 585.4 386.6 585.7 386.6 586.0 384.1 586.3 386.1 586.6 388.7 586.9 385.9 587.1 378.9 587.4 382.8 587.7 394.6 588.0 386.9 588.3 389.0 588.5 384.7 588.8 387.0 589.1 380.9 589.4 383.8 589.7 383.9 589.9 386.0 590.2 386.6 590.5 385.5 590.8 382.8 591.1 385.0 591.4 387.5 591.6 382.8 591.9 386.0 592.2 386.7 592.5 388.8 592.8 388.1 593.0 388.3 593.3 394.6 593.6 383.6 593.9 384.9 594.2 387.1 594.4 383.5 594.7 385.2 595.0 385.4 595.3 393.7 595.6 387.2 595.9 385.0 596.1 381.9 596.4 381.2 596.7 382.4 597.0 389.9 597.3 392.9 597.5 384.9 597.8 386.4 598.1 383.7 598.4 386.9 598.7 385.9 598.9 390.8 599.2 385.2 599.5 387.8 599.8 385.5 600.1 385.2 600.4 386.8 600.6 385.6 600.9 386.5 601.2 384.3 601.5 385.1 601.8 388.1 602.0 388.2 602.3 381.5 602.6 386.8 602.9 383.6 603.2 385.4 603.4 388.1 603.7 388.7 604.0 386.2 604.3 385.8 604.6 384.7 604.9 390.2 605.1 388.2 605.4 386.8 605.7 381.9 606.0 393.3 606.3 385.2 606.5 388.1 606.8 385.3 607.1 387.9 607.4 385.5 607.7 382.0 607.9 385.5 608.2 385.3 608.5 385.4 608.8 388.7 609.1 384.9 609.4 387.1 609.6 388.9 609.9 386.6 610.2 387.2 610.5 384.3 610.8 386.6 611.0 388.0 611.3 382.3 611.6 383.6 611.9 382.8 612.2 384.7 612.5 386.8 612.7 387.7 613.0 387.3 613.3 383.8 613.6 386.2 613.9 390.8 614.1 386.6 614.4 390.6 614.7 386.0 615.0 390.0 615.3 390.2 615.5 386.2 615.8 386.7 616.1 391.3 616.4 384.3 616.7 380.3 617.0 390.8 617.2 381.2 617.5 388.5 617.8 387.9 618.1 387.0 618.4 390.7 618.6 382.7 618.9 385.1 619.2 388.7 619.5 387.3 619.8 390.9 620.0 387.5 620.3 383.8 620.6 391.5 620.9 387.8 621.2 386.1 621.5 383.5 621.7 382.6 622.0 387.8 622.3 388.6 622.6 385.2 622.9 387.6 623.1 387.4 623.4 383.4 623.7 381.6 624.0 385.7 624.3 387.1 624.5 384.9 624.8 392.0 625.1 386.6 625.4 389.6 625.7 379.6 626.0 384.4 626.2 386.1 626.5 387.1 626.8 393.8 627.1 384.4 627.4 381.8 627.6 388.6 627.9 384.5 628.2 384.4 628.5 391.0 628.8 383.8 629.0 382.6 629.3 385.8 629.6 386.7 629.9 384.2 630.2 391.0 630.5 386.2 630.7 383.5 631.0 390.1 631.3 383.6 631.6 387.7 631.9 392.5 632.1 386.8 632.4 389.3 632.7 385.6 633.0 389.9 633.3 383.5 633.5 388.6 633.8 385.5 634.1 388.2 634.4 387.4 634.7 383.1 635.0 385.9 635.2 387.6 635.5 390.1 635.8 383.2 636.1 384.4 636.4 387.5 636.6 385.8 636.9 389.5 637.2 389.4 637.5 388.9 637.8 385.5 638.0 385.7 638.3 388.7 638.6 384.4 638.9 384.2 639.2 386.0 639.5 383.5 639.7 387.3 640.0 386.8 640.3 385.1 640.6 386.6 640.9 384.2 641.1 390.1 641.4 382.4 641.7 388.8 642.0 387.0 642.3 390.5 642.5 384.8 642.8 382.8 643.1 383.4 643.4 384.1 643.7 391.0 644.0 388.8 644.2 387.8 644.5 389.2 644.8 383.3 645.1 386.0 645.4 386.6 645.6 385.1 645.9 389.3 646.2 389.1 646.5 389.1 646.8 385.1 647.0 385.5 647.3 384.8 647.6 383.4 647.9 390.4 648.2 388.1 648.5 386.1 648.7 390.4 649.0 388.0 649.3 383.6 649.6 383.3 649.9 383.4 650.1 386.4 650.4 387.1 650.7 383.4 651.0 387.6 651.3 385.5 651.5 382.7 651.8 387.6 652.1 388.3 652.4 386.5 652.7 384.8 653.0 385.1 653.2 386.1 653.5 384.9 653.8 391.1 654.1 389.0 654.4 386.0 654.6 389.2 654.9 390.4 655.2 390.0 655.5 389.2 655.8 387.0 656.0 389.5 656.3 385.8 656.6 381.6 656.9 386.9 657.2 382.8 657.5 385.7 657.7 389.7 658.0 387.2 658.3 389.3 658.6 384.3 658.9 389.8 659.1 382.7 659.4 384.8 659.7 392.4 660.0 384.2 660.3 382.0 660.5 388.8 660.8 383.7 661.1 391.7 661.4 385.8 661.7 391.3 662.0 385.1 662.2 391.7 662.5 394.1 662.8 385.4 663.1 379.9 663.4 388.2 663.6 384.1 663.9 386.2 664.2 387.4 664.5 384.7 664.8 381.8 665.1 390.1 665.3 384.9 665.6 385.5 665.9 390.6 666.2 381.8 666.5 380.9 666.7 389.3 667.0 381.5 667.3 386.3 667.6 387.0 667.9 382.2 668.1 385.8 668.4 385.6 668.7 382.1 669.0 382.8 669.3 383.9 669.6 390.6 669.8 391.1 670.1 383.2 670.4 389.2 670.7 386.1 671.0 389.6 671.2 387.0 671.5 390.2 671.8 381.8 672.1 389.5 672.4 386.9 672.6 387.1 672.9 383.0 673.2 390.6 673.5 386.6 673.8 387.1 674.1 385.0 674.3 385.1 674.6 387.8 674.9 385.8 675.2 387.6 675.5 385.2 675.7 386.8 676.0 388.4 676.3 386.6 676.6 385.5 676.9 380.0 677.1 387.9 677.4 385.6 677.7 382.3 678.0 392.5 678.3 391.5 678.6 389.9 678.8 386.8 679.1 379.4 679.4 385.4 679.7 383.0 680.0 387.1 680.2 393.6 680.5 393.2 680.8 383.6 681.1 386.0 681.4 390.3 681.6 383.3 681.9 391.0 682.2 383.2 682.5 382.3 682.8 388.7 683.1 389.7 683.3 384.1 683.6 389.7 683.9 384.0 684.2 390.0 684.5 384.2 684.7 386.2 685.0 387.8 685.3 389.1 685.6 385.8 685.9 392.0 686.1 387.3 686.4 387.7 686.7 384.5 687.0 390.1 687.3 381.6 687.6 387.4 687.8 389.8 688.1 382.5 688.4 381.7 688.7 387.0 689.0 389.1 689.2 386.5 689.5 388.5 689.8 387.4 690.1 382.0 690.4 385.4 690.6 386.1 690.9 385.5 691.2 386.7 691.5 384.1 691.8 384.0 692.1 387.6 692.3 386.2 692.6 379.5 692.9 385.3 693.2 387.0 693.5 380.6 693.7 386.5 694.0 389.7 694.3 384.6 694.6 389.1 694.9 387.9 695.1 385.6 695.4 386.9 695.7 388.7 696.0 388.1 696.3 388.2 696.6 383.1 696.8 388.6 697.1 388.2 697.4 380.6 697.7 388.1 698.0 382.2 698.2 382.7 698.5 386.9 698.8 390.6 699.1 385.2 699.4 384.6 699.6 383.7 699.9 386.3 700.2 383.0 700.5 382.5 700.8 389.6 701.1 382.4 701.3 386.0 701.6 388.1 701.9 387.4 702.2 381.1 702.5 383.7 702.7 391.7 703.0 386.3 703.3 386.9 703.6 387.0 703.9 388.0 704.1 390.7 704.4 384.0 704.7 389.2 705.0 387.6 705.3 388.2 705.6 388.6 705.8 384.4 706.1 385.4 706.4 388.5 706.7 389.2 707.0 387.9 707.2 383.7 707.5 386.1 707.8 385.8 708.1 387.5 708.4 387.3 708.6 385.9 708.9 391.8 709.2 381.8 709.5 388.8 709.8 388.1 710.1 382.6 710.3 385.9 710.6 386.4 710.9 388.2 711.2 391.0 711.5 386.0 711.7 383.0 712.0 389.1 712.3 382.6 712.6 389.8 712.9 388.6 713.1 385.0 713.4 386.5 713.7 384.5 714.0 388.7 714.3 389.5 714.6 391.9 714.8 390.0 715.1 389.6 715.4 390.6 715.7 385.6 716.0 388.4 716.2 392.3 716.5 379.3 716.8 388.9 717.1 390.1 717.4 382.9 717.6 383.1 717.9 389.8 718.2 390.8 718.5 389.4 718.8 383.2 719.1 387.4 719.3 388.8 719.6 386.6 719.9 383.0 720.2 390.5 720.5 387.6 720.7 390.5 721.0 380.2 721.3 381.2 721.6 383.8 721.9 386.9 722.2 384.6 722.4 392.6 722.7 385.7 723.0 390.4 723.3 390.3 723.6 388.5 723.8 387.5 724.1 384.8 724.4 384.5 724.7 385.7 725.0 389.2 725.2 384.6 725.5 386.9 725.8 383.1 726.1 389.2 726.4 394.5 726.7 387.9 726.9 380.3 727.2 385.1 727.5 387.1 727.8 384.0 728.1 385.1 728.3 385.2 728.6 388.0 728.9 386.3 729.2 385.9 729.5 388.4 729.7 389.7 730.0 386.1 730.3 383.7 730.6 384.6 730.9 385.1 731.2 385.0 731.4 379.0 731.7 385.8 732.0 383.5 732.3 380.8 732.6 386.4 732.8 385.7 733.1 383.5 733.4 381.6 733.7 385.6 734.0 385.5 734.2 386.2 734.5 390.0 734.8 383.3 735.1 387.2 735.4 391.5 735.7 386.9 735.9 391.5 736.2 389.4 736.5 386.4 736.8 389.2 737.1 383.4 737.3 390.7 737.6 385.7 737.9 384.9 738.2 382.3 738.5 383.8 738.7 385.8 739.0 386.2 739.3 386.7 739.6 383.2 739.9 388.4 740.2 385.0 740.4 386.7 740.7 385.8 741.0 387.2 741.3 380.3 741.6 388.4 741.8 385.7 742.1 385.7 742.4 384.7 742.7 385.2 743.0 385.2 743.2 383.6 743.5 390.8 743.8 386.4 744.1 390.0 744.4 385.8 744.7 389.9 744.9 389.2 745.2 386.6 745.5 382.4 745.8 384.8 746.1 385.6 746.3 382.4 746.6 389.2 746.9 392.5 747.2 387.7 747.5 387.3 747.7 382.9 748.0 380.3 748.3 390.3 748.6 379.3 748.9 381.9 749.2 384.0 749.4 385.4 749.7 379.4 750.0 386.2 750.3 387.8 750.6 386.1 750.8 390.4 751.1 385.1 751.4 386.8 751.7 385.5 752.0 385.4 752.2 389.5 752.5 382.7 752.8 389.4 753.1 383.9 753.4 391.1 753.7 385.4 753.9 388.8 754.2 386.3 754.5 388.3 754.8 392.8 755.1 389.7 755.3 386.3 755.6 384.7 755.9 390.7 756.2 392.6 756.5 389.0 756.7 387.1 757.0 388.3 757.3 388.8 757.6 384.0 757.9 383.7 758.2 384.3 758.4 389.2 758.7 386.2 759.0 387.0 759.3 390.6 759.6 383.9 759.8 386.2 760.1 387.9 760.4 382.4 760.7 384.3 761.0 384.0 761.2 383.0 761.5 384.4 761.8 390.1 762.1 387.6 762.4 383.6 762.7 388.7 762.9 386.4 763.2 385.3 763.5 382.3 763.8 382.7 764.1 383.9 764.3 387.0 764.6 383.8 764.9 384.9 765.2 386.9 765.5 382.5 765.7 385.0 766.0 388.7 766.3 382.8 766.6 387.2 766.9 384.8 767.2 390.9 767.4 386.5 767.7 389.2 768.0 389.3 768.3 392.0 768.6 380.3 768.8 386.9 769.1 385.8 769.4 383.3 769.7 386.8 770.0 385.0 770.2 390.4 770.5 385.9 770.8 387.7 771.1 385.0 771.4 386.0 771.7 390.5 771.9 391.8 772.2 389.4 772.5 384.3 772.8 385.3 773.1 385.3 773.3 392.3 773.6 394.3 773.9 388.3 774.2 387.4 774.5 388.2 774.7 385.5 775.0 387.0 775.3 389.9 775.6 389.0 775.9 386.1 776.2 386.3 776.4 386.7 776.7 379.9 777.0 387.3" fill="none" stroke="#1ee61e" stroke-width="0.9"/>
<rect x="496.0" y="336.6" width="281" height="87.2" fill="none" stroke="#555" stroke-width="1.1"/>
<line x1="496" y1="423.8" x2="777" y2="423.8" stroke="#444" stroke-width="1.5" />
<line x1="496" y1="423.8" x2="496" y2="427.8" stroke="#555" stroke-width="1.2" />
<line x1="524.1" y1="423.8" x2="524.1" y2="426.3" stroke="#555" stroke-width="1.2" />
<line x1="552.2" y1="423.8" x2="552.2" y2="427.8" stroke="#555" stroke-width="1.2" />
<line x1="580.3" y1="423.8" x2="580.3" y2="426.3" stroke="#555" stroke-width="1.2" />
<line x1="608.4" y1="423.8" x2="608.4" y2="427.8" stroke="#555" stroke-width="1.2" />
<line x1="636.5" y1="423.8" x2="636.5" y2="426.3" stroke="#555" stroke-width="1.2" />
<line x1="664.6" y1="423.8" x2="664.6" y2="427.8" stroke="#555" stroke-width="1.2" />
<line x1="692.7" y1="423.8" x2="692.7" y2="426.3" stroke="#555" stroke-width="1.2" />
<line x1="720.8" y1="423.8" x2="720.8" y2="427.8" stroke="#555" stroke-width="1.2" />
<line x1="748.9" y1="423.8" x2="748.9" y2="426.3" stroke="#555" stroke-width="1.2" />
<line x1="777" y1="423.8" x2="777" y2="427.8" stroke="#555" stroke-width="1.2" />
<text x="491.9" y="350.6" font-size="14" text-anchor="end" fill="#111" stroke="#111" stroke-width="0.2" >20</text>
<text x="491.9" y="375.4" font-size="14" text-anchor="end" fill="#111" stroke="#111" stroke-width="0.2" >15</text>
<text x="491.9" y="399.2" font-size="14" text-anchor="end" fill="#111" stroke="#111" stroke-width="0.2" >10</text>
<text x="491.9" y="423.2" font-size="14" text-anchor="end" fill="#111" stroke="#111" stroke-width="0.2" >5</text>
<text x="496" y="441.6" font-size="14" text-anchor="middle" fill="#111" stroke="#111" stroke-width="0.2" >0</text>
<text x="552.2" y="441.6" font-size="14" text-anchor="middle" fill="#111" stroke="#111" stroke-width="0.2" >20</text>
<text x="608.4" y="441.6" font-size="14" text-anchor="middle" fill="#111" stroke="#111" stroke-width="0.2" >40</text>
<text x="664.6" y="441.6" font-size="14" text-anchor="middle" fill="#111" stroke="#111" stroke-width="0.2" >60</text>
<text x="720.8" y="441.6" font-size="14" text-anchor="middle" fill="#111" stroke="#111" stroke-width="0.2" >80</text>
<text x="777" y="441.6" font-size="14" text-anchor="middle" fill="#111" stroke="#111" stroke-width="0.2" >100</text>
<text x="636.3" y="460.3" font-size="14.6" text-anchor="middle" fill="#111" stroke="#111" stroke-width="0.2" >time [s]</text>
<text x="465.7" y="385.3" font-size="14.6" text-anchor="middle" fill="#111" stroke="#111" stroke-width="0.2" transform="rotate(-90 465.7 385.3)">Intensity [kHz]</text>
<text x="433.4" y="513.6" font-size="33" text-anchor="start" fill="#111" stroke="#111" stroke-width="0.0" >G</text>
<text x="635" y="500" font-size="18.9" text-anchor="middle" fill="#111" stroke="#111" stroke-width="0.2" >macrotime image</text>
<svg x="510.7" y="508.6" width="115.8" height="120.4" viewBox="0 0 116 120.6">
<defs><radialGradient id="gug" gradientUnits="userSpaceOnUse" cx="64" cy="38" r="56"><stop offset="0" stop-color="#1e8e1e"/><stop offset="0.5" stop-color="#1e8e1e"/><stop offset="1" stop-color="#1e8e1e" stop-opacity="0.15"/></radialGradient><radialGradient id="glg" gradientUnits="userSpaceOnUse" cx="70" cy="66" r="40"><stop offset="0" stop-color="#197e19"/><stop offset="0.6" stop-color="#197e19"/><stop offset="1" stop-color="#197e19" stop-opacity="0.55"/></radialGradient><linearGradient id="grg" gradientUnits="userSpaceOnUse" x1="0" y1="55" x2="0" y2="112"><stop offset="0" stop-color="#0c3e0c"/><stop offset="0.6" stop-color="#0c3e0c"/><stop offset="1" stop-color="#0c3e0c" stop-opacity="0.2"/></linearGradient></defs>
<rect width="120" height="130" fill="#020802"/>
<g filter="url(#cellf)">
<rect width="120" height="130" fill="#020802"/>
<path d="M64.1 -1.0C72.4 -3.0 106.5 -6.2 116.0 -1.0C125.5 4.2 118.4 22.7 117.0 28.0C115.6 33.3 112.5 28.8 108.3 28.3C104.1 27.8 99.3 27.0 93.6 25.3C87.9 23.6 81.1 21.9 76.9 19.1C72.7 16.3 72.3 13.6 70.0 10.0C67.7 6.4 55.8 1.0 64.1 -1.0Z" fill="#071e07"/>
<circle cx="111" cy="16.5" r="5" fill="#020802" opacity="0.8"/>
<path d="M98.6 49.0C100.0 44.8 103.9 48.0 107.0 47.5C110.1 47.0 114.4 40.5 116.0 46.4C117.6 52.2 116.5 71.5 116.0 80.0C115.5 88.5 115.4 88.2 113.3 93.8C111.2 99.4 105.9 110.2 104.1 111.3C102.3 112.4 103.6 104.2 103.2 100.0C102.8 95.8 102.4 93.3 101.7 88.0C101.0 82.7 100.0 77.6 99.4 70.6C98.8 63.6 97.2 53.2 98.6 49.0Z" fill="url(#grg)"/>
<path d="M50.0 62.5C51.0 60.7 56.0 59.5 59.4 57.8C62.8 56.1 65.4 54.4 69.0 53.3C72.6 52.2 76.5 51.6 79.3 51.5C82.1 51.4 83.2 50.1 84.5 52.5C85.8 54.9 85.8 60.0 86.6 65.0C87.4 70.0 87.5 75.7 89.0 80.0C90.5 84.3 93.7 86.0 95.0 89.0C96.3 92.0 96.9 95.5 96.0 96.5C95.1 97.5 92.2 95.0 90.0 94.5C87.8 94.0 86.5 93.2 84.0 93.5C81.5 93.8 78.0 95.3 76.0 96.0C74.0 96.7 74.6 98.9 73.0 97.5C71.4 96.1 69.5 91.8 67.0 88.0C64.5 84.2 61.3 80.1 59.0 76.5C56.7 72.9 55.6 70.5 54.0 68.0C52.4 65.5 49.0 64.3 50.0 62.5Z" fill="url(#glg)"/>
<path d="M51.0 12.3C52.1 11.8 53.5 12.0 55.0 12.3C56.5 12.6 56.7 12.2 59.4 13.7C62.1 15.2 65.9 17.6 69.9 20.4C73.9 23.2 77.5 26.4 81.8 29.0C86.1 31.6 88.8 32.9 93.6 34.9C98.4 36.9 104.7 39.0 108.3 40.3C111.9 41.6 115.2 41.6 113.5 42.0C111.8 42.4 103.9 42.0 98.6 42.3C93.3 42.6 87.3 43.1 83.8 43.8C80.3 44.5 82.0 45.0 79.3 46.0C76.6 47.0 73.3 47.8 69.0 49.5C64.7 51.2 59.1 53.9 55.5 55.5C51.9 57.1 51.0 57.5 49.0 58.5C47.0 59.5 46.4 59.6 44.3 61.0C42.2 62.4 39.7 63.8 37.3 66.0C34.9 68.2 33.2 70.4 31.0 73.0C28.8 75.6 27.3 79.2 25.0 80.5C22.7 81.8 19.7 81.5 18.0 80.5C16.3 79.5 15.0 77.6 15.5 75.0C16.0 72.4 18.9 68.8 21.0 66.0C23.1 63.2 25.0 61.8 26.9 59.4C28.8 57.0 30.2 55.4 31.7 52.8C33.2 50.2 34.3 46.1 35.5 45.0C36.7 43.9 37.0 46.8 38.4 46.5C39.8 46.2 42.0 44.9 43.2 43.3C44.4 41.7 44.3 40.4 45.1 37.6C45.9 34.8 47.1 31.2 47.9 28.0C48.7 24.8 49.3 22.3 49.5 20.0C49.7 17.7 48.5 16.4 48.8 15.0C49.1 13.6 49.9 12.8 51.0 12.3Z" fill="url(#gug)"/>
<circle cx="95" cy="108" r="11" fill="#020802"/>
<rect x="1" y="0" width="1" height="130" fill="#0c3e0c" opacity="0.5"/>
<path d="M113 42.6 C103 42.6 90 43.2 84 44.2 C75 46.5 62 52 50 58 C45 60 41 63 38 65" fill="none" stroke="#020802" stroke-width="1.4" opacity="0.7"/>
</g>
<g filter="url(#soft)"><circle cx="57.5" cy="38.5" r="1.9" fill="#020802" opacity="0.65"/><circle cx="65.8" cy="36.1" r="2.1" fill="#020802" opacity="0.65"/><circle cx="63.2" cy="40" r="1" fill="#020802" opacity="0.4"/></g>
</svg>
<svg x="640.7" y="509" width="116.8" height="120" viewBox="0 0 116 119.2">
<defs><radialGradient id="gur" gradientUnits="userSpaceOnUse" cx="64" cy="38" r="56"><stop offset="0" stop-color="#a21212"/><stop offset="0.5" stop-color="#a21212"/><stop offset="1" stop-color="#a21212" stop-opacity="0.15"/></radialGradient><radialGradient id="glr" gradientUnits="userSpaceOnUse" cx="70" cy="66" r="40"><stop offset="0" stop-color="#8a1010"/><stop offset="0.6" stop-color="#8a1010"/><stop offset="1" stop-color="#8a1010" stop-opacity="0.55"/></radialGradient><linearGradient id="grr" gradientUnits="userSpaceOnUse" x1="0" y1="55" x2="0" y2="112"><stop offset="0" stop-color="#3e0909"/><stop offset="0.6" stop-color="#3e0909"/><stop offset="1" stop-color="#3e0909" stop-opacity="0.2"/></linearGradient></defs>
<rect width="120" height="130" fill="#070101"/>
<g filter="url(#cellf)">
<rect width="120" height="130" fill="#070101"/>
<path d="M64.1 -1.0C72.4 -3.0 106.5 -6.2 116.0 -1.0C125.5 4.2 118.4 22.7 117.0 28.0C115.6 33.3 112.5 28.8 108.3 28.3C104.1 27.8 99.3 27.0 93.6 25.3C87.9 23.6 81.1 21.9 76.9 19.1C72.7 16.3 72.3 13.6 70.0 10.0C67.7 6.4 55.8 1.0 64.1 -1.0Z" fill="#1f0505"/>
<circle cx="111" cy="16.5" r="5" fill="#070101" opacity="0.8"/>
<path d="M98.6 49.0C100.0 44.8 103.9 48.0 107.0 47.5C110.1 47.0 114.4 40.5 116.0 46.4C117.6 52.2 116.5 71.5 116.0 80.0C115.5 88.5 115.4 88.2 113.3 93.8C111.2 99.4 105.9 110.2 104.1 111.3C102.3 112.4 103.6 104.2 103.2 100.0C102.8 95.8 102.4 93.3 101.7 88.0C101.0 82.7 100.0 77.6 99.4 70.6C98.8 63.6 97.2 53.2 98.6 49.0Z" fill="url(#grr)"/>
<path d="M50.0 62.5C51.0 60.7 56.0 59.5 59.4 57.8C62.8 56.1 65.4 54.4 69.0 53.3C72.6 52.2 76.5 51.6 79.3 51.5C82.1 51.4 83.2 50.1 84.5 52.5C85.8 54.9 85.8 60.0 86.6 65.0C87.4 70.0 87.5 75.7 89.0 80.0C90.5 84.3 93.7 86.0 95.0 89.0C96.3 92.0 96.9 95.5 96.0 96.5C95.1 97.5 92.2 95.0 90.0 94.5C87.8 94.0 86.5 93.2 84.0 93.5C81.5 93.8 78.0 95.3 76.0 96.0C74.0 96.7 74.6 98.9 73.0 97.5C71.4 96.1 69.5 91.8 67.0 88.0C64.5 84.2 61.3 80.1 59.0 76.5C56.7 72.9 55.6 70.5 54.0 68.0C52.4 65.5 49.0 64.3 50.0 62.5Z" fill="url(#glr)"/>
<path d="M51.0 12.3C52.1 11.8 53.5 12.0 55.0 12.3C56.5 12.6 56.7 12.2 59.4 13.7C62.1 15.2 65.9 17.6 69.9 20.4C73.9 23.2 77.5 26.4 81.8 29.0C86.1 31.6 88.8 32.9 93.6 34.9C98.4 36.9 104.7 39.0 108.3 40.3C111.9 41.6 115.2 41.6 113.5 42.0C111.8 42.4 103.9 42.0 98.6 42.3C93.3 42.6 87.3 43.1 83.8 43.8C80.3 44.5 82.0 45.0 79.3 46.0C76.6 47.0 73.3 47.8 69.0 49.5C64.7 51.2 59.1 53.9 55.5 55.5C51.9 57.1 51.0 57.5 49.0 58.5C47.0 59.5 46.4 59.6 44.3 61.0C42.2 62.4 39.7 63.8 37.3 66.0C34.9 68.2 33.2 70.4 31.0 73.0C28.8 75.6 27.3 79.2 25.0 80.5C22.7 81.8 19.7 81.5 18.0 80.5C16.3 79.5 15.0 77.6 15.5 75.0C16.0 72.4 18.9 68.8 21.0 66.0C23.1 63.2 25.0 61.8 26.9 59.4C28.8 57.0 30.2 55.4 31.7 52.8C33.2 50.2 34.3 46.1 35.5 45.0C36.7 43.9 37.0 46.8 38.4 46.5C39.8 46.2 42.0 44.9 43.2 43.3C44.4 41.7 44.3 40.4 45.1 37.6C45.9 34.8 47.1 31.2 47.9 28.0C48.7 24.8 49.3 22.3 49.5 20.0C49.7 17.7 48.5 16.4 48.8 15.0C49.1 13.6 49.9 12.8 51.0 12.3Z" fill="url(#gur)"/>
<circle cx="95" cy="108" r="11" fill="#070101"/>
<rect x="1" y="0" width="1" height="130" fill="#3e0909" opacity="0.5"/>
<path d="M113 42.6 C103 42.6 90 43.2 84 44.2 C75 46.5 62 52 50 58 C45 60 41 63 38 65" fill="none" stroke="#070101" stroke-width="1.4" opacity="0.7"/>
</g>
<g filter="url(#soft)"><circle cx="57.5" cy="38.5" r="1.9" fill="#070101" opacity="0.65"/><circle cx="65.8" cy="36.1" r="2.1" fill="#070101" opacity="0.65"/><circle cx="63.2" cy="40" r="1" fill="#070101" opacity="0.4"/></g>
</svg>
</svg>
</body></html>
